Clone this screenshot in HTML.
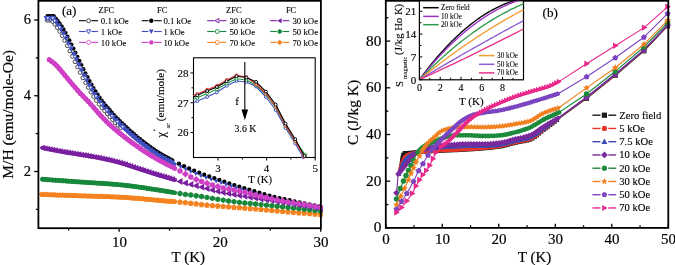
<!DOCTYPE html>
<html><head><meta charset="utf-8"><style>html,body{margin:0;padding:0;background:#fff;}svg{display:block;will-change:transform;}</style></head><body>
<svg width="675" height="265" viewBox="0 0 675 265">
<rect width="675" height="265" fill="#fff"/>
<g font-family='"Liberation Serif", serif' stroke-width="0">
<polyline points="41.8,194.5 42.8,194.5 43.8,194.6 44.8,194.6 45.8,194.6 46.8,194.7 47.8,194.7 48.8,194.7 49.8,194.8 50.8,194.8 51.8,194.8 52.8,194.9 53.8,194.9 54.8,194.9 55.8,195.0 56.8,195.0 57.8,195.0 58.8,195.1 59.8,195.1 60.8,195.1 61.8,195.2 62.8,195.2 63.8,195.2 64.8,195.3 65.8,195.3 66.8,195.3 67.8,195.4 68.8,195.4 69.8,195.5 70.8,195.5 71.8,195.5 72.8,195.6 73.8,195.6 74.8,195.6 75.8,195.7 76.8,195.7 77.8,195.7 78.8,195.8 79.8,195.8 80.8,195.8 81.8,195.9 82.8,195.9 83.8,195.9 84.8,196.0 85.8,196.0 86.8,196.0 87.8,196.1 88.8,196.1 89.8,196.1 90.8,196.1 91.8,196.2 92.8,196.2 93.8,196.2 94.8,196.3 95.8,196.3 96.8,196.3 97.8,196.4 98.8,196.4 99.8,196.4 100.8,196.5 101.8,196.5 102.8,196.5 103.8,196.5 104.8,196.6 105.8,196.6 106.8,196.7 107.8,196.7 108.8,196.7 109.8,196.8 110.8,196.8 111.8,196.8 112.8,196.9 113.8,196.9 114.8,197.0 115.8,197.0 116.8,197.0 117.8,197.1 118.8,197.1 119.8,197.2 120.8,197.2 121.8,197.3 122.8,197.4 123.8,197.4 124.8,197.5 125.8,197.5 126.8,197.6 127.8,197.7 128.8,197.7 129.8,197.8 130.8,197.9 131.8,198.0 132.8,198.1 133.8,198.1 134.8,198.2 135.8,198.3 136.8,198.4 137.8,198.5 138.8,198.6 139.8,198.7 140.8,198.8 141.8,198.8 142.8,198.9 143.8,199.0 144.8,199.1 145.8,199.2 146.8,199.3 147.8,199.4 148.8,199.5 149.8,199.6 150.8,199.7 151.8,199.8 152.8,199.9 153.8,200.0 154.8,200.0 155.8,200.1 156.8,200.2 157.8,200.3 158.8,200.4 159.8,200.5 160.8,200.6 161.8,200.6 162.8,200.7 163.8,200.8 164.8,200.9 165.8,201.0 166.8,201.1 167.8,201.1 168.8,201.2 169.8,201.3 170.8,201.4 171.8,201.5 172.8,201.5 173.8,201.6 174.8,201.7 174.8,201.7" fill="none" stroke="#f5821f" stroke-width="4.2" stroke-linejoin="round" stroke-linecap="round" />
<polygon points="41.8,191.6 44.5,193.6 43.5,196.8 40.1,196.8 39.1,193.6" fill="#f5821f"/>
<polygon points="44.4,191.7 47.1,193.7 46.1,196.9 42.7,196.9 41.7,193.7" fill="#f5821f"/>
<polygon points="47.0,191.8 49.7,193.8 48.7,197.0 45.3,197.0 44.3,193.8" fill="#f5821f"/>
<polygon points="49.6,191.9 52.3,193.9 51.3,197.1 47.9,197.1 46.9,193.9" fill="#f5821f"/>
<polygon points="52.2,192.0 54.9,194.0 53.9,197.2 50.5,197.2 49.5,194.0" fill="#f5821f"/>
<polygon points="54.8,192.1 57.5,194.1 56.5,197.3 53.1,197.3 52.1,194.1" fill="#f5821f"/>
<polygon points="57.4,192.2 60.1,194.1 59.1,197.4 55.7,197.4 54.7,194.1" fill="#f5821f"/>
<polygon points="60.0,192.2 62.7,194.2 61.7,197.4 58.3,197.4 57.3,194.2" fill="#f5821f"/>
<polygon points="62.6,192.3 65.3,194.3 64.3,197.5 60.9,197.5 59.9,194.3" fill="#f5821f"/>
<polygon points="65.2,192.4 67.9,194.4 66.9,197.6 63.5,197.6 62.5,194.4" fill="#f5821f"/>
<polygon points="67.8,192.5 70.5,194.5 69.5,197.7 66.1,197.7 65.1,194.5" fill="#f5821f"/>
<polygon points="70.4,192.6 73.1,194.6 72.1,197.8 68.7,197.8 67.7,194.6" fill="#f5821f"/>
<polygon points="73.0,192.7 75.7,194.7 74.7,197.9 71.3,197.9 70.3,194.7" fill="#f5821f"/>
<polygon points="75.6,192.8 78.3,194.8 77.3,198.0 73.9,198.0 72.9,194.8" fill="#f5821f"/>
<polygon points="78.2,192.9 80.9,194.8 79.9,198.1 76.5,198.1 75.5,194.8" fill="#f5821f"/>
<polygon points="80.8,193.0 83.5,194.9 82.5,198.2 79.1,198.2 78.1,194.9" fill="#f5821f"/>
<polygon points="83.4,193.0 86.1,195.0 85.1,198.2 81.7,198.2 80.7,195.0" fill="#f5821f"/>
<polygon points="86.0,193.1 88.7,195.1 87.7,198.3 84.3,198.3 83.3,195.1" fill="#f5821f"/>
<polygon points="88.6,193.2 91.3,195.2 90.3,198.4 86.9,198.4 85.9,195.2" fill="#f5821f"/>
<polygon points="91.2,193.3 93.9,195.3 92.9,198.5 89.5,198.5 88.5,195.3" fill="#f5821f"/>
<polygon points="93.8,193.4 96.5,195.3 95.5,198.6 92.1,198.6 91.1,195.3" fill="#f5821f"/>
<polygon points="96.4,193.4 99.1,195.4 98.1,198.6 94.7,198.6 93.7,195.4" fill="#f5821f"/>
<polygon points="99.0,193.5 101.7,195.5 100.7,198.7 97.3,198.7 96.3,195.5" fill="#f5821f"/>
<polygon points="101.6,193.6 104.3,195.6 103.3,198.8 99.9,198.8 98.9,195.6" fill="#f5821f"/>
<polygon points="104.2,193.7 106.9,195.7 105.9,198.9 102.5,198.9 101.5,195.7" fill="#f5821f"/>
<polygon points="106.8,193.8 109.5,195.8 108.5,199.0 105.1,199.0 104.1,195.8" fill="#f5821f"/>
<polygon points="109.4,193.9 112.1,195.9 111.1,199.1 107.7,199.1 106.7,195.9" fill="#f5821f"/>
<polygon points="112.0,194.0 114.7,196.0 113.7,199.2 110.3,199.2 109.3,196.0" fill="#f5821f"/>
<polygon points="114.6,194.1 117.3,196.1 116.3,199.3 112.9,199.3 111.9,196.1" fill="#f5821f"/>
<polygon points="117.2,194.2 119.9,196.2 118.9,199.4 115.5,199.4 114.5,196.2" fill="#f5821f"/>
<polygon points="119.8,194.3 122.5,196.3 121.5,199.5 118.1,199.5 117.1,196.3" fill="#f5821f"/>
<polygon points="122.4,194.5 125.1,196.4 124.1,199.7 120.7,199.7 119.7,196.4" fill="#f5821f"/>
<polygon points="125.0,194.6 127.7,196.6 126.7,199.8 123.3,199.8 122.3,196.6" fill="#f5821f"/>
<polygon points="127.6,194.8 130.3,196.8 129.3,200.0 125.9,200.0 124.9,196.8" fill="#f5821f"/>
<polygon points="130.2,195.0 132.9,197.0 131.9,200.2 128.5,200.2 127.5,197.0" fill="#f5821f"/>
<polygon points="132.8,195.2 135.5,197.2 134.5,200.4 131.1,200.4 130.1,197.2" fill="#f5821f"/>
<polygon points="135.4,195.4 138.1,197.4 137.1,200.6 133.7,200.6 132.7,197.4" fill="#f5821f"/>
<polygon points="138.0,195.6 140.7,197.6 139.7,200.8 136.3,200.8 135.3,197.6" fill="#f5821f"/>
<polygon points="140.6,195.9 143.3,197.8 142.3,201.1 138.9,201.1 137.9,197.8" fill="#f5821f"/>
<polygon points="143.2,196.1 145.9,198.1 144.9,201.3 141.5,201.3 140.5,198.1" fill="#f5821f"/>
<polygon points="145.8,196.3 148.5,198.3 147.5,201.5 144.1,201.5 143.1,198.3" fill="#f5821f"/>
<polygon points="148.4,196.6 151.1,198.6 150.1,201.8 146.7,201.8 145.7,198.6" fill="#f5821f"/>
<polygon points="151.0,196.8 153.7,198.8 152.7,202.0 149.3,202.0 148.3,198.8" fill="#f5821f"/>
<polygon points="153.6,197.1 156.3,199.1 155.3,202.3 151.9,202.3 150.9,199.1" fill="#f5821f"/>
<polygon points="156.2,197.3 158.9,199.3 157.9,202.5 154.5,202.5 153.5,199.3" fill="#f5821f"/>
<polygon points="158.8,197.5 161.5,199.5 160.5,202.7 157.1,202.7 156.1,199.5" fill="#f5821f"/>
<polygon points="161.4,197.7 164.1,199.7 163.1,202.9 159.7,202.9 158.7,199.7" fill="#f5821f"/>
<polygon points="164.0,198.0 166.7,199.9 165.7,203.2 162.3,203.2 161.3,199.9" fill="#f5821f"/>
<polygon points="166.6,198.2 169.3,200.1 168.3,203.4 164.9,203.4 163.9,200.1" fill="#f5821f"/>
<polygon points="169.2,198.4 171.9,200.4 170.9,203.6 167.5,203.6 166.5,200.4" fill="#f5821f"/>
<polygon points="171.8,198.6 174.5,200.6 173.5,203.8 170.1,203.8 169.1,200.6" fill="#f5821f"/>
<polygon points="174.4,198.8 177.1,200.8 176.1,204.0 172.7,204.0 171.7,200.8" fill="#f5821f"/>
<polygon points="180.0,199.0 183.0,201.2 181.9,204.7 178.1,204.7 177.0,201.2" fill="#f5821f"/>
<polygon points="185.4,199.5 188.4,201.7 187.3,205.2 183.5,205.2 182.4,201.7" fill="#f5821f"/>
<polygon points="190.8,200.2 193.8,202.3 192.7,205.9 188.9,205.9 187.8,202.3" fill="#f5821f"/>
<polygon points="196.2,200.8 199.2,203.0 198.1,206.5 194.3,206.5 193.2,203.0" fill="#f5821f"/>
<polygon points="201.6,201.5 204.6,203.6 203.5,207.2 199.7,207.2 198.6,203.6" fill="#f5821f"/>
<polygon points="207.0,202.0 210.0,204.2 208.9,207.7 205.1,207.7 204.0,204.2" fill="#f5821f"/>
<polygon points="212.4,202.5 215.4,204.7 214.3,208.2 210.5,208.2 209.4,204.7" fill="#f5821f"/>
<polygon points="217.8,202.9 220.8,205.1 219.7,208.7 215.9,208.7 214.8,205.1" fill="#f5821f"/>
<polygon points="223.2,203.4 226.2,205.5 225.1,209.1 221.3,209.1 220.2,205.5" fill="#f5821f"/>
<polygon points="228.6,203.8 231.6,206.0 230.5,209.5 226.7,209.5 225.6,206.0" fill="#f5821f"/>
<polygon points="234.0,204.2 237.0,206.4 235.9,209.9 232.1,209.9 231.0,206.4" fill="#f5821f"/>
<polygon points="239.4,204.6 242.4,206.8 241.3,210.3 237.5,210.3 236.4,206.8" fill="#f5821f"/>
<polygon points="244.8,205.0 247.8,207.2 246.7,210.7 242.9,210.7 241.8,207.2" fill="#f5821f"/>
<polygon points="250.2,205.5 253.2,207.6 252.1,211.2 248.3,211.2 247.2,207.6" fill="#f5821f"/>
<polygon points="255.6,205.9 258.6,208.1 257.5,211.6 253.7,211.6 252.6,208.1" fill="#f5821f"/>
<polygon points="261.0,206.4 264.0,208.5 262.9,212.1 259.1,212.1 258.0,208.5" fill="#f5821f"/>
<polygon points="266.4,206.8 269.4,209.0 268.3,212.5 264.5,212.5 263.4,209.0" fill="#f5821f"/>
<polygon points="271.8,207.3 274.8,209.4 273.7,213.0 269.9,213.0 268.8,209.4" fill="#f5821f"/>
<polygon points="277.2,207.7 280.2,209.9 279.1,213.4 275.3,213.4 274.2,209.9" fill="#f5821f"/>
<polygon points="282.6,208.2 285.6,210.4 284.5,213.9 280.7,213.9 279.6,210.4" fill="#f5821f"/>
<polygon points="288.0,208.7 291.0,210.9 289.9,214.4 286.1,214.4 285.0,210.9" fill="#f5821f"/>
<polygon points="293.4,209.2 296.4,211.3 295.3,214.9 291.5,214.9 290.4,211.3" fill="#f5821f"/>
<polygon points="298.8,209.6 301.8,211.8 300.7,215.4 296.9,215.4 295.8,211.8" fill="#f5821f"/>
<polygon points="304.2,210.1 307.2,212.3 306.1,215.8 302.3,215.8 301.2,212.3" fill="#f5821f"/>
<polygon points="309.6,210.6 312.6,212.8 311.5,216.3 307.7,216.3 306.6,212.8" fill="#f5821f"/>
<polygon points="315.0,211.1 318.0,213.3 316.9,216.8 313.1,216.8 312.0,213.3" fill="#f5821f"/>
<polygon points="320.4,211.6 323.4,213.8 322.3,217.3 318.5,217.3 317.4,213.8" fill="#f5821f"/>
<polyline points="42.5,179.3 43.5,179.4 44.5,179.4 45.5,179.5 46.5,179.6 47.5,179.7 48.5,179.7 49.5,179.8 50.5,179.9 51.5,179.9 52.5,180.0 53.5,180.1 54.5,180.2 55.5,180.2 56.5,180.3 57.5,180.4 58.5,180.5 59.5,180.5 60.5,180.6 61.5,180.7 62.5,180.7 63.5,180.8 64.5,180.9 65.5,181.0 66.5,181.0 67.5,181.1 68.5,181.2 69.5,181.2 70.5,181.3 71.5,181.4 72.5,181.5 73.5,181.5 74.5,181.6 75.5,181.7 76.5,181.8 77.5,181.8 78.5,181.9 79.5,182.0 80.5,182.0 81.5,182.1 82.5,182.2 83.5,182.2 84.5,182.3 85.5,182.4 86.5,182.4 87.5,182.5 88.5,182.6 89.5,182.6 90.5,182.7 91.5,182.8 92.5,182.8 93.5,182.9 94.5,182.9 95.5,183.0 96.5,183.1 97.5,183.1 98.5,183.2 99.5,183.3 100.5,183.3 101.5,183.4 102.5,183.5 103.5,183.5 104.5,183.6 105.5,183.7 106.5,183.7 107.5,183.8 108.5,183.9 109.5,183.9 110.5,184.0 111.5,184.1 112.5,184.2 113.5,184.2 114.5,184.3 115.5,184.4 116.5,184.5 117.5,184.6 118.5,184.7 119.5,184.8 120.5,184.8 121.5,184.9 122.5,185.0 123.5,185.1 124.5,185.3 125.5,185.4 126.5,185.5 127.5,185.6 128.5,185.7 129.5,185.8 130.5,186.0 131.5,186.1 132.5,186.2 133.5,186.4 134.5,186.5 135.5,186.6 136.5,186.8 137.5,186.9 138.5,187.0 139.5,187.2 140.5,187.3 141.5,187.5 142.5,187.6 143.5,187.8 144.5,187.9 145.5,188.1 146.5,188.2 147.5,188.4 148.5,188.5 149.5,188.7 150.5,188.8 151.5,189.0 152.5,189.2 153.5,189.3 154.5,189.5 155.5,189.6 156.5,189.8 157.5,189.9 158.5,190.1 159.5,190.2 160.5,190.4 161.5,190.5 162.5,190.7 163.5,190.8 164.5,191.0 165.5,191.2 166.5,191.3 167.5,191.5 168.5,191.7 169.5,191.8 170.5,192.0 171.5,192.2 172.5,192.3 173.5,192.5 174.5,192.7 175.0,192.8" fill="none" stroke="#17883b" stroke-width="4.3" stroke-linejoin="round" stroke-linecap="round" />
<polygon points="42.5,182.0 40.2,180.6 40.2,178.0 42.5,176.6 44.8,178.0 44.8,180.6" fill="#17883b"/>
<polygon points="45.1,182.2 42.8,180.8 42.8,178.1 45.1,176.8 47.4,178.1 47.4,180.8" fill="#17883b"/>
<polygon points="47.7,182.4 45.4,181.0 45.4,178.3 47.7,177.0 50.0,178.3 50.0,181.0" fill="#17883b"/>
<polygon points="50.3,182.6 48.0,181.2 48.0,178.5 50.3,177.2 52.6,178.5 52.6,181.2" fill="#17883b"/>
<polygon points="52.9,182.7 50.6,181.4 50.6,178.7 52.9,177.4 55.2,178.7 55.2,181.4" fill="#17883b"/>
<polygon points="55.5,182.9 53.2,181.6 53.2,178.9 55.5,177.5 57.8,178.9 57.8,181.6" fill="#17883b"/>
<polygon points="58.1,183.1 55.8,181.8 55.8,179.1 58.1,177.7 60.4,179.1 60.4,181.8" fill="#17883b"/>
<polygon points="60.7,183.3 58.4,182.0 58.4,179.3 60.7,177.9 63.0,179.3 63.0,182.0" fill="#17883b"/>
<polygon points="63.3,183.5 61.0,182.2 61.0,179.5 63.3,178.1 65.6,179.5 65.6,182.2" fill="#17883b"/>
<polygon points="65.9,183.7 63.6,182.3 63.6,179.6 65.9,178.3 68.2,179.6 68.2,182.3" fill="#17883b"/>
<polygon points="68.5,183.9 66.2,182.5 66.2,179.8 68.5,178.5 70.8,179.8 70.8,182.5" fill="#17883b"/>
<polygon points="71.1,184.1 68.8,182.7 68.8,180.0 71.1,178.7 73.4,180.0 73.4,182.7" fill="#17883b"/>
<polygon points="73.7,184.2 71.4,182.9 71.4,180.2 73.7,178.9 76.0,180.2 76.0,182.9" fill="#17883b"/>
<polygon points="76.3,184.4 74.0,183.1 74.0,180.4 76.3,179.0 78.6,180.4 78.6,183.1" fill="#17883b"/>
<polygon points="78.9,184.6 76.6,183.3 76.6,180.6 78.9,179.2 81.2,180.6 81.2,183.3" fill="#17883b"/>
<polygon points="81.5,184.8 79.2,183.5 79.2,180.8 81.5,179.4 83.8,180.8 83.8,183.5" fill="#17883b"/>
<polygon points="84.1,185.0 81.8,183.6 81.8,180.9 84.1,179.6 86.4,180.9 86.4,183.6" fill="#17883b"/>
<polygon points="86.7,185.1 84.4,183.8 84.4,181.1 86.7,179.8 89.0,181.1 89.0,183.8" fill="#17883b"/>
<polygon points="89.3,185.3 87.0,184.0 87.0,181.3 89.3,179.9 91.6,181.3 91.6,184.0" fill="#17883b"/>
<polygon points="91.9,185.5 89.6,184.1 89.6,181.4 91.9,180.1 94.2,181.4 94.2,184.1" fill="#17883b"/>
<polygon points="94.5,185.6 92.2,184.3 92.2,181.6 94.5,180.2 96.8,181.6 96.8,184.3" fill="#17883b"/>
<polygon points="97.1,185.8 94.8,184.5 94.8,181.8 97.1,180.4 99.4,181.8 99.4,184.5" fill="#17883b"/>
<polygon points="99.7,186.0 97.4,184.6 97.4,181.9 99.7,180.6 102.0,181.9 102.0,184.6" fill="#17883b"/>
<polygon points="102.3,186.1 100.0,184.8 100.0,182.1 102.3,180.7 104.6,182.1 104.6,184.8" fill="#17883b"/>
<polygon points="104.9,186.3 102.6,185.0 102.6,182.3 104.9,180.9 107.2,182.3 107.2,185.0" fill="#17883b"/>
<polygon points="107.5,186.5 105.2,185.1 105.2,182.4 107.5,181.1 109.8,182.4 109.8,185.1" fill="#17883b"/>
<polygon points="110.1,186.7 107.8,185.3 107.8,182.6 110.1,181.3 112.4,182.6 112.4,185.3" fill="#17883b"/>
<polygon points="112.7,186.9 110.4,185.5 110.4,182.8 112.7,181.5 115.0,182.8 115.0,185.5" fill="#17883b"/>
<polygon points="115.3,187.1 113.0,185.7 113.0,183.0 115.3,181.7 117.6,183.0 117.6,185.7" fill="#17883b"/>
<polygon points="117.9,187.3 115.6,186.0 115.6,183.3 117.9,181.9 120.2,183.3 120.2,186.0" fill="#17883b"/>
<polygon points="120.5,187.5 118.2,186.2 118.2,183.5 120.5,182.2 122.8,183.5 122.8,186.2" fill="#17883b"/>
<polygon points="123.1,187.8 120.8,186.5 120.8,183.8 123.1,182.4 125.4,183.8 125.4,186.5" fill="#17883b"/>
<polygon points="125.7,188.1 123.4,186.7 123.4,184.0 125.7,182.7 128.0,184.0 128.0,186.7" fill="#17883b"/>
<polygon points="128.3,188.4 126.0,187.0 126.0,184.3 128.3,183.0 130.6,184.3 130.6,187.0" fill="#17883b"/>
<polygon points="130.9,188.7 128.6,187.4 128.6,184.7 130.9,183.3 133.2,184.7 133.2,187.4" fill="#17883b"/>
<polygon points="133.5,189.0 131.2,187.7 131.2,185.0 133.5,183.7 135.8,185.0 135.8,187.7" fill="#17883b"/>
<polygon points="136.1,189.4 133.8,188.1 133.8,185.4 136.1,184.0 138.4,185.4 138.4,188.1" fill="#17883b"/>
<polygon points="138.7,189.8 136.4,188.4 136.4,185.7 138.7,184.4 141.0,185.7 141.0,188.4" fill="#17883b"/>
<polygon points="141.3,190.1 139.0,188.8 139.0,186.1 141.3,184.8 143.6,186.1 143.6,188.8" fill="#17883b"/>
<polygon points="143.9,190.5 141.6,189.2 141.6,186.5 143.9,185.1 146.2,186.5 146.2,189.2" fill="#17883b"/>
<polygon points="146.5,190.9 144.2,189.6 144.2,186.9 146.5,185.5 148.8,186.9 148.8,189.6" fill="#17883b"/>
<polygon points="149.1,191.3 146.8,190.0 146.8,187.3 149.1,185.9 151.4,187.3 151.4,190.0" fill="#17883b"/>
<polygon points="151.7,191.7 149.4,190.4 149.4,187.7 151.7,186.3 154.0,187.7 154.0,190.4" fill="#17883b"/>
<polygon points="154.3,192.1 152.0,190.8 152.0,188.1 154.3,186.7 156.6,188.1 156.6,190.8" fill="#17883b"/>
<polygon points="156.9,192.5 154.6,191.2 154.6,188.5 156.9,187.1 159.2,188.5 159.2,191.2" fill="#17883b"/>
<polygon points="159.5,192.9 157.2,191.6 157.2,188.9 159.5,187.5 161.8,188.9 161.8,191.6" fill="#17883b"/>
<polygon points="162.1,193.3 159.8,192.0 159.8,189.3 162.1,187.9 164.4,189.3 164.4,192.0" fill="#17883b"/>
<polygon points="164.7,193.7 162.4,192.4 162.4,189.7 164.7,188.3 167.0,189.7 167.0,192.4" fill="#17883b"/>
<polygon points="167.3,194.2 165.0,192.8 165.0,190.1 167.3,188.8 169.6,190.1 169.6,192.8" fill="#17883b"/>
<polygon points="169.9,194.6 167.6,193.3 167.6,190.6 169.9,189.2 172.2,190.6 172.2,193.3" fill="#17883b"/>
<polygon points="172.5,195.0 170.2,193.7 170.2,191.0 172.5,189.7 174.8,191.0 174.8,193.7" fill="#17883b"/>
<polygon points="180.0,196.5 177.4,195.1 177.4,192.1 180.0,190.6 182.6,192.1 182.6,195.1" fill="#17883b"/>
<polygon points="185.4,197.3 182.8,195.9 182.8,192.9 185.4,191.4 188.0,192.9 188.0,195.9" fill="#17883b"/>
<polygon points="190.8,198.1 188.2,196.6 188.2,193.6 190.8,192.1 193.4,193.6 193.4,196.6" fill="#17883b"/>
<polygon points="196.2,198.8 193.6,197.3 193.6,194.3 196.2,192.8 198.8,194.3 198.8,197.3" fill="#17883b"/>
<polygon points="201.6,199.5 199.0,198.0 199.0,195.1 201.6,193.6 204.2,195.1 204.2,198.0" fill="#17883b"/>
<polygon points="207.0,200.3 204.4,198.9 204.4,195.9 207.0,194.4 209.6,195.9 209.6,198.9" fill="#17883b"/>
<polygon points="212.4,201.3 209.8,199.8 209.8,196.9 212.4,195.4 215.0,196.9 215.0,199.8" fill="#17883b"/>
<polygon points="217.8,202.3 215.2,200.8 215.2,197.8 217.8,196.4 220.4,197.8 220.4,200.8" fill="#17883b"/>
<polygon points="223.2,203.1 220.6,201.6 220.6,198.7 223.2,197.2 225.8,198.7 225.8,201.6" fill="#17883b"/>
<polygon points="228.6,203.9 226.0,202.4 226.0,199.4 228.6,198.0 231.2,199.4 231.2,202.4" fill="#17883b"/>
<polygon points="234.0,204.6 231.4,203.1 231.4,200.2 234.0,198.7 236.6,200.2 236.6,203.1" fill="#17883b"/>
<polygon points="239.4,205.3 236.8,203.8 236.8,200.9 239.4,199.4 242.0,200.9 242.0,203.8" fill="#17883b"/>
<polygon points="244.8,205.9 242.2,204.5 242.2,201.5 244.8,200.0 247.4,201.5 247.4,204.5" fill="#17883b"/>
<polygon points="250.2,206.5 247.6,205.1 247.6,202.1 250.2,200.6 252.8,202.1 252.8,205.1" fill="#17883b"/>
<polygon points="255.6,207.1 253.0,205.6 253.0,202.6 255.6,201.1 258.2,202.6 258.2,205.6" fill="#17883b"/>
<polygon points="261.0,207.6 258.4,206.1 258.4,203.2 261.0,201.7 263.6,203.2 263.6,206.1" fill="#17883b"/>
<polygon points="266.4,208.1 263.8,206.6 263.8,203.7 266.4,202.2 269.0,203.7 269.0,206.6" fill="#17883b"/>
<polygon points="271.8,208.6 269.2,207.2 269.2,204.2 271.8,202.7 274.4,204.2 274.4,207.2" fill="#17883b"/>
<polygon points="277.2,209.2 274.6,207.7 274.6,204.7 277.2,203.3 279.8,204.7 279.8,207.7" fill="#17883b"/>
<polygon points="282.6,209.8 280.0,208.3 280.0,205.3 282.6,203.8 285.2,205.3 285.2,208.3" fill="#17883b"/>
<polygon points="288.0,210.4 285.4,208.9 285.4,205.9 288.0,204.4 290.6,205.9 290.6,208.9" fill="#17883b"/>
<polygon points="293.4,211.0 290.8,209.5 290.8,206.5 293.4,205.0 296.0,206.5 296.0,209.5" fill="#17883b"/>
<polygon points="298.8,211.6 296.2,210.1 296.2,207.1 298.8,205.6 301.4,207.1 301.4,210.1" fill="#17883b"/>
<polygon points="304.2,212.2 301.6,210.7 301.6,207.7 304.2,206.3 306.8,207.7 306.8,210.7" fill="#17883b"/>
<polygon points="309.6,212.8 307.0,211.3 307.0,208.4 309.6,206.9 312.2,208.4 312.2,211.3" fill="#17883b"/>
<polygon points="315.0,213.4 312.4,211.9 312.4,209.0 315.0,207.5 317.6,209.0 317.6,211.9" fill="#17883b"/>
<polygon points="320.4,214.0 317.8,212.5 317.8,209.6 320.4,208.1 323.0,209.6 323.0,212.5" fill="#17883b"/>
<polyline points="42.5,147.8 43.5,148.0 44.5,148.2 45.5,148.4 46.5,148.6 47.5,148.8 48.5,149.0 49.5,149.2 50.5,149.4 51.5,149.6 52.5,149.8 53.5,150.0 54.5,150.2 55.5,150.4 56.5,150.6 57.5,150.8 58.5,151.0 59.5,151.1 60.5,151.3 61.5,151.5 62.5,151.7 63.5,151.9 64.5,152.0 65.5,152.2 66.5,152.4 67.5,152.5 68.5,152.7 69.5,152.8 70.5,153.0 71.5,153.2 72.5,153.3 73.5,153.5 74.5,153.6 75.5,153.8 76.5,154.0 77.5,154.1 78.5,154.3 79.5,154.5 80.5,154.6 81.5,154.8 82.5,155.0 83.5,155.1 84.5,155.3 85.5,155.5 86.5,155.6 87.5,155.8 88.5,155.9 89.5,156.1 90.5,156.3 91.5,156.4 92.5,156.6 93.5,156.8 94.5,157.0 95.5,157.1 96.5,157.3 97.5,157.5 98.5,157.7 99.5,157.9 100.5,158.1 101.5,158.3 102.5,158.5 103.5,158.7 104.5,158.9 105.5,159.2 106.5,159.4 107.5,159.6 108.5,159.8 109.5,160.1 110.5,160.3 111.5,160.5 112.5,160.8 113.5,161.0 114.5,161.3 115.5,161.5 116.5,161.8 117.5,162.1 118.5,162.3 119.5,162.6 120.5,162.9 121.5,163.2 122.5,163.5 123.5,163.8 124.5,164.1 125.5,164.4 126.5,164.7 127.5,165.0 128.5,165.4 129.5,165.7 130.5,166.0 131.5,166.4 132.5,166.7 133.5,167.1 134.5,167.4 135.5,167.7 136.5,168.1 137.5,168.4 138.5,168.7 139.5,169.0 140.5,169.3 141.5,169.7 142.5,170.0 143.5,170.3 144.5,170.6 145.5,171.0 146.5,171.3 147.5,171.6 148.5,171.9 149.5,172.3 150.5,172.6 151.5,172.9 152.5,173.2 153.5,173.5 154.5,173.8 155.5,174.1 156.5,174.5 157.5,174.8 158.5,175.1 159.5,175.4 160.5,175.6 161.5,175.9 162.5,176.2 163.5,176.5 164.5,176.8 165.5,177.1 166.5,177.4 167.5,177.7 168.5,178.0 169.5,178.3 170.5,178.6 171.5,178.9 172.5,179.2 173.5,179.5 174.5,179.8 175.0,179.9" fill="none" stroke="#7a1fa0" stroke-width="4.2" stroke-linejoin="round" stroke-linecap="round" />
<polygon points="39.3,147.8 44.8,144.7 44.8,150.9" fill="#7a1fa0"/>
<polygon points="41.9,148.3 47.4,145.2 47.4,151.4" fill="#7a1fa0"/>
<polygon points="44.5,148.8 50.0,145.7 50.0,151.9" fill="#7a1fa0"/>
<polygon points="47.1,149.4 52.6,146.3 52.6,152.5" fill="#7a1fa0"/>
<polygon points="49.7,149.9 55.2,146.8 55.2,153.0" fill="#7a1fa0"/>
<polygon points="52.3,150.4 57.8,147.3 57.8,153.5" fill="#7a1fa0"/>
<polygon points="54.9,150.9 60.4,147.8 60.4,154.0" fill="#7a1fa0"/>
<polygon points="57.5,151.4 63.0,148.3 63.0,154.5" fill="#7a1fa0"/>
<polygon points="60.1,151.8 65.6,148.7 65.6,154.9" fill="#7a1fa0"/>
<polygon points="62.7,152.3 68.2,149.1 68.2,155.4" fill="#7a1fa0"/>
<polygon points="65.3,152.7 70.8,149.6 70.8,155.8" fill="#7a1fa0"/>
<polygon points="67.9,153.1 73.4,150.0 73.4,156.2" fill="#7a1fa0"/>
<polygon points="70.5,153.5 76.0,150.4 76.0,156.6" fill="#7a1fa0"/>
<polygon points="73.1,153.9 78.6,150.8 78.6,157.0" fill="#7a1fa0"/>
<polygon points="75.7,154.4 81.2,151.3 81.2,157.5" fill="#7a1fa0"/>
<polygon points="78.3,154.8 83.8,151.7 83.8,157.9" fill="#7a1fa0"/>
<polygon points="80.9,155.2 86.4,152.1 86.4,158.3" fill="#7a1fa0"/>
<polygon points="83.5,155.6 89.0,152.5 89.0,158.8" fill="#7a1fa0"/>
<polygon points="86.1,156.1 91.6,153.0 91.6,159.2" fill="#7a1fa0"/>
<polygon points="88.7,156.5 94.2,153.4 94.2,159.6" fill="#7a1fa0"/>
<polygon points="91.3,157.0 96.8,153.9 96.8,160.1" fill="#7a1fa0"/>
<polygon points="93.9,157.4 99.4,154.3 99.4,160.5" fill="#7a1fa0"/>
<polygon points="96.5,157.9 102.0,154.8 102.0,161.0" fill="#7a1fa0"/>
<polygon points="99.1,158.5 104.6,155.4 104.6,161.6" fill="#7a1fa0"/>
<polygon points="101.7,159.0 107.2,155.9 107.2,162.1" fill="#7a1fa0"/>
<polygon points="104.3,159.6 109.8,156.5 109.8,162.7" fill="#7a1fa0"/>
<polygon points="106.9,160.2 112.4,157.1 112.4,163.3" fill="#7a1fa0"/>
<polygon points="109.5,160.8 115.0,157.7 115.0,163.9" fill="#7a1fa0"/>
<polygon points="112.1,161.5 117.6,158.4 117.6,164.6" fill="#7a1fa0"/>
<polygon points="114.7,162.2 120.2,159.1 120.2,165.3" fill="#7a1fa0"/>
<polygon points="117.3,162.9 122.8,159.8 122.8,166.0" fill="#7a1fa0"/>
<polygon points="119.9,163.6 125.4,160.5 125.4,166.7" fill="#7a1fa0"/>
<polygon points="122.5,164.4 128.0,161.3 128.0,167.6" fill="#7a1fa0"/>
<polygon points="125.1,165.3 130.6,162.2 130.6,168.4" fill="#7a1fa0"/>
<polygon points="127.7,166.2 133.2,163.1 133.2,169.3" fill="#7a1fa0"/>
<polygon points="130.3,167.1 135.8,163.9 135.8,170.2" fill="#7a1fa0"/>
<polygon points="132.9,167.9 138.4,164.8 138.4,171.0" fill="#7a1fa0"/>
<polygon points="135.5,168.8 141.0,165.7 141.0,171.9" fill="#7a1fa0"/>
<polygon points="138.1,169.6 143.6,166.5 143.6,172.7" fill="#7a1fa0"/>
<polygon points="140.7,170.4 146.2,167.3 146.2,173.6" fill="#7a1fa0"/>
<polygon points="143.3,171.3 148.8,168.2 148.8,174.4" fill="#7a1fa0"/>
<polygon points="145.9,172.1 151.4,169.0 151.4,175.2" fill="#7a1fa0"/>
<polygon points="148.5,173.0 154.0,169.9 154.0,176.1" fill="#7a1fa0"/>
<polygon points="151.1,173.8 156.6,170.7 156.6,176.9" fill="#7a1fa0"/>
<polygon points="153.7,174.6 159.2,171.5 159.2,177.7" fill="#7a1fa0"/>
<polygon points="156.3,175.4 161.8,172.2 161.8,178.5" fill="#7a1fa0"/>
<polygon points="158.9,176.1 164.4,173.0 164.4,179.2" fill="#7a1fa0"/>
<polygon points="161.5,176.9 167.0,173.8 167.0,180.0" fill="#7a1fa0"/>
<polygon points="164.1,177.6 169.6,174.5 169.6,180.7" fill="#7a1fa0"/>
<polygon points="166.7,178.4 172.2,175.3 172.2,181.5" fill="#7a1fa0"/>
<polygon points="169.3,179.2 174.8,176.1 174.8,182.3" fill="#7a1fa0"/>
<polygon points="176.4,181.4 182.5,178.0 182.5,184.9" fill="#7a1fa0"/>
<polygon points="181.8,183.0 187.9,179.6 187.9,186.4" fill="#7a1fa0"/>
<polygon points="187.2,184.4 193.3,181.0 193.3,187.8" fill="#7a1fa0"/>
<polygon points="192.6,185.7 198.7,182.3 198.7,189.2" fill="#7a1fa0"/>
<polygon points="198.0,187.1 204.1,183.7 204.1,190.5" fill="#7a1fa0"/>
<polygon points="203.4,188.5 209.5,185.1 209.5,191.9" fill="#7a1fa0"/>
<polygon points="208.8,190.1 214.9,186.6 214.9,193.5" fill="#7a1fa0"/>
<polygon points="214.2,191.4 220.3,188.0 220.3,194.8" fill="#7a1fa0"/>
<polygon points="219.6,192.5 225.7,189.1 225.7,196.0" fill="#7a1fa0"/>
<polygon points="225.0,193.6 231.1,190.2 231.1,197.0" fill="#7a1fa0"/>
<polygon points="230.4,194.5 236.5,191.1 236.5,197.9" fill="#7a1fa0"/>
<polygon points="235.8,195.4 241.9,192.0 241.9,198.9" fill="#7a1fa0"/>
<polygon points="241.2,196.3 247.3,192.9 247.3,199.8" fill="#7a1fa0"/>
<polygon points="246.6,197.2 252.7,193.8 252.7,200.7" fill="#7a1fa0"/>
<polygon points="252.0,198.1 258.1,194.7 258.1,201.5" fill="#7a1fa0"/>
<polygon points="257.4,198.9 263.5,195.5 263.5,202.4" fill="#7a1fa0"/>
<polygon points="262.8,199.8 268.9,196.4 268.9,203.2" fill="#7a1fa0"/>
<polygon points="268.2,200.6 274.3,197.2 274.3,204.0" fill="#7a1fa0"/>
<polygon points="273.6,201.5 279.7,198.1 279.7,204.9" fill="#7a1fa0"/>
<polygon points="279.0,202.3 285.1,198.9 285.1,205.8" fill="#7a1fa0"/>
<polygon points="284.4,203.2 290.5,199.8 290.5,206.6" fill="#7a1fa0"/>
<polygon points="289.8,204.1 295.9,200.7 295.9,207.5" fill="#7a1fa0"/>
<polygon points="295.2,205.0 301.3,201.6 301.3,208.4" fill="#7a1fa0"/>
<polygon points="300.6,205.9 306.7,202.5 306.7,209.3" fill="#7a1fa0"/>
<polygon points="306.0,206.8 312.1,203.4 312.1,210.2" fill="#7a1fa0"/>
<polygon points="311.4,207.7 317.5,204.3 317.5,211.1" fill="#7a1fa0"/>
<polygon points="316.8,208.6 322.9,205.2 322.9,212.0" fill="#7a1fa0"/>
<circle cx="47.1" cy="20.3" r="1.90" fill="#fff" stroke="#333" stroke-width="0.9"/>
<circle cx="49.7" cy="20.3" r="1.90" fill="#fff" stroke="#333" stroke-width="0.9"/>
<circle cx="52.2" cy="20.4" r="1.90" fill="#fff" stroke="#333" stroke-width="0.9"/>
<circle cx="50.8" cy="19.4" r="1.90" fill="#fff" stroke="#333" stroke-width="0.9"/>
<circle cx="52.7" cy="21.5" r="1.90" fill="#fff" stroke="#333" stroke-width="0.9"/>
<circle cx="54.9" cy="24.2" r="1.90" fill="#fff" stroke="#333" stroke-width="0.9"/>
<circle cx="57.3" cy="27.6" r="1.90" fill="#fff" stroke="#333" stroke-width="0.9"/>
<circle cx="59.7" cy="31.4" r="1.90" fill="#fff" stroke="#333" stroke-width="0.9"/>
<circle cx="62.2" cy="35.7" r="1.90" fill="#fff" stroke="#333" stroke-width="0.9"/>
<circle cx="64.6" cy="40.4" r="1.90" fill="#fff" stroke="#333" stroke-width="0.9"/>
<circle cx="67.2" cy="45.7" r="1.90" fill="#fff" stroke="#333" stroke-width="0.9"/>
<circle cx="69.8" cy="51.0" r="1.90" fill="#fff" stroke="#333" stroke-width="0.9"/>
<circle cx="72.4" cy="56.3" r="1.90" fill="#fff" stroke="#333" stroke-width="0.9"/>
<circle cx="75.0" cy="61.7" r="1.90" fill="#fff" stroke="#333" stroke-width="0.9"/>
<circle cx="77.6" cy="67.0" r="1.90" fill="#fff" stroke="#333" stroke-width="0.9"/>
<circle cx="80.2" cy="72.4" r="1.90" fill="#fff" stroke="#333" stroke-width="0.9"/>
<circle cx="82.9" cy="77.8" r="1.90" fill="#fff" stroke="#333" stroke-width="0.9"/>
<circle cx="85.6" cy="82.7" r="1.90" fill="#fff" stroke="#333" stroke-width="0.9"/>
<circle cx="88.2" cy="87.5" r="1.90" fill="#fff" stroke="#333" stroke-width="0.9"/>
<circle cx="90.9" cy="92.1" r="1.90" fill="#fff" stroke="#333" stroke-width="0.9"/>
<circle cx="93.6" cy="96.4" r="1.90" fill="#fff" stroke="#333" stroke-width="0.9"/>
<circle cx="96.3" cy="100.4" r="1.90" fill="#fff" stroke="#333" stroke-width="0.9"/>
<circle cx="99.1" cy="104.2" r="1.90" fill="#fff" stroke="#333" stroke-width="0.9"/>
<circle cx="101.9" cy="107.7" r="1.90" fill="#fff" stroke="#333" stroke-width="0.9"/>
<circle cx="104.6" cy="110.8" r="1.90" fill="#fff" stroke="#333" stroke-width="0.9"/>
<circle cx="107.2" cy="113.8" r="1.90" fill="#fff" stroke="#333" stroke-width="0.9"/>
<circle cx="109.8" cy="116.8" r="1.90" fill="#fff" stroke="#333" stroke-width="0.9"/>
<circle cx="112.5" cy="119.7" r="1.90" fill="#fff" stroke="#333" stroke-width="0.9"/>
<circle cx="115.2" cy="122.6" r="1.90" fill="#fff" stroke="#333" stroke-width="0.9"/>
<circle cx="118.0" cy="125.3" r="1.90" fill="#fff" stroke="#333" stroke-width="0.9"/>
<circle cx="120.7" cy="127.8" r="1.90" fill="#fff" stroke="#333" stroke-width="0.9"/>
<circle cx="47.5" cy="16.0" r="2.10" fill="#000"/>
<circle cx="49.5" cy="16.0" r="2.10" fill="#000"/>
<circle cx="51.5" cy="16.0" r="2.10" fill="#000"/>
<circle cx="53.4" cy="16.1" r="2.10" fill="#000"/>
<circle cx="53.8" cy="16.3" r="2.10" fill="#000"/>
<circle cx="55.8" cy="18.6" r="2.10" fill="#000"/>
<circle cx="57.7" cy="20.8" r="2.10" fill="#000"/>
<circle cx="59.6" cy="23.4" r="2.10" fill="#000"/>
<circle cx="61.6" cy="26.3" r="2.10" fill="#000"/>
<circle cx="63.5" cy="29.4" r="2.10" fill="#000"/>
<circle cx="65.5" cy="32.8" r="2.10" fill="#000"/>
<circle cx="67.5" cy="36.5" r="2.10" fill="#000"/>
<circle cx="69.4" cy="40.4" r="2.10" fill="#000"/>
<circle cx="71.4" cy="44.5" r="2.10" fill="#000"/>
<circle cx="73.4" cy="48.6" r="2.10" fill="#000"/>
<circle cx="75.4" cy="52.7" r="2.10" fill="#000"/>
<circle cx="77.4" cy="56.8" r="2.10" fill="#000"/>
<circle cx="79.4" cy="60.9" r="2.10" fill="#000"/>
<circle cx="81.4" cy="65.1" r="2.10" fill="#000"/>
<circle cx="83.4" cy="69.2" r="2.10" fill="#000"/>
<circle cx="85.4" cy="73.3" r="2.10" fill="#000"/>
<circle cx="87.5" cy="77.2" r="2.10" fill="#000"/>
<circle cx="89.5" cy="81.0" r="2.10" fill="#000"/>
<circle cx="91.5" cy="84.6" r="2.10" fill="#000"/>
<circle cx="93.5" cy="88.1" r="2.10" fill="#000"/>
<circle cx="95.5" cy="91.4" r="2.10" fill="#000"/>
<circle cx="97.6" cy="94.6" r="2.10" fill="#000"/>
<circle cx="99.6" cy="97.6" r="2.10" fill="#000"/>
<circle cx="101.7" cy="100.5" r="2.10" fill="#000"/>
<circle cx="103.7" cy="103.1" r="2.10" fill="#000"/>
<circle cx="105.7" cy="105.6" r="2.10" fill="#000"/>
<circle cx="107.8" cy="107.9" r="2.10" fill="#000"/>
<circle cx="109.8" cy="110.2" r="2.10" fill="#000"/>
<circle cx="111.8" cy="112.5" r="2.10" fill="#000"/>
<circle cx="113.8" cy="114.8" r="2.10" fill="#000"/>
<circle cx="115.8" cy="117.0" r="2.10" fill="#000"/>
<circle cx="117.9" cy="119.1" r="2.10" fill="#000"/>
<circle cx="119.9" cy="121.1" r="2.10" fill="#000"/>
<circle cx="121.9" cy="123.1" r="2.10" fill="#000"/>
<circle cx="123.9" cy="124.9" r="2.10" fill="#000"/>
<circle cx="125.9" cy="126.8" r="2.10" fill="#000"/>
<circle cx="127.9" cy="128.7" r="2.10" fill="#000"/>
<circle cx="129.9" cy="130.5" r="2.10" fill="#000"/>
<circle cx="132.0" cy="132.3" r="2.10" fill="#000"/>
<circle cx="134.0" cy="134.1" r="2.10" fill="#000"/>
<circle cx="136.0" cy="135.9" r="2.10" fill="#000"/>
<circle cx="138.0" cy="137.6" r="2.10" fill="#000"/>
<circle cx="140.1" cy="139.2" r="2.10" fill="#000"/>
<circle cx="142.1" cy="140.8" r="2.10" fill="#000"/>
<circle cx="144.1" cy="142.4" r="2.10" fill="#000"/>
<circle cx="146.1" cy="143.9" r="2.10" fill="#000"/>
<circle cx="148.1" cy="145.4" r="2.10" fill="#000"/>
<circle cx="150.2" cy="146.9" r="2.10" fill="#000"/>
<circle cx="152.2" cy="148.3" r="2.10" fill="#000"/>
<circle cx="154.2" cy="149.7" r="2.10" fill="#000"/>
<circle cx="156.2" cy="151.1" r="2.10" fill="#000"/>
<circle cx="158.3" cy="152.4" r="2.10" fill="#000"/>
<circle cx="160.3" cy="153.7" r="2.10" fill="#000"/>
<circle cx="162.4" cy="154.9" r="2.10" fill="#000"/>
<circle cx="164.4" cy="156.0" r="2.10" fill="#000"/>
<circle cx="166.4" cy="157.1" r="2.10" fill="#000"/>
<circle cx="168.4" cy="158.2" r="2.10" fill="#000"/>
<circle cx="170.4" cy="159.3" r="2.10" fill="#000"/>
<circle cx="172.4" cy="160.3" r="2.10" fill="#000"/>
<circle cx="179.0" cy="163.7" r="2.20" fill="#000"/>
<circle cx="184.0" cy="166.2" r="2.20" fill="#000"/>
<circle cx="189.1" cy="168.5" r="2.20" fill="#000"/>
<circle cx="194.1" cy="170.7" r="2.20" fill="#000"/>
<circle cx="199.2" cy="172.8" r="2.20" fill="#000"/>
<circle cx="204.2" cy="174.8" r="2.20" fill="#000"/>
<circle cx="209.2" cy="176.5" r="2.20" fill="#000"/>
<circle cx="214.3" cy="178.3" r="2.20" fill="#000"/>
<circle cx="219.3" cy="180.0" r="2.20" fill="#000"/>
<circle cx="224.3" cy="181.7" r="2.20" fill="#000"/>
<circle cx="229.3" cy="183.4" r="2.20" fill="#000"/>
<circle cx="234.3" cy="185.1" r="2.20" fill="#000"/>
<circle cx="239.3" cy="186.7" r="2.20" fill="#000"/>
<circle cx="244.3" cy="188.3" r="2.20" fill="#000"/>
<circle cx="249.3" cy="189.8" r="2.20" fill="#000"/>
<circle cx="254.3" cy="191.3" r="2.20" fill="#000"/>
<circle cx="259.4" cy="192.8" r="2.20" fill="#000"/>
<circle cx="264.4" cy="194.2" r="2.20" fill="#000"/>
<circle cx="269.4" cy="195.6" r="2.20" fill="#000"/>
<circle cx="274.4" cy="196.9" r="2.20" fill="#000"/>
<circle cx="279.5" cy="198.1" r="2.20" fill="#000"/>
<circle cx="284.5" cy="199.2" r="2.20" fill="#000"/>
<circle cx="289.5" cy="200.3" r="2.20" fill="#000"/>
<circle cx="294.5" cy="201.4" r="2.20" fill="#000"/>
<circle cx="299.5" cy="202.4" r="2.20" fill="#000"/>
<circle cx="304.5" cy="203.4" r="2.20" fill="#000"/>
<circle cx="309.5" cy="204.5" r="2.20" fill="#000"/>
<circle cx="314.5" cy="205.5" r="2.20" fill="#000"/>
<circle cx="319.5" cy="206.5" r="2.20" fill="#000"/>
<polygon points="180.6,169.2 182.9,165.1 178.3,165.1" fill="#4050c0"/>
<polygon points="185.7,171.7 188.0,167.6 183.4,167.6" fill="#4050c0"/>
<polygon points="190.7,174.0 193.0,169.9 188.4,169.9" fill="#4050c0"/>
<polygon points="195.8,176.1 198.1,172.0 193.5,172.0" fill="#4050c0"/>
<polygon points="200.9,178.2 203.2,174.1 198.6,174.1" fill="#4050c0"/>
<polygon points="206.0,180.0 208.3,175.9 203.7,175.9" fill="#4050c0"/>
<polygon points="211.1,181.8 213.4,177.7 208.8,177.7" fill="#4050c0"/>
<polygon points="216.1,183.5 218.4,179.4 213.8,179.4" fill="#4050c0"/>
<polygon points="221.1,185.2 223.4,181.1 218.8,181.1" fill="#4050c0"/>
<polygon points="226.1,186.9 228.4,182.8 223.8,182.8" fill="#4050c0"/>
<polygon points="231.1,188.6 233.4,184.5 228.8,184.5" fill="#4050c0"/>
<polygon points="236.1,190.3 238.4,186.2 233.8,186.2" fill="#4050c0"/>
<polygon points="241.2,191.9 243.5,187.8 238.9,187.8" fill="#4050c0"/>
<polygon points="246.2,193.4 248.5,189.3 243.9,189.3" fill="#4050c0"/>
<polygon points="251.2,195.0 253.5,190.9 248.9,190.9" fill="#4050c0"/>
<polygon points="256.3,196.5 258.6,192.4 254.0,192.4" fill="#4050c0"/>
<polygon points="261.3,197.9 263.6,193.8 259.0,193.8" fill="#4050c0"/>
<polygon points="266.3,199.3 268.6,195.2 264.0,195.2" fill="#4050c0"/>
<polygon points="271.4,200.7 273.7,196.6 269.1,196.6" fill="#4050c0"/>
<polygon points="276.5,201.9 278.8,197.8 274.2,197.8" fill="#4050c0"/>
<polygon points="281.5,203.1 283.8,199.0 279.2,199.0" fill="#4050c0"/>
<polygon points="286.6,204.2 288.9,200.1 284.3,200.1" fill="#4050c0"/>
<polygon points="291.6,205.3 293.9,201.2 289.3,201.2" fill="#4050c0"/>
<polygon points="296.6,206.4 298.9,202.3 294.3,202.3" fill="#4050c0"/>
<polygon points="301.6,207.4 303.9,203.3 299.3,203.3" fill="#4050c0"/>
<polygon points="306.6,208.4 308.9,204.3 304.3,204.3" fill="#4050c0"/>
<polygon points="311.6,209.4 313.9,205.3 309.3,205.3" fill="#4050c0"/>
<polygon points="316.6,210.5 318.9,206.4 314.3,206.4" fill="#4050c0"/>
<polyline points="120.1,124.5 121.1,125.5 122.1,126.4 123.1,127.3 124.1,128.3 125.1,129.2 126.1,130.1 127.1,131.0 128.1,132.0 129.2,132.9 130.2,133.8 131.2,134.7 132.2,135.6 133.2,136.5 134.3,137.4 135.3,138.3 136.3,139.1 137.3,140.0 138.4,140.8 139.4,141.6 140.4,142.4 141.4,143.2 142.4,144.0 143.5,144.8 144.5,145.6 145.5,146.3 146.5,147.1 147.5,147.8 148.5,148.6 149.6,149.3 150.6,150.0 151.6,150.8 152.6,151.5 153.7,152.2 154.7,152.9 155.7,153.6 156.8,154.2 157.8,154.9 158.9,155.5 159.9,156.1 161.0,156.7 162.0,157.3 163.0,157.9 164.0,158.5 165.1,159.0 166.1,159.6 167.1,160.1 168.1,160.6 169.1,161.2 170.1,161.7 171.1,162.2 172.1,162.7 173.1,163.3 174.1,163.8 174.9,164.2" fill="none" stroke="#4050c0" stroke-width="3.6" stroke-linejoin="round" stroke-linecap="round" />
<polygon points="46.4,21.2 49.4,15.9 43.5,15.9" fill="#4050c0"/>
<polygon points="49.1,21.2 52.1,15.9 46.1,15.9" fill="#4050c0"/>
<polygon points="51.6,21.3 54.6,15.9 48.6,15.9" fill="#4050c0"/>
<polygon points="53.0,21.2 55.9,15.8 50.0,15.8" fill="#4050c0"/>
<polygon points="53.7,22.5 56.7,17.2 50.7,17.2" fill="#4050c0"/>
<polygon points="56.0,25.2 59.0,19.9 53.0,19.9" fill="#4050c0"/>
<polygon points="58.5,28.6 61.5,23.3 55.5,23.3" fill="#4050c0"/>
<polygon points="61.0,32.4 63.9,27.0 58.0,27.0" fill="#4050c0"/>
<polygon points="63.5,36.6 66.5,31.3 60.5,31.3" fill="#4050c0"/>
<polygon points="66.0,41.3 69.0,36.0 63.0,36.0" fill="#4050c0"/>
<polygon points="68.5,46.5 71.5,41.2 65.6,41.2" fill="#4050c0"/>
<polygon points="71.1,51.8 74.1,46.5 68.2,46.5" fill="#4050c0"/>
<polygon points="73.7,57.1 76.7,51.8 70.7,51.8" fill="#4050c0"/>
<polygon points="76.3,62.5 79.3,57.2 73.4,57.2" fill="#4050c0"/>
<polygon points="78.9,67.8 81.9,62.5 75.9,62.5" fill="#4050c0"/>
<polygon points="81.5,73.3 84.5,67.9 78.6,67.9" fill="#4050c0"/>
<polygon points="84.2,78.6 87.2,73.2 81.2,73.2" fill="#4050c0"/>
<polygon points="86.8,83.6 89.8,78.3 83.8,78.3" fill="#4050c0"/>
<polygon points="89.5,88.4 92.5,83.1 86.5,83.1" fill="#4050c0"/>
<polygon points="92.1,93.0 95.1,87.6 89.1,87.6" fill="#4050c0"/>
<polygon points="94.8,97.2 97.8,91.9 91.8,91.9" fill="#4050c0"/>
<polygon points="97.5,101.3 100.5,96.0 94.5,96.0" fill="#4050c0"/>
<polygon points="100.2,105.1 103.2,99.8 97.2,99.8" fill="#4050c0"/>
<polygon points="102.9,108.6 105.9,103.3 99.9,103.3" fill="#4050c0"/>
<polygon points="105.6,111.7 108.6,106.4 102.6,106.4" fill="#4050c0"/>
<polygon points="108.2,114.7 111.2,109.4 105.2,109.4" fill="#4050c0"/>
<polygon points="110.8,117.7 113.8,112.4 107.8,112.4" fill="#4050c0"/>
<polygon points="113.5,120.6 116.5,115.3 110.5,115.3" fill="#4050c0"/>
<polygon points="116.1,123.5 119.1,118.1 113.2,118.1" fill="#4050c0"/>
<polygon points="118.8,126.2 121.8,120.8 115.9,120.8" fill="#4050c0"/>
<polygon points="121.5,128.7 124.5,123.3 118.5,123.3" fill="#4050c0"/>
<polygon points="124.1,131.1 127.1,125.8 121.1,125.8" fill="#4050c0"/>
<polygon points="126.7,133.5 129.7,128.2 123.7,128.2" fill="#4050c0"/>
<polygon points="129.3,135.9 132.3,130.6 126.4,130.6" fill="#4050c0"/>
<polygon points="132.0,138.3 135.0,133.0 129.0,133.0" fill="#4050c0"/>
<polygon points="134.7,140.6 137.7,135.3 131.7,135.3" fill="#4050c0"/>
<polygon points="137.3,142.8 140.3,137.5 134.3,137.5" fill="#4050c0"/>
<polygon points="140.0,144.9 143.0,139.6 137.0,139.6" fill="#4050c0"/>
<polygon points="142.6,147.0 145.6,141.7 139.6,141.7" fill="#4050c0"/>
<polygon points="145.3,149.0 148.3,143.7 142.3,143.7" fill="#4050c0"/>
<polygon points="147.9,151.0 150.9,145.6 144.9,145.6" fill="#4050c0"/>
<polygon points="150.5,152.9 153.5,147.5 147.6,147.5" fill="#4050c0"/>
<polygon points="153.2,154.7 156.2,149.4 150.2,149.4" fill="#4050c0"/>
<polygon points="155.9,156.5 158.9,151.2 152.9,151.2" fill="#4050c0"/>
<polygon points="158.6,158.2 161.6,152.9 155.6,152.9" fill="#4050c0"/>
<polygon points="161.3,159.8 164.3,154.5 158.3,154.5" fill="#4050c0"/>
<polygon points="164.0,161.3 167.0,156.0 161.0,156.0" fill="#4050c0"/>
<polygon points="166.6,162.8 169.6,157.4 163.6,157.4" fill="#4050c0"/>
<polygon points="169.3,164.1 172.2,158.8 166.3,158.8" fill="#4050c0"/>
<polygon points="171.9,165.5 174.8,160.2 168.9,160.2" fill="#4050c0"/>
<polygon points="47.8,20.2 49.6,17.0 45.9,17.0" fill="#fff" stroke="#4050c0" stroke-width="0.8"/>
<polygon points="52.9,20.3 54.7,17.0 51.1,17.0" fill="#fff" stroke="#4050c0" stroke-width="0.8"/>
<polygon points="54.7,22.7 56.6,19.5 52.9,19.5" fill="#fff" stroke="#4050c0" stroke-width="0.8"/>
<polygon points="59.5,29.3 61.4,26.0 57.7,26.0" fill="#fff" stroke="#4050c0" stroke-width="0.8"/>
<polygon points="64.6,37.8 66.4,34.5 62.7,34.5" fill="#fff" stroke="#4050c0" stroke-width="0.8"/>
<polygon points="69.7,48.1 71.5,44.8 67.8,44.8" fill="#fff" stroke="#4050c0" stroke-width="0.8"/>
<polygon points="74.9,58.7 76.7,55.4 73.0,55.4" fill="#fff" stroke="#4050c0" stroke-width="0.8"/>
<polygon points="80.1,69.4 81.9,66.1 78.2,66.1" fill="#fff" stroke="#4050c0" stroke-width="0.8"/>
<polygon points="85.3,80.0 87.2,76.7 83.5,76.7" fill="#fff" stroke="#4050c0" stroke-width="0.8"/>
<polygon points="90.6,89.6 92.5,86.3 88.8,86.3" fill="#fff" stroke="#4050c0" stroke-width="0.8"/>
<polygon points="96.0,98.2 97.8,94.9 94.1,94.9" fill="#fff" stroke="#4050c0" stroke-width="0.8"/>
<polygon points="101.4,105.8 103.2,102.5 99.5,102.5" fill="#fff" stroke="#4050c0" stroke-width="0.8"/>
<polygon points="106.7,112.2 108.6,108.9 104.9,108.9" fill="#fff" stroke="#4050c0" stroke-width="0.8"/>
<polygon points="112.0,118.1 113.8,114.9 110.2,114.9" fill="#fff" stroke="#4050c0" stroke-width="0.8"/>
<polygon points="117.4,123.8 119.2,120.5 115.5,120.5" fill="#fff" stroke="#4050c0" stroke-width="0.8"/>
<polygon points="122.7,128.8 124.5,125.5 120.8,125.5" fill="#fff" stroke="#4050c0" stroke-width="0.8"/>
<polyline points="49.2,59.7 50.2,60.4 51.2,61.2 52.2,61.9 53.2,62.6 54.2,63.4 55.2,64.3 56.2,65.3 57.2,66.3 58.2,67.4 59.2,68.5 60.2,69.7 61.2,70.9 62.2,72.1 63.2,73.3 64.2,74.4 65.2,75.6 66.2,76.9 67.2,78.1 68.2,79.3 69.2,80.5 70.2,81.7 71.2,82.9 72.2,84.1 73.2,85.3 74.2,86.4 75.2,87.6 76.2,88.7 77.2,89.8 78.2,91.0 79.2,92.1 80.2,93.1 81.2,94.2 82.2,95.2 83.2,96.3 84.2,97.3 85.2,98.3 86.2,99.3 87.2,100.3 88.2,101.4 89.2,102.5 90.2,103.6 91.2,104.7 92.2,105.8 93.2,107.0 94.2,108.1 95.2,109.3 96.2,110.4 97.2,111.6 98.2,112.7 99.2,113.8 100.2,115.0 101.2,116.1 102.2,117.1 103.2,118.2 104.2,119.2 105.2,120.2 106.2,121.2 107.2,122.2 108.2,123.1 109.2,124.1 110.2,125.0 111.2,125.9 112.2,126.8 113.2,127.7 114.2,128.6 115.2,129.5 116.2,130.3 117.2,131.2 118.2,132.0 119.2,132.8 120.2,133.6 121.2,134.4 122.2,135.2 123.2,136.0 124.2,136.8 125.2,137.6 126.2,138.3 127.2,139.1 128.2,139.8 129.2,140.6 130.2,141.3 131.2,142.0 132.2,142.8 133.2,143.5 134.2,144.2 135.2,144.9 136.2,145.6 137.2,146.3 138.2,147.0 139.2,147.7 140.2,148.4 141.2,149.1 142.2,149.8 143.2,150.4 144.2,151.1 145.2,151.8 146.2,152.4 147.2,153.1 148.2,153.7 149.2,154.3 150.2,155.0 151.2,155.6 152.2,156.2 153.2,156.8 154.2,157.4 155.2,158.0 156.2,158.6 157.2,159.1 158.2,159.7 159.2,160.2 160.2,160.8 161.2,161.3 162.2,161.9 163.2,162.4 164.2,162.9 165.2,163.5 166.2,164.0 167.2,164.5 168.2,165.0 169.2,165.5 170.2,166.0 171.2,166.5 172.2,167.0 173.2,167.5 174.2,168.1 174.9,168.5" fill="none" stroke="#cf40c6" stroke-width="4.6" stroke-linejoin="round" stroke-linecap="round" />
<circle cx="49.2" cy="59.7" r="2.50" fill="#cf40c6"/>
<circle cx="51.8" cy="61.6" r="2.50" fill="#cf40c6"/>
<circle cx="54.4" cy="63.6" r="2.50" fill="#cf40c6"/>
<circle cx="57.0" cy="66.1" r="2.50" fill="#cf40c6"/>
<circle cx="59.6" cy="69.0" r="2.50" fill="#cf40c6"/>
<circle cx="62.2" cy="72.1" r="2.50" fill="#cf40c6"/>
<circle cx="64.8" cy="75.2" r="2.50" fill="#cf40c6"/>
<circle cx="67.4" cy="78.3" r="2.50" fill="#cf40c6"/>
<circle cx="70.0" cy="81.5" r="2.50" fill="#cf40c6"/>
<circle cx="72.6" cy="84.6" r="2.50" fill="#cf40c6"/>
<circle cx="75.2" cy="87.6" r="2.50" fill="#cf40c6"/>
<circle cx="77.8" cy="90.5" r="2.50" fill="#cf40c6"/>
<circle cx="80.4" cy="93.4" r="2.50" fill="#cf40c6"/>
<circle cx="83.0" cy="96.0" r="2.50" fill="#cf40c6"/>
<circle cx="85.6" cy="98.7" r="2.50" fill="#cf40c6"/>
<circle cx="88.2" cy="101.4" r="2.50" fill="#cf40c6"/>
<circle cx="90.8" cy="104.3" r="2.50" fill="#cf40c6"/>
<circle cx="93.4" cy="107.2" r="2.50" fill="#cf40c6"/>
<circle cx="96.0" cy="110.2" r="2.50" fill="#cf40c6"/>
<circle cx="98.6" cy="113.2" r="2.50" fill="#cf40c6"/>
<circle cx="101.2" cy="116.1" r="2.50" fill="#cf40c6"/>
<circle cx="103.8" cy="118.8" r="2.50" fill="#cf40c6"/>
<circle cx="106.4" cy="121.4" r="2.50" fill="#cf40c6"/>
<circle cx="109.0" cy="123.9" r="2.50" fill="#cf40c6"/>
<circle cx="111.6" cy="126.3" r="2.50" fill="#cf40c6"/>
<circle cx="114.2" cy="128.6" r="2.50" fill="#cf40c6"/>
<circle cx="116.8" cy="130.8" r="2.50" fill="#cf40c6"/>
<circle cx="119.4" cy="133.0" r="2.50" fill="#cf40c6"/>
<circle cx="122.0" cy="135.1" r="2.50" fill="#cf40c6"/>
<circle cx="124.6" cy="137.1" r="2.50" fill="#cf40c6"/>
<circle cx="127.2" cy="139.1" r="2.50" fill="#cf40c6"/>
<circle cx="129.8" cy="141.0" r="2.50" fill="#cf40c6"/>
<circle cx="132.4" cy="142.9" r="2.50" fill="#cf40c6"/>
<circle cx="135.0" cy="144.8" r="2.50" fill="#cf40c6"/>
<circle cx="137.6" cy="146.6" r="2.50" fill="#cf40c6"/>
<circle cx="140.2" cy="148.4" r="2.50" fill="#cf40c6"/>
<circle cx="142.8" cy="150.2" r="2.50" fill="#cf40c6"/>
<circle cx="145.4" cy="151.9" r="2.50" fill="#cf40c6"/>
<circle cx="148.0" cy="153.6" r="2.50" fill="#cf40c6"/>
<circle cx="150.6" cy="155.2" r="2.50" fill="#cf40c6"/>
<circle cx="153.2" cy="156.8" r="2.50" fill="#cf40c6"/>
<circle cx="155.8" cy="158.3" r="2.50" fill="#cf40c6"/>
<circle cx="158.4" cy="159.8" r="2.50" fill="#cf40c6"/>
<circle cx="161.0" cy="161.2" r="2.50" fill="#cf40c6"/>
<circle cx="163.6" cy="162.6" r="2.50" fill="#cf40c6"/>
<circle cx="166.2" cy="164.0" r="2.50" fill="#cf40c6"/>
<circle cx="168.8" cy="165.3" r="2.50" fill="#cf40c6"/>
<circle cx="171.4" cy="166.6" r="2.50" fill="#cf40c6"/>
<circle cx="174.0" cy="168.0" r="2.50" fill="#cf40c6"/>
<circle cx="180.0" cy="171.1" r="2.75" fill="#cf40c6"/>
<polygon points="185.4,170.4 189.0,174.0 185.4,177.6 181.8,174.0" fill="#cf40c6"/>
<circle cx="190.8" cy="177.0" r="2.75" fill="#cf40c6"/>
<polygon points="196.2,175.9 199.8,179.5 196.2,183.0 192.6,179.5" fill="#cf40c6"/>
<circle cx="201.6" cy="181.4" r="2.75" fill="#cf40c6"/>
<polygon points="207.0,179.7 210.6,183.2 207.0,186.8 203.4,183.2" fill="#cf40c6"/>
<circle cx="212.4" cy="185.1" r="2.75" fill="#cf40c6"/>
<polygon points="217.8,183.1 221.4,186.6 217.8,190.2 214.2,186.6" fill="#cf40c6"/>
<circle cx="223.2" cy="187.9" r="2.75" fill="#cf40c6"/>
<polygon points="228.6,185.5 232.2,189.1 228.6,192.6 225.0,189.1" fill="#cf40c6"/>
<circle cx="234.0" cy="190.1" r="2.75" fill="#cf40c6"/>
<polygon points="239.4,187.6 243.0,191.2 239.4,194.8 235.8,191.2" fill="#cf40c6"/>
<circle cx="244.8" cy="192.3" r="2.75" fill="#cf40c6"/>
<polygon points="250.2,190.0 253.8,193.6 250.2,197.2 246.6,193.6" fill="#cf40c6"/>
<circle cx="255.6" cy="194.9" r="2.75" fill="#cf40c6"/>
<polygon points="261.0,192.7 264.6,196.2 261.0,199.8 257.4,196.2" fill="#cf40c6"/>
<circle cx="266.4" cy="197.5" r="2.75" fill="#cf40c6"/>
<polygon points="271.8,195.2 275.4,198.7 271.8,202.3 268.2,198.7" fill="#cf40c6"/>
<circle cx="277.2" cy="199.9" r="2.75" fill="#cf40c6"/>
<polygon points="282.6,197.3 286.2,200.9 282.6,204.5 279.0,200.9" fill="#cf40c6"/>
<circle cx="288.0" cy="201.9" r="2.75" fill="#cf40c6"/>
<polygon points="293.4,199.2 297.0,202.8 293.4,206.4 289.8,202.8" fill="#cf40c6"/>
<circle cx="298.8" cy="203.7" r="2.75" fill="#cf40c6"/>
<polygon points="304.2,201.1 307.8,204.6 304.2,208.2 300.6,204.6" fill="#cf40c6"/>
<circle cx="309.6" cy="205.5" r="2.75" fill="#cf40c6"/>
<polygon points="315.0,202.9 318.6,206.4 315.0,210.0 311.4,206.4" fill="#cf40c6"/>
<circle cx="320.4" cy="207.4" r="2.75" fill="#cf40c6"/>
<rect x="38.4" y="0.8" width="282.5" height="227.39999999999998" fill="none" stroke="#000" stroke-width="1.8"/>
<line x1="34.20" y1="171.50" x2="38.40" y2="171.50" stroke="#000" stroke-width="1.3" />
<text x="31.00" y="175.90" font-size="14.5" text-anchor="end" fill="#000"  stroke="#000" stroke-width="0.174">2</text>
<line x1="34.20" y1="95.75" x2="38.40" y2="95.75" stroke="#000" stroke-width="1.3" />
<text x="31.00" y="100.15" font-size="14.5" text-anchor="end" fill="#000"  stroke="#000" stroke-width="0.174">4</text>
<line x1="34.20" y1="20.00" x2="38.40" y2="20.00" stroke="#000" stroke-width="1.3" />
<text x="31.00" y="24.40" font-size="14.5" text-anchor="end" fill="#000"  stroke="#000" stroke-width="0.174">6</text>
<line x1="35.80" y1="209.38" x2="38.40" y2="209.38" stroke="#000" stroke-width="1.3" />
<line x1="35.80" y1="133.62" x2="38.40" y2="133.62" stroke="#000" stroke-width="1.3" />
<line x1="35.80" y1="57.88" x2="38.40" y2="57.88" stroke="#000" stroke-width="1.3" />
<line x1="119.10" y1="228.20" x2="119.10" y2="231.80" stroke="#000" stroke-width="1.3" />
<text x="119.50" y="247.00" font-size="15" text-anchor="middle" fill="#000"  stroke="#000" stroke-width="0.180">10</text>
<line x1="219.90" y1="228.20" x2="219.90" y2="231.80" stroke="#000" stroke-width="1.3" />
<text x="220.30" y="247.00" font-size="15" text-anchor="middle" fill="#000"  stroke="#000" stroke-width="0.180">20</text>
<line x1="320.70" y1="228.20" x2="320.70" y2="231.80" stroke="#000" stroke-width="1.3" />
<text x="321.10" y="247.00" font-size="15" text-anchor="middle" fill="#000"  stroke="#000" stroke-width="0.180">30</text>
<line x1="68.70" y1="228.20" x2="68.70" y2="230.60" stroke="#000" stroke-width="1.3" />
<line x1="169.50" y1="228.20" x2="169.50" y2="230.60" stroke="#000" stroke-width="1.3" />
<line x1="270.30" y1="228.20" x2="270.30" y2="230.60" stroke="#000" stroke-width="1.3" />
<text x="171.50" y="261.60" font-size="15" text-anchor="start" fill="#000"  stroke="#000" stroke-width="0.180">T (K)</text>
<text x="0" y="0" font-size="15.5" text-anchor="start" fill="#000" transform="translate(13.30 178.70) rotate(-90)"  stroke="#000" stroke-width="0.186">M/H (emu/mole-Oe)</text>
<text x="62.00" y="15.00" font-size="13" text-anchor="start" fill="#000"  stroke="#000" stroke-width="0.156">(a)</text>
<text x="98.60" y="12.80" font-size="8.5" text-anchor="start" fill="#000"  stroke="#000" stroke-width="0.102">ZFC</text>
<text x="157.10" y="12.80" font-size="8.5" text-anchor="start" fill="#000"  stroke="#000" stroke-width="0.102">FC</text>
<text x="226.10" y="12.80" font-size="8.5" text-anchor="start" fill="#000"  stroke="#000" stroke-width="0.102">ZFC</text>
<text x="285.90" y="12.80" font-size="8.5" text-anchor="start" fill="#000"  stroke="#000" stroke-width="0.102">FC</text>
<line x1="79.00" y1="20.70" x2="85.80" y2="20.70" stroke="#000" stroke-width="1.1" />
<line x1="91.40" y1="20.70" x2="98.00" y2="20.70" stroke="#000" stroke-width="1.1" />
<circle cx="88.6" cy="20.7" r="1.95" fill="#fff" stroke="#444" stroke-width="1.0"/>
<text x="100.80" y="23.80" font-size="8.8" text-anchor="start" fill="#000"  stroke="#000" stroke-width="0.106">0.1 kOe</text>
<line x1="79.00" y1="31.50" x2="85.80" y2="31.50" stroke="#4050c0" stroke-width="1.1" />
<line x1="91.40" y1="31.50" x2="98.00" y2="31.50" stroke="#4050c0" stroke-width="1.1" />
<polygon points="88.6,33.8 90.8,29.8 86.4,29.8" fill="#fff" stroke="#4050c0" stroke-width="1.0"/>
<text x="100.80" y="34.70" font-size="8.8" text-anchor="start" fill="#000"  stroke="#000" stroke-width="0.106">1 kOe</text>
<line x1="79.00" y1="42.40" x2="85.80" y2="42.40" stroke="#cf40c6" stroke-width="1.1" />
<line x1="91.40" y1="42.40" x2="98.00" y2="42.40" stroke="#cf40c6" stroke-width="1.1" />
<polygon points="88.6,39.9 91.1,42.4 88.6,44.9 86.1,42.4" fill="#fff" stroke="#cf40c6" stroke-width="1.0"/>
<text x="100.80" y="45.50" font-size="8.8" text-anchor="start" fill="#000"  stroke="#000" stroke-width="0.106">10 kOe</text>
<line x1="141.70" y1="20.70" x2="148.50" y2="20.70" stroke="#000" stroke-width="1.1" />
<line x1="154.10" y1="20.70" x2="161.70" y2="20.70" stroke="#000" stroke-width="1.1" />
<circle cx="151.3" cy="20.7" r="2.20" fill="#000"/>
<text x="163.40" y="23.80" font-size="8.8" text-anchor="start" fill="#000"  stroke="#000" stroke-width="0.106">0.1 kOe</text>
<line x1="141.70" y1="31.50" x2="148.50" y2="31.50" stroke="#4050c0" stroke-width="1.1" />
<line x1="154.10" y1="31.50" x2="161.70" y2="31.50" stroke="#4050c0" stroke-width="1.1" />
<polygon points="151.3,34.1 153.8,29.6 148.8,29.6" fill="#4050c0"/>
<text x="163.40" y="34.70" font-size="8.8" text-anchor="start" fill="#000"  stroke="#000" stroke-width="0.106">1 kOe</text>
<line x1="141.70" y1="42.40" x2="148.50" y2="42.40" stroke="#cf40c6" stroke-width="1.1" />
<line x1="154.10" y1="42.40" x2="161.70" y2="42.40" stroke="#cf40c6" stroke-width="1.1" />
<circle cx="151.3" cy="42.4" r="2.20" fill="#cf40c6"/>
<text x="163.40" y="45.50" font-size="8.8" text-anchor="start" fill="#000"  stroke="#000" stroke-width="0.106">10 kOe</text>
<line x1="207.20" y1="20.70" x2="214.50" y2="20.70" stroke="#7a1fa0" stroke-width="1.1" />
<line x1="220.10" y1="20.70" x2="226.30" y2="20.70" stroke="#7a1fa0" stroke-width="1.1" />
<polygon points="215.0,20.7 219.0,18.5 219.0,22.9" fill="#fff" stroke="#7a1fa0" stroke-width="1.0"/>
<text x="229.40" y="23.80" font-size="8.8" text-anchor="start" fill="#000"  stroke="#000" stroke-width="0.106">30 kOe</text>
<line x1="207.20" y1="31.50" x2="214.50" y2="31.50" stroke="#17883b" stroke-width="1.1" />
<line x1="220.10" y1="31.50" x2="226.30" y2="31.50" stroke="#17883b" stroke-width="1.1" />
<polygon points="217.3,33.6 215.4,32.6 215.4,30.4 217.3,29.4 219.2,30.4 219.2,32.6" fill="#fff" stroke="#17883b" stroke-width="1.0"/>
<text x="229.40" y="34.70" font-size="8.8" text-anchor="start" fill="#000"  stroke="#000" stroke-width="0.106">50 kOe</text>
<line x1="207.20" y1="42.40" x2="214.50" y2="42.40" stroke="#f5821f" stroke-width="1.1" />
<line x1="220.10" y1="42.40" x2="226.30" y2="42.40" stroke="#f5821f" stroke-width="1.1" />
<polygon points="217.3,40.2 219.4,41.7 218.6,44.2 216.0,44.2 215.2,41.7" fill="#fff" stroke="#f5821f" stroke-width="1.0"/>
<text x="229.40" y="45.50" font-size="8.8" text-anchor="start" fill="#000"  stroke="#000" stroke-width="0.106">70 kOe</text>
<line x1="270.20" y1="20.70" x2="276.90" y2="20.70" stroke="#7a1fa0" stroke-width="1.1" />
<line x1="282.50" y1="20.70" x2="289.30" y2="20.70" stroke="#7a1fa0" stroke-width="1.1" />
<polygon points="277.1,20.7 281.6,18.2 281.6,23.2" fill="#7a1fa0"/>
<text x="292.40" y="23.80" font-size="8.8" text-anchor="start" fill="#000"  stroke="#000" stroke-width="0.106">30 kOe</text>
<line x1="270.20" y1="31.50" x2="276.90" y2="31.50" stroke="#17883b" stroke-width="1.1" />
<line x1="282.50" y1="31.50" x2="289.30" y2="31.50" stroke="#17883b" stroke-width="1.1" />
<polygon points="279.7,33.9 277.6,32.7 277.6,30.3 279.7,29.1 281.8,30.3 281.8,32.7" fill="#17883b"/>
<text x="292.40" y="34.70" font-size="8.8" text-anchor="start" fill="#000"  stroke="#000" stroke-width="0.106">50 kOe</text>
<line x1="270.20" y1="42.40" x2="276.90" y2="42.40" stroke="#f5821f" stroke-width="1.1" />
<line x1="282.50" y1="42.40" x2="289.30" y2="42.40" stroke="#f5821f" stroke-width="1.1" />
<polygon points="279.7,39.9 282.1,41.6 281.2,44.4 278.2,44.4 277.3,41.6" fill="#f5821f"/>
<text x="292.40" y="45.50" font-size="8.8" text-anchor="start" fill="#000"  stroke="#000" stroke-width="0.106">70 kOe</text>
<rect x="193.5" y="57.8" width="121.69999999999999" height="99.7" fill="#fff" stroke="#000" stroke-width="1.1"/>
<polyline points="193.5,102.7 197.3,101.1 207.1,96.9 216.9,92.3 226.7,85.8 236.5,81.0 246.3,82.0 256.1,86.5 265.9,97.0 275.7,110.0 285.5,128.0 295.3,143.5 303.0,157.0" fill="none" stroke="#4050c0" stroke-width="1.1" stroke-linejoin="round" stroke-linecap="round" />
<circle cx="197.3" cy="101.1" r="1.45" fill="#fff" stroke="#4050c0" stroke-width="1.0"/>
<circle cx="207.1" cy="96.9" r="1.45" fill="#fff" stroke="#4050c0" stroke-width="1.0"/>
<circle cx="216.9" cy="92.3" r="1.45" fill="#fff" stroke="#4050c0" stroke-width="1.0"/>
<circle cx="226.7" cy="85.8" r="1.45" fill="#fff" stroke="#4050c0" stroke-width="1.0"/>
<circle cx="236.5" cy="81.0" r="1.45" fill="#fff" stroke="#4050c0" stroke-width="1.0"/>
<circle cx="246.3" cy="82.0" r="1.45" fill="#fff" stroke="#4050c0" stroke-width="1.0"/>
<circle cx="256.1" cy="86.5" r="1.45" fill="#fff" stroke="#4050c0" stroke-width="1.0"/>
<circle cx="265.9" cy="97.0" r="1.45" fill="#fff" stroke="#4050c0" stroke-width="1.0"/>
<circle cx="275.7" cy="110.0" r="1.45" fill="#fff" stroke="#4050c0" stroke-width="1.0"/>
<circle cx="285.5" cy="128.0" r="1.45" fill="#fff" stroke="#4050c0" stroke-width="1.0"/>
<circle cx="295.3" cy="143.5" r="1.45" fill="#fff" stroke="#4050c0" stroke-width="1.0"/>
<circle cx="303.0" cy="157.0" r="1.45" fill="#fff" stroke="#4050c0" stroke-width="1.0"/>
<polyline points="193.5,99.5 197.3,97.8 207.1,93.5 216.9,89.3 226.7,83.5 236.5,78.8 246.3,80.0 256.1,85.0 265.9,94.5 275.7,107.5 285.5,126.0 295.3,141.5 305.3,154.8" fill="none" stroke="#1f9a3c" stroke-width="1.1" stroke-linejoin="round" stroke-linecap="round" />
<circle cx="197.3" cy="97.8" r="1.45" fill="#fff" stroke="#1f9a3c" stroke-width="1.0"/>
<circle cx="207.1" cy="93.5" r="1.45" fill="#fff" stroke="#1f9a3c" stroke-width="1.0"/>
<circle cx="216.9" cy="89.3" r="1.45" fill="#fff" stroke="#1f9a3c" stroke-width="1.0"/>
<circle cx="226.7" cy="83.5" r="1.45" fill="#fff" stroke="#1f9a3c" stroke-width="1.0"/>
<circle cx="236.5" cy="78.8" r="1.45" fill="#fff" stroke="#1f9a3c" stroke-width="1.0"/>
<circle cx="246.3" cy="80.0" r="1.45" fill="#fff" stroke="#1f9a3c" stroke-width="1.0"/>
<circle cx="256.1" cy="85.0" r="1.45" fill="#fff" stroke="#1f9a3c" stroke-width="1.0"/>
<circle cx="265.9" cy="94.5" r="1.45" fill="#fff" stroke="#1f9a3c" stroke-width="1.0"/>
<circle cx="275.7" cy="107.5" r="1.45" fill="#fff" stroke="#1f9a3c" stroke-width="1.0"/>
<circle cx="285.5" cy="126.0" r="1.45" fill="#fff" stroke="#1f9a3c" stroke-width="1.0"/>
<circle cx="295.3" cy="141.5" r="1.45" fill="#fff" stroke="#1f9a3c" stroke-width="1.0"/>
<circle cx="305.3" cy="154.8" r="1.45" fill="#fff" stroke="#1f9a3c" stroke-width="1.0"/>
<polyline points="193.5,95.7 197.3,94.0 207.1,89.7 216.9,85.8 226.7,79.9 236.5,75.3 246.3,77.0 256.1,84.0 265.9,93.5 275.7,106.5 285.5,125.5 295.3,141.0 304.0,156.5" fill="none" stroke="#e8352a" stroke-width="1.1" stroke-linejoin="round" stroke-linecap="round" />
<circle cx="197.3" cy="94.0" r="1.45" fill="#fff" stroke="#e8352a" stroke-width="1.0"/>
<circle cx="207.1" cy="89.7" r="1.45" fill="#fff" stroke="#e8352a" stroke-width="1.0"/>
<circle cx="216.9" cy="85.8" r="1.45" fill="#fff" stroke="#e8352a" stroke-width="1.0"/>
<circle cx="226.7" cy="79.9" r="1.45" fill="#fff" stroke="#e8352a" stroke-width="1.0"/>
<circle cx="236.5" cy="75.3" r="1.45" fill="#fff" stroke="#e8352a" stroke-width="1.0"/>
<circle cx="246.3" cy="77.0" r="1.45" fill="#fff" stroke="#e8352a" stroke-width="1.0"/>
<circle cx="256.1" cy="84.0" r="1.45" fill="#fff" stroke="#e8352a" stroke-width="1.0"/>
<circle cx="265.9" cy="93.5" r="1.45" fill="#fff" stroke="#e8352a" stroke-width="1.0"/>
<circle cx="275.7" cy="106.5" r="1.45" fill="#fff" stroke="#e8352a" stroke-width="1.0"/>
<circle cx="285.5" cy="125.5" r="1.45" fill="#fff" stroke="#e8352a" stroke-width="1.0"/>
<circle cx="295.3" cy="141.0" r="1.45" fill="#fff" stroke="#e8352a" stroke-width="1.0"/>
<circle cx="304.0" cy="156.5" r="1.45" fill="#fff" stroke="#e8352a" stroke-width="1.0"/>
<polyline points="193.5,97.0 197.3,95.3 207.1,91.0 216.9,87.0 226.7,81.2 236.5,76.3 246.3,77.5 256.1,81.9 265.9,91.6 275.7,104.5 285.5,123.6 295.3,139.2 304.5,156.0" fill="none" stroke="#000" stroke-width="1.1" stroke-linejoin="round" stroke-linecap="round" />
<circle cx="197.3" cy="95.3" r="1.45" fill="#fff" stroke="#000" stroke-width="1.0"/>
<circle cx="207.1" cy="91.0" r="1.45" fill="#fff" stroke="#000" stroke-width="1.0"/>
<circle cx="216.9" cy="87.0" r="1.45" fill="#fff" stroke="#000" stroke-width="1.0"/>
<circle cx="226.7" cy="81.2" r="1.45" fill="#fff" stroke="#000" stroke-width="1.0"/>
<circle cx="236.5" cy="76.3" r="1.45" fill="#fff" stroke="#000" stroke-width="1.0"/>
<circle cx="246.3" cy="77.5" r="1.45" fill="#fff" stroke="#000" stroke-width="1.0"/>
<circle cx="256.1" cy="81.9" r="1.45" fill="#fff" stroke="#000" stroke-width="1.0"/>
<circle cx="265.9" cy="91.6" r="1.45" fill="#fff" stroke="#000" stroke-width="1.0"/>
<circle cx="275.7" cy="104.5" r="1.45" fill="#fff" stroke="#000" stroke-width="1.0"/>
<circle cx="285.5" cy="123.6" r="1.45" fill="#fff" stroke="#000" stroke-width="1.0"/>
<circle cx="295.3" cy="139.2" r="1.45" fill="#fff" stroke="#000" stroke-width="1.0"/>
<circle cx="304.5" cy="156.0" r="1.45" fill="#fff" stroke="#000" stroke-width="1.0"/>
<line x1="190.50" y1="132.60" x2="193.50" y2="132.60" stroke="#000" stroke-width="1" />
<text x="188.40" y="136.40" font-size="11" text-anchor="end" fill="#000"  stroke="#000" stroke-width="0.132">26</text>
<line x1="190.50" y1="102.75" x2="193.50" y2="102.75" stroke="#000" stroke-width="1" />
<text x="188.40" y="106.55" font-size="11" text-anchor="end" fill="#000"  stroke="#000" stroke-width="0.132">27</text>
<line x1="190.50" y1="72.90" x2="193.50" y2="72.90" stroke="#000" stroke-width="1" />
<text x="188.40" y="76.70" font-size="11" text-anchor="end" fill="#000"  stroke="#000" stroke-width="0.132">28</text>
<line x1="191.50" y1="117.68" x2="193.50" y2="117.68" stroke="#000" stroke-width="1" />
<line x1="191.50" y1="87.83" x2="193.50" y2="87.83" stroke="#000" stroke-width="1" />
<line x1="218.00" y1="157.50" x2="218.00" y2="160.50" stroke="#000" stroke-width="1" />
<text x="218.00" y="171.60" font-size="11" text-anchor="middle" fill="#000"  stroke="#000" stroke-width="0.132">3</text>
<line x1="266.60" y1="157.50" x2="266.60" y2="160.50" stroke="#000" stroke-width="1" />
<text x="266.60" y="171.60" font-size="11" text-anchor="middle" fill="#000"  stroke="#000" stroke-width="0.132">4</text>
<line x1="315.20" y1="157.50" x2="315.20" y2="160.50" stroke="#000" stroke-width="1" />
<text x="315.20" y="171.60" font-size="11" text-anchor="middle" fill="#000"  stroke="#000" stroke-width="0.132">5</text>
<line x1="242.30" y1="157.50" x2="242.30" y2="159.50" stroke="#000" stroke-width="1" />
<line x1="290.90" y1="157.50" x2="290.90" y2="159.50" stroke="#000" stroke-width="1" />
<text x="248.30" y="183.20" font-size="10.7" text-anchor="start" fill="#000"  stroke="#000" stroke-width="0.128">T (K)</text>
<text x="0" y="0" font-size="12.5" text-anchor="start" fill="#000" transform="translate(164.50 137.50) rotate(-90)"  stroke="#000" stroke-width="0.150">χ</text>
<text x="0" y="0" font-size="6" text-anchor="start" fill="#000" transform="translate(169.50 128.60) rotate(-90)"  stroke="#000" stroke-width="0.072">ac</text>
<text x="0" y="0" font-size="11.2" text-anchor="start" fill="#000" transform="translate(164.00 121.20) rotate(-90)"  stroke="#000" stroke-width="0.134">(emu/mole)</text>
<ellipse cx="154.4" cy="130.2" rx="0.9" ry="0.6" fill="#000"/>
<line x1="244.80" y1="62.00" x2="244.80" y2="111.00" stroke="#000" stroke-width="1.1" />
<polygon points="241.5,109.5 248.1,109.5 244.8,120.3" fill="#000"/>
<text x="235.30" y="104.70" font-size="11" text-anchor="start" fill="#000"  stroke="#000" stroke-width="0.132">f</text>
<text x="234.60" y="131.90" font-size="9.8" text-anchor="start" fill="#000"  stroke="#000" stroke-width="0.118">3.6 K</text>
<polyline points="401.5,166.0 402.5,158.0 403.5,153.9 404.5,153.1 405.5,153.1 406.5,153.0 407.5,153.0 408.5,153.0 409.5,152.9 410.5,152.9 411.5,152.8 412.5,152.6 413.5,152.5 414.5,152.4 415.5,152.2 416.5,152.1 417.5,152.0 418.5,151.9 419.5,151.9 420.5,151.8 421.5,151.7 422.5,151.7 423.5,151.6 424.5,151.5 425.5,151.5 426.5,151.4 427.5,151.3 428.5,151.3 429.5,151.2 430.5,151.2 431.5,151.1 432.5,151.1 433.5,151.0 434.5,151.0 435.5,150.9 436.5,150.9 437.5,150.8 438.5,150.8 439.5,150.7 440.5,150.7 441.5,150.7 442.5,150.6 443.5,150.6 444.5,150.5 445.5,150.5 446.5,150.5 447.5,150.4 448.5,150.4 449.5,150.3 450.5,150.3 451.5,150.3 452.5,150.2 453.5,150.2 454.5,150.1 455.5,150.1 456.5,150.0 457.5,150.0 458.5,149.9 459.5,149.9 460.5,149.9 461.5,149.8 462.5,149.7 463.5,149.7 464.5,149.6 465.5,149.6 466.5,149.5 467.5,149.4 468.5,149.4 469.5,149.3 470.5,149.3 471.5,149.2 472.5,149.1 473.5,149.1 474.5,149.0 475.5,148.9 476.5,148.9 477.5,148.8 478.5,148.7 479.5,148.6 480.5,148.6 481.5,148.5 482.5,148.4 483.5,148.3 484.5,148.2 485.5,148.1 486.5,148.0 487.5,147.9 488.5,147.9 489.5,147.8 490.5,147.6 491.5,147.5 492.5,147.4 493.5,147.3 494.5,147.2 495.5,147.1 496.5,147.0 497.5,146.8 498.5,146.7 499.5,146.6 500.5,146.4 501.5,146.3 502.5,146.1 503.5,145.8 504.5,145.6 505.5,145.4 506.5,145.1 507.5,144.8 508.5,144.5 509.5,144.3 510.5,144.0 511.5,143.7 512.5,143.4 513.5,143.2 514.5,142.9 515.5,142.7 516.5,142.5 517.5,142.3 518.5,142.1 519.5,141.9 520.5,141.7 521.5,141.5 522.5,141.4 523.5,141.2 524.5,141.0 525.5,140.7 526.5,140.5 527.5,140.3 528.5,140.0 529.5,139.7 530.5,139.3 531.5,138.9 532.5,138.3 533.5,137.7 534.5,137.0 535.5,136.3 536.5,135.5 537.5,134.7 538.5,133.9 539.5,133.0 540.5,132.2 541.5,131.4 542.5,130.6 543.5,129.9 544.5,129.1 545.5,128.4 546.5,127.7 547.5,126.9 548.5,126.2 549.5,125.4 550.5,124.7 551.5,124.0 552.5,123.2 553.5,122.5 554.5,121.7 555.5,121.0 556.5,120.2 557.5,119.5 557.5,119.5 586.6,98.5 615.3,75.5 643.9,51.0 667.6,26.0" fill="none" stroke="#1a1a1a" stroke-width="1.1" stroke-linejoin="round" stroke-linecap="round" />
<polyline points="401.5,166.0 402.5,158.0 403.5,153.9 404.5,153.1 405.5,153.1 406.5,153.0 407.5,153.0 408.5,153.0 409.5,152.9 410.5,152.9 411.5,152.8 412.5,152.6 413.5,152.5 414.5,152.4 415.5,152.2 416.5,152.1 417.5,152.0 418.5,151.9 419.5,151.9 420.5,151.8 421.5,151.7 422.5,151.7 423.5,151.6 424.5,151.5 425.5,151.5 426.5,151.4 427.5,151.3 428.5,151.3 429.5,151.2 430.5,151.2 431.5,151.1 432.5,151.1 433.5,151.0 434.5,151.0 435.5,150.9 436.5,150.9 437.5,150.8 438.5,150.8 439.5,150.7 440.5,150.7 441.5,150.7 442.5,150.6 443.5,150.6 444.5,150.5 445.5,150.5 446.5,150.5 447.5,150.4 448.5,150.4 449.5,150.3 450.5,150.3 451.5,150.3 452.5,150.2 453.5,150.2 454.5,150.1 455.5,150.1 456.5,150.0 457.5,150.0 458.5,149.9 459.5,149.9 460.5,149.9 461.5,149.8 462.5,149.7 463.5,149.7 464.5,149.6 465.5,149.6 466.5,149.5 467.5,149.4 468.5,149.4 469.5,149.3 470.5,149.3 471.5,149.2 472.5,149.1 473.5,149.1 474.5,149.0 475.5,148.9 476.5,148.9 477.5,148.8 478.5,148.7 479.5,148.6 480.5,148.6 481.5,148.5 482.5,148.4 483.5,148.3 484.5,148.2 485.5,148.1 486.5,148.0 487.5,147.9 488.5,147.9 489.5,147.8 490.5,147.6 491.5,147.5 492.5,147.4 493.5,147.3 494.5,147.2 495.5,147.1 496.5,147.0 497.5,146.8 498.5,146.7 499.5,146.6 500.5,146.4 501.5,146.3 502.5,146.1 503.5,145.8 504.5,145.6 505.5,145.4 506.5,145.1 507.5,144.8 508.5,144.5 509.5,144.3 510.5,144.0 511.5,143.7 512.5,143.4 513.5,143.2 514.5,142.9 515.5,142.7 516.5,142.5 517.5,142.3 518.5,142.1 519.5,141.9 520.5,141.7 521.5,141.5 522.5,141.4 523.5,141.2 524.5,141.0 525.5,140.7 526.5,140.5 527.5,140.3 528.5,140.0 529.5,139.7 530.5,139.3 531.5,138.9 532.5,138.3 533.5,137.7 534.5,137.0 535.5,136.3 536.5,135.5 537.5,134.7 538.5,133.9 539.5,133.0 540.5,132.2 541.5,131.4 542.5,130.6 543.5,129.9 544.5,129.1 545.5,128.4 546.5,127.7 547.5,126.9 548.5,126.2 549.5,125.4 550.5,124.7 551.5,124.0 552.5,123.2 553.5,122.5 554.5,121.7 555.5,121.0 556.5,120.2 557.5,119.5 557.5,119.5" fill="none" stroke="#1a1a1a" stroke-width="3.0" stroke-linejoin="round" stroke-linecap="round" />
<polygon points="399.4,163.9 403.6,163.9 403.6,168.1 399.4,168.1" fill="#1a1a1a"/>
<polygon points="399.7,161.1 403.9,161.1 403.9,165.3 399.7,165.3" fill="#1a1a1a"/>
<polygon points="400.0,158.3 404.2,158.3 404.2,162.5 400.0,162.5" fill="#1a1a1a"/>
<polygon points="400.5,155.6 404.7,155.6 404.7,159.8 400.5,159.8" fill="#1a1a1a"/>
<polygon points="401.1,152.8 405.3,152.8 405.3,157.0 401.1,157.0" fill="#1a1a1a"/>
<polygon points="402.7,151.0 406.9,151.0 406.9,155.2 402.7,155.2" fill="#1a1a1a"/>
<polygon points="405.5,150.9 409.7,150.9 409.7,155.1 405.5,155.1" fill="#1a1a1a"/>
<polygon points="408.3,150.8 412.5,150.8 412.5,155.0 408.3,155.0" fill="#1a1a1a"/>
<polygon points="411.1,150.4 415.3,150.4 415.3,154.6 411.1,154.6" fill="#1a1a1a"/>
<polygon points="413.9,150.1 418.1,150.1 418.1,154.3 413.9,154.3" fill="#1a1a1a"/>
<polygon points="416.7,149.8 420.9,149.8 420.9,154.0 416.7,154.0" fill="#1a1a1a"/>
<polygon points="419.5,149.6 423.7,149.6 423.7,153.8 419.5,153.8" fill="#1a1a1a"/>
<polygon points="422.3,149.4 426.5,149.4 426.5,153.6 422.3,153.6" fill="#1a1a1a"/>
<polygon points="425.1,149.3 429.3,149.3 429.3,153.5 425.1,153.5" fill="#1a1a1a"/>
<polygon points="427.9,149.1 432.1,149.1 432.1,153.3 427.9,153.3" fill="#1a1a1a"/>
<polygon points="430.6,149.0 434.8,149.0 434.8,153.2 430.6,153.2" fill="#1a1a1a"/>
<polygon points="433.4,148.8 437.6,148.8 437.6,153.0 433.4,153.0" fill="#1a1a1a"/>
<polygon points="436.2,148.7 440.4,148.7 440.4,152.9 436.2,152.9" fill="#1a1a1a"/>
<polygon points="439.0,148.6 443.2,148.6 443.2,152.8 439.0,152.8" fill="#1a1a1a"/>
<polygon points="441.8,148.5 446.0,148.5 446.0,152.7 441.8,152.7" fill="#1a1a1a"/>
<polygon points="444.6,148.3 448.8,148.3 448.8,152.5 444.6,152.5" fill="#1a1a1a"/>
<polygon points="447.4,148.2 451.6,148.2 451.6,152.4 447.4,152.4" fill="#1a1a1a"/>
<polygon points="450.2,148.1 454.4,148.1 454.4,152.3 450.2,152.3" fill="#1a1a1a"/>
<polygon points="453.0,148.0 457.2,148.0 457.2,152.2 453.0,152.2" fill="#1a1a1a"/>
<polygon points="455.8,147.9 460.0,147.9 460.0,152.1 455.8,152.1" fill="#1a1a1a"/>
<polygon points="458.6,147.7 462.8,147.7 462.8,151.9 458.6,151.9" fill="#1a1a1a"/>
<polygon points="461.4,147.6 465.6,147.6 465.6,151.8 461.4,151.8" fill="#1a1a1a"/>
<polygon points="464.2,147.4 468.4,147.4 468.4,151.6 464.2,151.6" fill="#1a1a1a"/>
<polygon points="467.0,147.2 471.2,147.2 471.2,151.4 467.0,151.4" fill="#1a1a1a"/>
<polygon points="469.8,147.1 474.0,147.1 474.0,151.3 469.8,151.3" fill="#1a1a1a"/>
<polygon points="472.6,146.9 476.8,146.9 476.8,151.1 472.6,151.1" fill="#1a1a1a"/>
<polygon points="475.4,146.7 479.6,146.7 479.6,150.9 475.4,150.9" fill="#1a1a1a"/>
<polygon points="478.2,146.5 482.4,146.5 482.4,150.7 478.2,150.7" fill="#1a1a1a"/>
<polygon points="481.0,146.2 485.2,146.2 485.2,150.4 481.0,150.4" fill="#1a1a1a"/>
<polygon points="483.8,146.0 488.0,146.0 488.0,150.2 483.8,150.2" fill="#1a1a1a"/>
<polygon points="486.5,145.7 490.7,145.7 490.7,149.9 486.5,149.9" fill="#1a1a1a"/>
<polygon points="489.3,145.5 493.5,145.5 493.5,149.7 489.3,149.7" fill="#1a1a1a"/>
<polygon points="492.1,145.1 496.3,145.1 496.3,149.3 492.1,149.3" fill="#1a1a1a"/>
<polygon points="494.9,144.8 499.1,144.8 499.1,149.0 494.9,149.0" fill="#1a1a1a"/>
<polygon points="497.7,144.4 501.9,144.4 501.9,148.6 497.7,148.6" fill="#1a1a1a"/>
<polygon points="500.4,144.0 504.6,144.0 504.6,148.2 500.4,148.2" fill="#1a1a1a"/>
<polygon points="503.2,143.3 507.4,143.3 507.4,147.5 503.2,147.5" fill="#1a1a1a"/>
<polygon points="505.9,142.6 510.1,142.6 510.1,146.8 505.9,146.8" fill="#1a1a1a"/>
<polygon points="508.6,141.8 512.8,141.8 512.8,146.0 508.6,146.0" fill="#1a1a1a"/>
<polygon points="511.3,141.1 515.5,141.1 515.5,145.3 511.3,145.3" fill="#1a1a1a"/>
<polygon points="514.0,140.5 518.2,140.5 518.2,144.7 514.0,144.7" fill="#1a1a1a"/>
<polygon points="516.7,139.9 520.9,139.9 520.9,144.1 516.7,144.1" fill="#1a1a1a"/>
<polygon points="519.5,139.4 523.7,139.4 523.7,143.6 519.5,143.6" fill="#1a1a1a"/>
<polygon points="522.2,138.9 526.4,138.9 526.4,143.1 522.2,143.1" fill="#1a1a1a"/>
<polygon points="525.0,138.3 529.2,138.3 529.2,142.5 525.0,142.5" fill="#1a1a1a"/>
<polygon points="527.7,137.5 531.9,137.5 531.9,141.7 527.7,141.7" fill="#1a1a1a"/>
<polygon points="530.2,136.3 534.4,136.3 534.4,140.5 530.2,140.5" fill="#1a1a1a"/>
<polygon points="532.6,134.8 536.8,134.8 536.8,139.0 532.6,139.0" fill="#1a1a1a"/>
<polygon points="534.8,133.1 539.0,133.1 539.0,137.3 534.8,137.3" fill="#1a1a1a"/>
<polygon points="536.9,131.3 541.1,131.3 541.1,135.5 536.9,135.5" fill="#1a1a1a"/>
<polygon points="539.1,129.5 543.3,129.5 543.3,133.7 539.1,133.7" fill="#1a1a1a"/>
<polygon points="541.3,127.8 545.5,127.8 545.5,132.0 541.3,132.0" fill="#1a1a1a"/>
<polygon points="543.6,126.2 547.8,126.2 547.8,130.4 543.6,130.4" fill="#1a1a1a"/>
<polygon points="545.8,124.5 550.0,124.5 550.0,128.7 545.8,128.7" fill="#1a1a1a"/>
<polygon points="548.1,122.9 552.3,122.9 552.3,127.1 548.1,127.1" fill="#1a1a1a"/>
<polygon points="550.3,121.2 554.5,121.2 554.5,125.4 550.3,125.4" fill="#1a1a1a"/>
<polygon points="552.6,119.5 556.8,119.5 556.8,123.7 552.6,123.7" fill="#1a1a1a"/>
<polygon points="554.8,117.8 559.0,117.8 559.0,122.0 554.8,122.0" fill="#1a1a1a"/>
<polygon points="584.2,96.1 589.0,96.1 589.0,100.9 584.2,100.9" fill="#1a1a1a"/>
<polygon points="612.9,73.1 617.7,73.1 617.7,77.9 612.9,77.9" fill="#1a1a1a"/>
<polygon points="641.5,48.6 646.3,48.6 646.3,53.4 641.5,53.4" fill="#1a1a1a"/>
<polygon points="665.2,23.6 670.0,23.6 670.0,28.4 665.2,28.4" fill="#1a1a1a"/>
<polyline points="400.0,170.0 401.0,166.6 402.0,163.4 403.0,160.8 404.0,158.5 405.0,157.0 406.0,156.1 407.0,155.4 408.0,154.9 409.0,154.5 410.0,154.1 411.0,153.8 412.0,153.5 413.0,153.2 414.0,153.0 415.0,152.8 416.0,152.6 417.0,152.5 418.0,152.3 419.0,152.1 420.0,152.0 421.0,151.9 422.0,151.8 423.0,151.6 424.0,151.5 425.0,151.4 426.0,151.3 427.0,151.2 428.0,151.2 429.0,151.1 430.0,151.0 431.0,150.9 432.0,150.9 433.0,150.8 434.0,150.7 435.0,150.7 436.0,150.6 437.0,150.6 438.0,150.5 439.0,150.5 440.0,150.4 441.0,150.4 442.0,150.3 443.0,150.3 444.0,150.3 445.0,150.2 446.0,150.2 447.0,150.1 448.0,150.1 449.0,150.1 450.0,150.0 451.0,150.0 452.0,149.9 453.0,149.9 454.0,149.9 455.0,149.8 456.0,149.8 457.0,149.7 458.0,149.7 459.0,149.6 460.0,149.6 461.0,149.5 462.0,149.5 463.0,149.4 464.0,149.4 465.0,149.3 466.0,149.2 467.0,149.2 468.0,149.1 469.0,149.0 470.0,149.0 471.0,148.9 472.0,148.8 473.0,148.8 474.0,148.7 475.0,148.6 476.0,148.5 477.0,148.5 478.0,148.4 479.0,148.3 480.0,148.2 481.0,148.1 482.0,148.0 483.0,148.0 484.0,147.9 485.0,147.8 486.0,147.7 487.0,147.6 488.0,147.5 489.0,147.4 490.0,147.3 491.0,147.2 492.0,147.0 493.0,146.9 494.0,146.8 495.0,146.7 496.0,146.5 497.0,146.4 498.0,146.3 499.0,146.1 500.0,146.0 501.0,145.8 502.0,145.7 503.0,145.4 504.0,145.2 505.0,145.0 506.0,144.7 507.0,144.5 508.0,144.2 509.0,143.9 510.0,143.6 511.0,143.3 512.0,143.1 513.0,142.8 514.0,142.5 515.0,142.3 516.0,142.1 517.0,141.9 518.0,141.7 519.0,141.5 520.0,141.3 521.0,141.1 522.0,140.9 523.0,140.8 524.0,140.6 525.0,140.4 526.0,140.1 527.0,139.9 528.0,139.6 529.0,139.3 530.0,139.0 531.0,138.6 532.0,138.1 533.0,137.5 534.0,136.9 535.0,136.2 536.0,135.4 537.0,134.6 538.0,133.8 539.0,132.9 540.0,132.1 541.0,131.3 542.0,130.5 543.0,129.7 544.0,129.0 545.0,128.3 546.0,127.5 547.0,126.8 548.0,126.1 549.0,125.3 550.0,124.6 551.0,123.8 552.0,123.1 553.0,122.3 554.0,121.6 555.0,120.9 556.0,120.1 557.0,119.4 557.5,119.0 586.6,98.0 615.3,75.0 643.9,50.5 667.6,25.5" fill="none" stroke="#e8352a" stroke-width="1.1" stroke-linejoin="round" stroke-linecap="round" />
<polyline points="400.0,170.0 401.0,166.6 402.0,163.4 403.0,160.8 404.0,158.5 405.0,157.0 406.0,156.1 407.0,155.4 408.0,154.9 409.0,154.5 410.0,154.1 411.0,153.8 412.0,153.5 413.0,153.2 414.0,153.0 415.0,152.8 416.0,152.6 417.0,152.5 418.0,152.3 419.0,152.1 420.0,152.0 421.0,151.9 422.0,151.8 423.0,151.6 424.0,151.5 425.0,151.4 426.0,151.3 427.0,151.2 428.0,151.2 429.0,151.1 430.0,151.0 431.0,150.9 432.0,150.9 433.0,150.8 434.0,150.7 435.0,150.7 436.0,150.6 437.0,150.6 438.0,150.5 439.0,150.5 440.0,150.4 441.0,150.4 442.0,150.3 443.0,150.3 444.0,150.3 445.0,150.2 446.0,150.2 447.0,150.1 448.0,150.1 449.0,150.1 450.0,150.0 451.0,150.0 452.0,149.9 453.0,149.9 454.0,149.9 455.0,149.8 456.0,149.8 457.0,149.7 458.0,149.7 459.0,149.6 460.0,149.6 461.0,149.5 462.0,149.5 463.0,149.4 464.0,149.4 465.0,149.3 466.0,149.2 467.0,149.2 468.0,149.1 469.0,149.0 470.0,149.0 471.0,148.9 472.0,148.8 473.0,148.8 474.0,148.7 475.0,148.6 476.0,148.5 477.0,148.5 478.0,148.4 479.0,148.3 480.0,148.2 481.0,148.1 482.0,148.0 483.0,148.0 484.0,147.9 485.0,147.8 486.0,147.7 487.0,147.6 488.0,147.5 489.0,147.4 490.0,147.3 491.0,147.2 492.0,147.0 493.0,146.9 494.0,146.8 495.0,146.7 496.0,146.5 497.0,146.4 498.0,146.3 499.0,146.1 500.0,146.0 501.0,145.8 502.0,145.7 503.0,145.4 504.0,145.2 505.0,145.0 506.0,144.7 507.0,144.5 508.0,144.2 509.0,143.9 510.0,143.6 511.0,143.3 512.0,143.1 513.0,142.8 514.0,142.5 515.0,142.3 516.0,142.1 517.0,141.9 518.0,141.7 519.0,141.5 520.0,141.3 521.0,141.1 522.0,140.9 523.0,140.8 524.0,140.6 525.0,140.4 526.0,140.1 527.0,139.9 528.0,139.6 529.0,139.3 530.0,139.0 531.0,138.6 532.0,138.1 533.0,137.5 534.0,136.9 535.0,136.2 536.0,135.4 537.0,134.6 538.0,133.8 539.0,132.9 540.0,132.1 541.0,131.3 542.0,130.5 543.0,129.7 544.0,129.0 545.0,128.3 546.0,127.5 547.0,126.8 548.0,126.1 549.0,125.3 550.0,124.6 551.0,123.8 552.0,123.1 553.0,122.3 554.0,121.6 555.0,120.9 556.0,120.1 557.0,119.4 557.5,119.0" fill="none" stroke="#e8352a" stroke-width="3.0" stroke-linejoin="round" stroke-linecap="round" />
<circle cx="400.0" cy="170.0" r="2.20" fill="#e8352a"/>
<circle cx="400.8" cy="167.3" r="2.20" fill="#e8352a"/>
<circle cx="401.6" cy="164.6" r="2.20" fill="#e8352a"/>
<circle cx="402.5" cy="162.0" r="2.20" fill="#e8352a"/>
<circle cx="403.6" cy="159.4" r="2.20" fill="#e8352a"/>
<circle cx="405.0" cy="157.0" r="2.20" fill="#e8352a"/>
<circle cx="407.2" cy="155.3" r="2.20" fill="#e8352a"/>
<circle cx="409.8" cy="154.2" r="2.20" fill="#e8352a"/>
<circle cx="412.5" cy="153.4" r="2.20" fill="#e8352a"/>
<circle cx="415.2" cy="152.8" r="2.20" fill="#e8352a"/>
<circle cx="418.0" cy="152.3" r="2.20" fill="#e8352a"/>
<circle cx="420.7" cy="151.9" r="2.20" fill="#e8352a"/>
<circle cx="423.5" cy="151.6" r="2.20" fill="#e8352a"/>
<circle cx="426.3" cy="151.3" r="2.20" fill="#e8352a"/>
<circle cx="429.1" cy="151.1" r="2.20" fill="#e8352a"/>
<circle cx="431.9" cy="150.9" r="2.20" fill="#e8352a"/>
<circle cx="434.7" cy="150.7" r="2.20" fill="#e8352a"/>
<circle cx="437.5" cy="150.5" r="2.20" fill="#e8352a"/>
<circle cx="440.3" cy="150.4" r="2.20" fill="#e8352a"/>
<circle cx="443.1" cy="150.3" r="2.20" fill="#e8352a"/>
<circle cx="445.9" cy="150.2" r="2.20" fill="#e8352a"/>
<circle cx="448.7" cy="150.1" r="2.20" fill="#e8352a"/>
<circle cx="451.5" cy="150.0" r="2.20" fill="#e8352a"/>
<circle cx="454.3" cy="149.8" r="2.20" fill="#e8352a"/>
<circle cx="457.1" cy="149.7" r="2.20" fill="#e8352a"/>
<circle cx="459.9" cy="149.6" r="2.20" fill="#e8352a"/>
<circle cx="462.6" cy="149.4" r="2.20" fill="#e8352a"/>
<circle cx="465.4" cy="149.3" r="2.20" fill="#e8352a"/>
<circle cx="468.2" cy="149.1" r="2.20" fill="#e8352a"/>
<circle cx="471.0" cy="148.9" r="2.20" fill="#e8352a"/>
<circle cx="473.8" cy="148.7" r="2.20" fill="#e8352a"/>
<circle cx="476.6" cy="148.5" r="2.20" fill="#e8352a"/>
<circle cx="479.4" cy="148.3" r="2.20" fill="#e8352a"/>
<circle cx="482.2" cy="148.0" r="2.20" fill="#e8352a"/>
<circle cx="485.0" cy="147.8" r="2.20" fill="#e8352a"/>
<circle cx="487.8" cy="147.5" r="2.20" fill="#e8352a"/>
<circle cx="490.6" cy="147.2" r="2.20" fill="#e8352a"/>
<circle cx="493.3" cy="146.9" r="2.20" fill="#e8352a"/>
<circle cx="496.1" cy="146.5" r="2.20" fill="#e8352a"/>
<circle cx="498.9" cy="146.2" r="2.20" fill="#e8352a"/>
<circle cx="501.7" cy="145.7" r="2.20" fill="#e8352a"/>
<circle cx="504.4" cy="145.1" r="2.20" fill="#e8352a"/>
<circle cx="507.1" cy="144.4" r="2.20" fill="#e8352a"/>
<circle cx="509.8" cy="143.7" r="2.20" fill="#e8352a"/>
<circle cx="512.5" cy="142.9" r="2.20" fill="#e8352a"/>
<circle cx="515.2" cy="142.3" r="2.20" fill="#e8352a"/>
<circle cx="518.0" cy="141.7" r="2.20" fill="#e8352a"/>
<circle cx="520.7" cy="141.2" r="2.20" fill="#e8352a"/>
<circle cx="523.5" cy="140.7" r="2.20" fill="#e8352a"/>
<circle cx="526.2" cy="140.1" r="2.20" fill="#e8352a"/>
<circle cx="528.9" cy="139.4" r="2.20" fill="#e8352a"/>
<circle cx="531.5" cy="138.4" r="2.20" fill="#e8352a"/>
<circle cx="533.9" cy="136.9" r="2.20" fill="#e8352a"/>
<circle cx="536.2" cy="135.3" r="2.20" fill="#e8352a"/>
<circle cx="538.3" cy="133.5" r="2.20" fill="#e8352a"/>
<circle cx="540.5" cy="131.7" r="2.20" fill="#e8352a"/>
<circle cx="542.7" cy="130.0" r="2.20" fill="#e8352a"/>
<circle cx="544.9" cy="128.3" r="2.20" fill="#e8352a"/>
<circle cx="547.2" cy="126.6" r="2.20" fill="#e8352a"/>
<circle cx="549.4" cy="125.0" r="2.20" fill="#e8352a"/>
<circle cx="551.7" cy="123.3" r="2.20" fill="#e8352a"/>
<circle cx="553.9" cy="121.6" r="2.20" fill="#e8352a"/>
<circle cx="556.2" cy="120.0" r="2.20" fill="#e8352a"/>
<circle cx="586.6" cy="98.0" r="2.53" fill="#e8352a"/>
<circle cx="615.3" cy="75.0" r="2.53" fill="#e8352a"/>
<circle cx="643.9" cy="50.5" r="2.53" fill="#e8352a"/>
<circle cx="667.6" cy="25.5" r="2.53" fill="#e8352a"/>
<polyline points="399.0,174.0 400.0,170.9 401.0,167.8 402.0,165.3 403.0,163.1 404.0,161.3 405.0,159.8 406.0,158.6 407.0,157.6 408.0,156.7 409.0,156.0 410.0,155.4 411.0,154.8 412.0,154.4 413.0,153.9 414.0,153.5 415.0,153.1 416.0,152.8 417.0,152.4 418.0,152.0 419.0,151.7 420.0,151.3 421.0,150.9 422.0,150.6 423.0,150.3 424.0,150.0 425.0,149.7 426.0,149.4 427.0,149.2 428.0,148.9 429.0,148.7 430.0,148.6 431.0,148.5 432.0,148.4 433.0,148.2 434.0,148.1 435.0,148.0 436.0,147.9 437.0,147.9 438.0,147.8 439.0,147.7 440.0,147.6 441.0,147.6 442.0,147.5 443.0,147.4 444.0,147.4 445.0,147.3 446.0,147.2 447.0,147.2 448.0,147.1 449.0,147.1 450.0,147.0 451.0,146.9 452.0,146.9 453.0,146.8 454.0,146.8 455.0,146.7 456.0,146.6 457.0,146.6 458.0,146.5 459.0,146.5 460.0,146.4 461.0,146.4 462.0,146.3 463.0,146.3 464.0,146.3 465.0,146.2 466.0,146.2 467.0,146.2 468.0,146.2 469.0,146.2 470.0,146.2 471.0,146.1 472.0,146.1 473.0,146.1 474.0,146.1 475.0,146.1 476.0,146.1 477.0,146.1 478.0,146.1 479.0,146.1 480.0,146.1 481.0,146.1 482.0,146.0 483.0,146.0 484.0,146.0 485.0,146.0 486.0,146.0 487.0,145.9 488.0,145.9 489.0,145.8 490.0,145.8 491.0,145.7 492.0,145.6 493.0,145.5 494.0,145.5 495.0,145.4 496.0,145.3 497.0,145.1 498.0,145.0 499.0,144.9 500.0,144.8 501.0,144.7 502.0,144.5 503.0,144.3 504.0,144.1 505.0,143.9 506.0,143.6 507.0,143.4 508.0,143.1 509.0,142.8 510.0,142.5 511.0,142.3 512.0,142.0 513.0,141.7 514.0,141.5 515.0,141.2 516.0,141.0 517.0,140.7 518.0,140.5 519.0,140.3 520.0,140.1 521.0,139.9 522.0,139.7 523.0,139.5 524.0,139.2 525.0,139.0 526.0,138.7 527.0,138.5 528.0,138.2 529.0,137.8 530.0,137.5 531.0,137.1 532.0,136.6 533.0,136.1 534.0,135.5 535.0,134.8 536.0,134.2 537.0,133.4 538.0,132.7 539.0,132.0 540.0,131.2 541.0,130.5 542.0,129.7 543.0,129.0 544.0,128.3 545.0,127.6 546.0,126.9 547.0,126.2 548.0,125.5 549.0,124.7 550.0,124.0 551.0,123.3 552.0,122.5 553.0,121.8 554.0,121.1 555.0,120.3 556.0,119.6 557.0,118.9 557.5,118.5 586.6,97.5 615.3,74.5 643.9,50.0 667.6,25.0" fill="none" stroke="#3d48b0" stroke-width="1.1" stroke-linejoin="round" stroke-linecap="round" />
<polyline points="399.0,174.0 400.0,170.9 401.0,167.8 402.0,165.3 403.0,163.1 404.0,161.3 405.0,159.8 406.0,158.6 407.0,157.6 408.0,156.7 409.0,156.0 410.0,155.4 411.0,154.8 412.0,154.4 413.0,153.9 414.0,153.5 415.0,153.1 416.0,152.8 417.0,152.4 418.0,152.0 419.0,151.7 420.0,151.3 421.0,150.9 422.0,150.6 423.0,150.3 424.0,150.0 425.0,149.7 426.0,149.4 427.0,149.2 428.0,148.9 429.0,148.7 430.0,148.6 431.0,148.5 432.0,148.4 433.0,148.2 434.0,148.1 435.0,148.0 436.0,147.9 437.0,147.9 438.0,147.8 439.0,147.7 440.0,147.6 441.0,147.6 442.0,147.5 443.0,147.4 444.0,147.4 445.0,147.3 446.0,147.2 447.0,147.2 448.0,147.1 449.0,147.1 450.0,147.0 451.0,146.9 452.0,146.9 453.0,146.8 454.0,146.8 455.0,146.7 456.0,146.6 457.0,146.6 458.0,146.5 459.0,146.5 460.0,146.4 461.0,146.4 462.0,146.3 463.0,146.3 464.0,146.3 465.0,146.2 466.0,146.2 467.0,146.2 468.0,146.2 469.0,146.2 470.0,146.2 471.0,146.1 472.0,146.1 473.0,146.1 474.0,146.1 475.0,146.1 476.0,146.1 477.0,146.1 478.0,146.1 479.0,146.1 480.0,146.1 481.0,146.1 482.0,146.0 483.0,146.0 484.0,146.0 485.0,146.0 486.0,146.0 487.0,145.9 488.0,145.9 489.0,145.8 490.0,145.8 491.0,145.7 492.0,145.6 493.0,145.5 494.0,145.5 495.0,145.4 496.0,145.3 497.0,145.1 498.0,145.0 499.0,144.9 500.0,144.8 501.0,144.7 502.0,144.5 503.0,144.3 504.0,144.1 505.0,143.9 506.0,143.6 507.0,143.4 508.0,143.1 509.0,142.8 510.0,142.5 511.0,142.3 512.0,142.0 513.0,141.7 514.0,141.5 515.0,141.2 516.0,141.0 517.0,140.7 518.0,140.5 519.0,140.3 520.0,140.1 521.0,139.9 522.0,139.7 523.0,139.5 524.0,139.2 525.0,139.0 526.0,138.7 527.0,138.5 528.0,138.2 529.0,137.8 530.0,137.5 531.0,137.1 532.0,136.6 533.0,136.1 534.0,135.5 535.0,134.8 536.0,134.2 537.0,133.4 538.0,132.7 539.0,132.0 540.0,131.2 541.0,130.5 542.0,129.7 543.0,129.0 544.0,128.3 545.0,127.6 546.0,126.9 547.0,126.2 548.0,125.5 549.0,124.7 550.0,124.0 551.0,123.3 552.0,122.5 553.0,121.8 554.0,121.1 555.0,120.3 556.0,119.6 557.0,118.9 557.5,118.5" fill="none" stroke="#3d48b0" stroke-width="3.0" stroke-linejoin="round" stroke-linecap="round" />
<polygon points="399.0,171.4 401.5,175.9 396.5,175.9" fill="#3d48b0"/>
<polygon points="399.9,168.7 402.4,173.2 397.3,173.2" fill="#3d48b0"/>
<polygon points="400.7,166.0 403.2,170.5 398.2,170.5" fill="#3d48b0"/>
<polygon points="401.7,163.4 404.2,167.9 399.2,167.9" fill="#3d48b0"/>
<polygon points="402.8,160.8 405.3,165.4 400.3,165.4" fill="#3d48b0"/>
<polygon points="404.1,158.4 406.7,162.9 401.6,162.9" fill="#3d48b0"/>
<polygon points="405.9,156.2 408.4,160.7 403.3,160.7" fill="#3d48b0"/>
<polygon points="407.9,154.2 410.4,158.7 405.3,158.7" fill="#3d48b0"/>
<polygon points="410.2,152.7 412.7,157.2 407.6,157.2" fill="#3d48b0"/>
<polygon points="412.7,151.4 415.2,155.9 410.2,155.9" fill="#3d48b0"/>
<polygon points="415.3,150.4 417.8,154.9 412.8,154.9" fill="#3d48b0"/>
<polygon points="417.9,149.4 420.4,153.9 415.4,153.9" fill="#3d48b0"/>
<polygon points="420.5,148.5 423.1,153.0 418.0,153.0" fill="#3d48b0"/>
<polygon points="423.2,147.6 425.7,152.1 420.7,152.1" fill="#3d48b0"/>
<polygon points="425.9,146.8 428.4,151.3 423.4,151.3" fill="#3d48b0"/>
<polygon points="428.6,146.2 431.2,150.7 426.1,150.7" fill="#3d48b0"/>
<polygon points="431.4,145.8 433.9,150.3 428.9,150.3" fill="#3d48b0"/>
<polygon points="434.2,145.5 436.7,150.0 431.6,150.0" fill="#3d48b0"/>
<polygon points="437.0,145.2 439.5,149.7 434.4,149.7" fill="#3d48b0"/>
<polygon points="439.8,145.0 442.3,149.5 437.2,149.5" fill="#3d48b0"/>
<polygon points="442.5,144.8 445.1,149.3 440.0,149.3" fill="#3d48b0"/>
<polygon points="445.3,144.6 447.9,149.1 442.8,149.1" fill="#3d48b0"/>
<polygon points="448.1,144.5 450.7,149.0 445.6,149.0" fill="#3d48b0"/>
<polygon points="450.9,144.3 453.5,148.8 448.4,148.8" fill="#3d48b0"/>
<polygon points="453.7,144.1 456.3,148.6 451.2,148.6" fill="#3d48b0"/>
<polygon points="456.5,144.0 459.1,148.5 454.0,148.5" fill="#3d48b0"/>
<polygon points="459.3,143.8 461.9,148.3 456.8,148.3" fill="#3d48b0"/>
<polygon points="462.1,143.7 464.6,148.2 459.6,148.2" fill="#3d48b0"/>
<polygon points="464.9,143.6 467.4,148.1 462.4,148.1" fill="#3d48b0"/>
<polygon points="467.7,143.5 470.2,148.1 465.2,148.1" fill="#3d48b0"/>
<polygon points="470.5,143.5 473.0,148.0 468.0,148.0" fill="#3d48b0"/>
<polygon points="473.3,143.5 475.8,148.0 470.8,148.0" fill="#3d48b0"/>
<polygon points="476.1,143.5 478.6,148.0 473.6,148.0" fill="#3d48b0"/>
<polygon points="478.9,143.4 481.4,148.0 476.4,148.0" fill="#3d48b0"/>
<polygon points="481.7,143.4 484.2,147.9 479.2,147.9" fill="#3d48b0"/>
<polygon points="484.5,143.4 487.0,147.9 482.0,147.9" fill="#3d48b0"/>
<polygon points="487.3,143.3 489.8,147.8 484.8,147.8" fill="#3d48b0"/>
<polygon points="490.1,143.1 492.6,147.6 487.6,147.6" fill="#3d48b0"/>
<polygon points="492.9,142.9 495.4,147.4 490.4,147.4" fill="#3d48b0"/>
<polygon points="495.7,142.6 498.2,147.2 493.2,147.2" fill="#3d48b0"/>
<polygon points="498.5,142.3 501.0,146.9 495.9,146.9" fill="#3d48b0"/>
<polygon points="501.2,142.0 503.8,146.5 498.7,146.5" fill="#3d48b0"/>
<polygon points="504.0,141.5 506.5,146.0 501.5,146.0" fill="#3d48b0"/>
<polygon points="506.7,140.8 509.2,145.3 504.2,145.3" fill="#3d48b0"/>
<polygon points="509.4,140.1 511.9,144.6 506.9,144.6" fill="#3d48b0"/>
<polygon points="512.1,139.3 514.6,143.8 509.6,143.8" fill="#3d48b0"/>
<polygon points="514.8,138.6 517.4,143.1 512.3,143.1" fill="#3d48b0"/>
<polygon points="517.6,138.0 520.1,142.5 515.0,142.5" fill="#3d48b0"/>
<polygon points="520.3,137.4 522.8,141.9 517.8,141.9" fill="#3d48b0"/>
<polygon points="523.0,136.8 525.6,141.3 520.5,141.3" fill="#3d48b0"/>
<polygon points="525.8,136.2 528.3,140.7 523.2,140.7" fill="#3d48b0"/>
<polygon points="528.4,135.4 531.0,139.9 525.9,139.9" fill="#3d48b0"/>
<polygon points="531.1,134.4 533.6,138.9 528.5,138.9" fill="#3d48b0"/>
<polygon points="533.5,133.1 536.1,137.6 531.0,137.6" fill="#3d48b0"/>
<polygon points="535.9,131.6 538.4,136.1 533.4,136.1" fill="#3d48b0"/>
<polygon points="538.2,129.9 540.7,134.5 535.6,134.5" fill="#3d48b0"/>
<polygon points="540.4,128.3 542.9,132.8 537.9,132.8" fill="#3d48b0"/>
<polygon points="542.7,126.6 545.2,131.1 540.1,131.1" fill="#3d48b0"/>
<polygon points="545.0,125.0 547.5,129.5 542.4,129.5" fill="#3d48b0"/>
<polygon points="547.2,123.4 549.8,127.9 544.7,127.9" fill="#3d48b0"/>
<polygon points="549.5,121.7 552.0,126.2 547.0,126.2" fill="#3d48b0"/>
<polygon points="551.8,120.1 554.3,124.6 549.2,124.6" fill="#3d48b0"/>
<polygon points="554.0,118.4 556.5,122.9 551.5,122.9" fill="#3d48b0"/>
<polygon points="556.3,116.8 558.8,121.3 553.7,121.3" fill="#3d48b0"/>
<polygon points="586.6,94.5 589.5,99.7 583.7,99.7" fill="#3d48b0"/>
<polygon points="615.3,71.5 618.2,76.7 612.4,76.7" fill="#3d48b0"/>
<polygon points="643.9,47.0 646.8,52.2 641.0,52.2" fill="#3d48b0"/>
<polygon points="667.6,22.0 670.5,27.2 664.7,27.2" fill="#3d48b0"/>
<polyline points="396.5,192.9 398.2,174.0 399.2,172.8 400.2,171.6 401.2,170.5 402.2,169.3 403.2,168.0 404.2,166.8 405.2,165.5 406.2,164.2 407.2,163.0 408.2,161.7 409.2,160.5 410.2,159.3 411.2,158.0 412.2,156.7 413.2,155.5 414.2,154.5 415.2,153.6 416.2,152.9 417.2,152.3 418.2,151.8 419.2,151.3 420.2,150.9 421.2,150.5 422.2,150.1 423.2,149.7 424.2,149.4 425.2,149.0 426.2,148.6 427.2,148.3 428.2,148.0 429.2,147.7 430.2,147.4 431.2,147.2 432.2,146.9 433.2,146.7 434.2,146.5 435.2,146.4 436.2,146.2 437.2,146.1 438.2,146.0 439.2,145.8 440.2,145.7 441.2,145.6 442.2,145.5 443.2,145.4 444.2,145.3 445.2,145.3 446.2,145.2 447.2,145.1 448.2,145.0 449.2,145.0 450.2,144.9 451.2,144.8 452.2,144.7 453.2,144.7 454.2,144.6 455.2,144.5 456.2,144.4 457.2,144.4 458.2,144.3 459.2,144.3 460.2,144.2 461.2,144.1 462.2,144.1 463.2,144.1 464.2,144.0 465.2,144.0 466.2,144.0 467.2,144.0 468.2,144.0 469.2,144.0 470.2,144.0 471.2,144.0 472.2,144.0 473.2,144.0 474.2,144.0 475.2,144.0 476.2,144.0 477.2,144.0 478.2,144.0 479.2,144.0 480.2,144.0 481.2,144.0 482.2,144.0 483.2,144.0 484.2,144.0 485.2,144.0 486.2,144.0 487.2,144.0 488.2,143.9 489.2,143.9 490.2,143.8 491.2,143.8 492.2,143.7 493.2,143.6 494.2,143.5 495.2,143.4 496.2,143.3 497.2,143.2 498.2,143.1 499.2,143.0 500.2,142.9 501.2,142.7 502.2,142.6 503.2,142.4 504.2,142.2 505.2,141.9 506.2,141.7 507.2,141.4 508.2,141.1 509.2,140.8 510.2,140.5 511.2,140.2 512.2,140.0 513.2,139.7 514.2,139.4 515.2,139.2 516.2,138.9 517.2,138.7 518.2,138.5 519.2,138.2 520.2,138.0 521.2,137.8 522.2,137.6 523.2,137.4 524.2,137.1 525.2,136.9 526.2,136.6 527.2,136.3 528.2,136.0 529.2,135.7 530.2,135.3 531.2,134.9 532.2,134.4 533.2,133.9 534.2,133.3 535.2,132.6 536.2,131.9 537.2,131.2 538.2,130.5 539.2,129.8 540.2,129.1 541.2,128.4 542.2,127.7 543.2,127.1 544.2,126.4 545.2,125.8 546.2,125.2 547.2,124.6 548.2,124.0 549.2,123.4 550.2,122.8 551.2,122.2 552.2,121.6 553.2,121.0 554.2,120.4 555.2,119.8 556.2,119.3 557.2,118.7 558.2,118.1 559.2,117.5 559.2,117.5 586.6,97.0 615.3,73.8 643.9,49.6 667.6,24.9" fill="none" stroke="#7a2a9c" stroke-width="1.1" stroke-linejoin="round" stroke-linecap="round" />
<polyline points="398.2,174.0 399.2,172.8 400.2,171.6 401.2,170.5 402.2,169.3 403.2,168.0 404.2,166.8 405.2,165.5 406.2,164.2 407.2,163.0 408.2,161.7 409.2,160.5 410.2,159.3 411.2,158.0 412.2,156.7 413.2,155.5 414.2,154.5 415.2,153.6 416.2,152.9 417.2,152.3 418.2,151.8 419.2,151.3 420.2,150.9 421.2,150.5 422.2,150.1 423.2,149.7 424.2,149.4 425.2,149.0 426.2,148.6 427.2,148.3 428.2,148.0 429.2,147.7 430.2,147.4 431.2,147.2 432.2,146.9 433.2,146.7 434.2,146.5 435.2,146.4 436.2,146.2 437.2,146.1 438.2,146.0 439.2,145.8 440.2,145.7 441.2,145.6 442.2,145.5 443.2,145.4 444.2,145.3 445.2,145.3 446.2,145.2 447.2,145.1 448.2,145.0 449.2,145.0 450.2,144.9 451.2,144.8 452.2,144.7 453.2,144.7 454.2,144.6 455.2,144.5 456.2,144.4 457.2,144.4 458.2,144.3 459.2,144.3 460.2,144.2 461.2,144.1 462.2,144.1 463.2,144.1 464.2,144.0 465.2,144.0 466.2,144.0 467.2,144.0 468.2,144.0 469.2,144.0 470.2,144.0 471.2,144.0 472.2,144.0 473.2,144.0 474.2,144.0 475.2,144.0 476.2,144.0 477.2,144.0 478.2,144.0 479.2,144.0 480.2,144.0 481.2,144.0 482.2,144.0 483.2,144.0 484.2,144.0 485.2,144.0 486.2,144.0 487.2,144.0 488.2,143.9 489.2,143.9 490.2,143.8 491.2,143.8 492.2,143.7 493.2,143.6 494.2,143.5 495.2,143.4 496.2,143.3 497.2,143.2 498.2,143.1 499.2,143.0 500.2,142.9 501.2,142.7 502.2,142.6 503.2,142.4 504.2,142.2 505.2,141.9 506.2,141.7 507.2,141.4 508.2,141.1 509.2,140.8 510.2,140.5 511.2,140.2 512.2,140.0 513.2,139.7 514.2,139.4 515.2,139.2 516.2,138.9 517.2,138.7 518.2,138.5 519.2,138.2 520.2,138.0 521.2,137.8 522.2,137.6 523.2,137.4 524.2,137.1 525.2,136.9 526.2,136.6 527.2,136.3 528.2,136.0 529.2,135.7 530.2,135.3 531.2,134.9 532.2,134.4 533.2,133.9 534.2,133.3 535.2,132.6 536.2,131.9 537.2,131.2 538.2,130.5 539.2,129.8 540.2,129.1 541.2,128.4 542.2,127.7 543.2,127.1 544.2,126.4 545.2,125.8 546.2,125.2 547.2,124.6 548.2,124.0 549.2,123.4 550.2,122.8 551.2,122.2 552.2,121.6 553.2,121.0 554.2,120.4 555.2,119.8 556.2,119.3 557.2,118.7 558.2,118.1 559.2,117.5 559.2,117.5" fill="none" stroke="#7a2a9c" stroke-width="3.0" stroke-linejoin="round" stroke-linecap="round" />
<polygon points="396.5,189.5 399.9,192.9 396.5,196.3 393.1,192.9" fill="#7a2a9c"/>
<polygon points="398.2,171.0 401.2,174.0 398.2,177.0 395.2,174.0" fill="#7a2a9c"/>
<polygon points="400.0,168.9 403.0,171.9 400.0,174.9 397.0,171.9" fill="#7a2a9c"/>
<polygon points="401.8,166.7 404.8,169.7 401.8,172.7 398.8,169.7" fill="#7a2a9c"/>
<polygon points="403.6,164.6 406.6,167.5 403.6,170.5 400.6,167.5" fill="#7a2a9c"/>
<polygon points="405.3,162.4 408.3,165.4 405.3,168.3 402.3,165.4" fill="#7a2a9c"/>
<polygon points="407.1,160.2 410.1,163.2 407.1,166.2 404.1,163.2" fill="#7a2a9c"/>
<polygon points="408.8,158.0 411.8,161.0 408.8,164.0 405.8,161.0" fill="#7a2a9c"/>
<polygon points="410.6,155.8 413.6,158.8 410.6,161.8 407.6,158.8" fill="#7a2a9c"/>
<polygon points="412.3,153.6 415.3,156.6 412.3,159.6 409.3,156.6" fill="#7a2a9c"/>
<polygon points="414.2,151.5 417.1,154.5 414.2,157.5 411.2,154.5" fill="#7a2a9c"/>
<polygon points="416.4,149.8 419.4,152.8 416.4,155.8 413.4,152.8" fill="#7a2a9c"/>
<polygon points="418.8,148.5 421.8,151.5 418.8,154.5 415.9,151.5" fill="#7a2a9c"/>
<polygon points="421.4,147.4 424.4,150.4 421.4,153.4 418.4,150.4" fill="#7a2a9c"/>
<polygon points="424.0,146.4 427.0,149.4 424.0,152.4 421.1,149.4" fill="#7a2a9c"/>
<polygon points="426.7,145.5 429.7,148.5 426.7,151.5 423.7,148.5" fill="#7a2a9c"/>
<polygon points="429.4,144.7 432.3,147.6 429.4,150.6 426.4,147.6" fill="#7a2a9c"/>
<polygon points="432.1,144.0 435.1,147.0 432.1,149.9 429.1,147.0" fill="#7a2a9c"/>
<polygon points="434.8,143.4 437.8,146.4 434.8,149.4 431.8,146.4" fill="#7a2a9c"/>
<polygon points="437.6,143.0 440.6,146.0 437.6,149.0 434.6,146.0" fill="#7a2a9c"/>
<polygon points="440.4,142.7 443.4,145.7 440.4,148.7 437.4,145.7" fill="#7a2a9c"/>
<polygon points="443.2,142.4 446.2,145.4 443.2,148.4 440.2,145.4" fill="#7a2a9c"/>
<polygon points="446.0,142.2 448.9,145.2 446.0,148.2 443.0,145.2" fill="#7a2a9c"/>
<polygon points="448.7,142.0 451.7,145.0 448.7,148.0 445.8,145.0" fill="#7a2a9c"/>
<polygon points="451.5,141.8 454.5,144.8 451.5,147.8 448.5,144.8" fill="#7a2a9c"/>
<polygon points="454.3,141.6 457.3,144.6 454.3,147.6 451.3,144.6" fill="#7a2a9c"/>
<polygon points="457.1,141.4 460.1,144.4 457.1,147.4 454.1,144.4" fill="#7a2a9c"/>
<polygon points="459.9,141.2 462.9,144.2 459.9,147.2 456.9,144.2" fill="#7a2a9c"/>
<polygon points="462.7,141.1 465.7,144.1 462.7,147.1 459.7,144.1" fill="#7a2a9c"/>
<polygon points="465.5,141.0 468.5,144.0 465.5,147.0 462.5,144.0" fill="#7a2a9c"/>
<polygon points="468.3,141.0 471.3,144.0 468.3,147.0 465.3,144.0" fill="#7a2a9c"/>
<polygon points="471.1,141.0 474.1,144.0 471.1,147.0 468.1,144.0" fill="#7a2a9c"/>
<polygon points="473.9,141.0 476.9,144.0 473.9,147.0 470.9,144.0" fill="#7a2a9c"/>
<polygon points="476.7,141.0 479.7,144.0 476.7,147.0 473.7,144.0" fill="#7a2a9c"/>
<polygon points="479.5,141.0 482.5,144.0 479.5,147.0 476.5,144.0" fill="#7a2a9c"/>
<polygon points="482.3,141.0 485.3,144.0 482.3,147.0 479.3,144.0" fill="#7a2a9c"/>
<polygon points="485.1,141.0 488.1,144.0 485.1,147.0 482.1,144.0" fill="#7a2a9c"/>
<polygon points="487.9,141.0 490.9,143.9 487.9,146.9 484.9,143.9" fill="#7a2a9c"/>
<polygon points="490.7,140.8 493.7,143.8 490.7,146.8 487.7,143.8" fill="#7a2a9c"/>
<polygon points="493.5,140.6 496.5,143.6 493.5,146.6 490.5,143.6" fill="#7a2a9c"/>
<polygon points="496.3,140.3 499.3,143.3 496.3,146.3 493.3,143.3" fill="#7a2a9c"/>
<polygon points="499.1,140.0 502.1,143.0 499.1,146.0 496.1,143.0" fill="#7a2a9c"/>
<polygon points="501.8,139.6 504.8,142.6 501.8,145.6 498.9,142.6" fill="#7a2a9c"/>
<polygon points="504.6,139.1 507.6,142.1 504.6,145.1 501.6,142.1" fill="#7a2a9c"/>
<polygon points="507.3,138.4 510.3,141.4 507.3,144.4 504.3,141.4" fill="#7a2a9c"/>
<polygon points="510.0,137.6 513.0,140.6 510.0,143.6 507.0,140.6" fill="#7a2a9c"/>
<polygon points="512.7,136.8 515.7,139.8 512.7,142.8 509.7,139.8" fill="#7a2a9c"/>
<polygon points="515.4,136.1 518.4,139.1 515.4,142.1 512.4,139.1" fill="#7a2a9c"/>
<polygon points="518.1,135.5 521.1,138.5 518.1,141.5 515.1,138.5" fill="#7a2a9c"/>
<polygon points="520.8,134.9 523.8,137.9 520.8,140.9 517.9,137.9" fill="#7a2a9c"/>
<polygon points="523.6,134.3 526.6,137.3 523.6,140.3 520.6,137.3" fill="#7a2a9c"/>
<polygon points="526.3,133.6 529.3,136.6 526.3,139.6 523.3,136.6" fill="#7a2a9c"/>
<polygon points="529.0,132.8 532.0,135.8 529.0,138.7 526.0,135.8" fill="#7a2a9c"/>
<polygon points="531.6,131.7 534.6,134.7 531.6,137.7 528.6,134.7" fill="#7a2a9c"/>
<polygon points="534.0,130.4 537.0,133.4 534.0,136.4 531.0,133.4" fill="#7a2a9c"/>
<polygon points="536.4,128.8 539.3,131.8 536.4,134.8 533.4,131.8" fill="#7a2a9c"/>
<polygon points="538.6,127.2 541.6,130.2 538.6,133.2 535.6,130.2" fill="#7a2a9c"/>
<polygon points="540.9,125.6 543.9,128.6 540.9,131.6 537.9,128.6" fill="#7a2a9c"/>
<polygon points="543.3,124.0 546.2,127.0 543.3,130.0 540.3,127.0" fill="#7a2a9c"/>
<polygon points="545.6,122.6 548.6,125.6 545.6,128.6 542.6,125.6" fill="#7a2a9c"/>
<polygon points="548.0,121.1 551.0,124.1 548.0,127.1 545.0,124.1" fill="#7a2a9c"/>
<polygon points="550.4,119.7 553.4,122.7 550.4,125.7 547.4,122.7" fill="#7a2a9c"/>
<polygon points="552.8,118.3 555.8,121.2 552.8,124.2 549.9,121.2" fill="#7a2a9c"/>
<polygon points="555.2,116.8 558.2,119.8 555.2,122.8 552.3,119.8" fill="#7a2a9c"/>
<polygon points="557.7,115.4 560.6,118.4 557.7,121.4 554.7,118.4" fill="#7a2a9c"/>
<polygon points="586.6,93.6 590.0,97.0 586.6,100.4 583.2,97.0" fill="#7a2a9c"/>
<polygon points="615.3,70.4 618.7,73.8 615.3,77.2 611.9,73.8" fill="#7a2a9c"/>
<polygon points="643.9,46.2 647.3,49.6 643.9,53.0 640.5,49.6" fill="#7a2a9c"/>
<polygon points="667.6,21.5 671.0,24.9 667.6,28.3 664.2,24.9" fill="#7a2a9c"/>
<polyline points="396.5,198.9 400.3,188.5 403.5,181.0 406.0,175.5 408.5,170.5 411.0,165.5 413.5,160.5 417.5,152.5 418.5,151.4 419.5,150.2 420.5,149.2 421.5,148.2 422.5,147.4 423.5,146.5 424.5,145.8 425.5,145.2 426.5,144.7 427.5,144.3 428.5,143.9 429.5,143.6 430.5,143.2 431.5,142.8 432.5,142.4 433.5,141.9 434.5,141.5 435.5,141.1 436.5,140.6 437.5,140.2 438.5,139.7 439.5,139.3 440.5,138.9 441.5,138.5 442.5,138.2 443.5,137.8 444.5,137.5 445.5,137.3 446.5,137.0 447.5,136.7 448.5,136.4 449.5,136.1 450.5,135.9 451.5,135.7 452.5,135.5 453.5,135.4 454.5,135.3 455.5,135.3 456.5,135.3 457.5,135.3 458.5,135.3 459.5,135.3 460.5,135.3 461.5,135.3 462.5,135.3 463.5,135.3 464.5,135.3 465.5,135.3 466.5,135.3 467.5,135.3 468.5,135.3 469.5,135.3 470.5,135.4 471.5,135.4 472.5,135.5 473.5,135.5 474.5,135.6 475.5,135.6 476.5,135.7 477.5,135.7 478.5,135.8 479.5,135.8 480.5,135.9 481.5,135.9 482.5,136.0 483.5,136.0 484.5,136.0 485.5,136.0 486.5,136.0 487.5,136.0 488.5,136.0 489.5,135.9 490.5,135.9 491.5,135.9 492.5,135.8 493.5,135.8 494.5,135.7 495.5,135.7 496.5,135.6 497.5,135.6 498.5,135.5 499.5,135.4 500.5,135.4 501.5,135.3 502.5,135.1 503.5,135.0 504.5,134.8 505.5,134.7 506.5,134.5 507.5,134.2 508.5,134.0 509.5,133.8 510.5,133.5 511.5,133.3 512.5,133.0 513.5,132.8 514.5,132.5 515.5,132.3 516.5,132.0 517.5,131.8 518.5,131.5 519.5,131.2 520.5,130.9 521.5,130.6 522.5,130.3 523.5,129.9 524.5,129.6 525.5,129.3 526.5,128.9 527.5,128.5 528.5,128.1 529.5,127.7 530.5,127.3 531.5,126.8 532.5,126.3 533.5,125.7 534.5,125.1 535.5,124.5 536.5,123.9 537.5,123.3 538.5,122.6 539.5,122.0 540.5,121.4 541.5,120.8 542.5,120.2 543.5,119.7 544.5,119.2 545.5,118.7 546.5,118.2 547.5,117.7 548.5,117.2 549.5,116.8 550.5,116.3 551.5,115.9 552.5,115.4 553.5,115.0 554.5,114.5 555.5,114.0 556.5,113.6 557.5,113.1 558.5,112.7 559.2,112.3 586.6,94.0 615.3,71.3 643.9,47.0 667.6,22.6" fill="none" stroke="#1b8a3c" stroke-width="1.1" stroke-linejoin="round" stroke-linecap="round" />
<polyline points="417.5,152.5 418.5,151.4 419.5,150.2 420.5,149.2 421.5,148.2 422.5,147.4 423.5,146.5 424.5,145.8 425.5,145.2 426.5,144.7 427.5,144.3 428.5,143.9 429.5,143.6 430.5,143.2 431.5,142.8 432.5,142.4 433.5,141.9 434.5,141.5 435.5,141.1 436.5,140.6 437.5,140.2 438.5,139.7 439.5,139.3 440.5,138.9 441.5,138.5 442.5,138.2 443.5,137.8 444.5,137.5 445.5,137.3 446.5,137.0 447.5,136.7 448.5,136.4 449.5,136.1 450.5,135.9 451.5,135.7 452.5,135.5 453.5,135.4 454.5,135.3 455.5,135.3 456.5,135.3 457.5,135.3 458.5,135.3 459.5,135.3 460.5,135.3 461.5,135.3 462.5,135.3 463.5,135.3 464.5,135.3 465.5,135.3 466.5,135.3 467.5,135.3 468.5,135.3 469.5,135.3 470.5,135.4 471.5,135.4 472.5,135.5 473.5,135.5 474.5,135.6 475.5,135.6 476.5,135.7 477.5,135.7 478.5,135.8 479.5,135.8 480.5,135.9 481.5,135.9 482.5,136.0 483.5,136.0 484.5,136.0 485.5,136.0 486.5,136.0 487.5,136.0 488.5,136.0 489.5,135.9 490.5,135.9 491.5,135.9 492.5,135.8 493.5,135.8 494.5,135.7 495.5,135.7 496.5,135.6 497.5,135.6 498.5,135.5 499.5,135.4 500.5,135.4 501.5,135.3 502.5,135.1 503.5,135.0 504.5,134.8 505.5,134.7 506.5,134.5 507.5,134.2 508.5,134.0 509.5,133.8 510.5,133.5 511.5,133.3 512.5,133.0 513.5,132.8 514.5,132.5 515.5,132.3 516.5,132.0 517.5,131.8 518.5,131.5 519.5,131.2 520.5,130.9 521.5,130.6 522.5,130.3 523.5,129.9 524.5,129.6 525.5,129.3 526.5,128.9 527.5,128.5 528.5,128.1 529.5,127.7 530.5,127.3 531.5,126.8 532.5,126.3 533.5,125.7 534.5,125.1 535.5,124.5 536.5,123.9 537.5,123.3 538.5,122.6 539.5,122.0 540.5,121.4 541.5,120.8 542.5,120.2 543.5,119.7 544.5,119.2 545.5,118.7 546.5,118.2 547.5,117.7 548.5,117.2 549.5,116.8 550.5,116.3 551.5,115.9 552.5,115.4 553.5,115.0 554.5,114.5 555.5,114.0 556.5,113.6 557.5,113.1 558.5,112.7 559.2,112.3" fill="none" stroke="#1b8a3c" stroke-width="3.0" stroke-linejoin="round" stroke-linecap="round" />
<circle cx="396.5" cy="198.9" r="2.76" fill="#1b8a3c"/>
<circle cx="400.3" cy="188.5" r="2.76" fill="#1b8a3c"/>
<circle cx="403.5" cy="181.0" r="2.76" fill="#1b8a3c"/>
<circle cx="406.0" cy="175.5" r="2.76" fill="#1b8a3c"/>
<circle cx="408.5" cy="170.5" r="2.76" fill="#1b8a3c"/>
<circle cx="411.0" cy="165.5" r="2.76" fill="#1b8a3c"/>
<circle cx="413.5" cy="160.5" r="2.76" fill="#1b8a3c"/>
<circle cx="417.5" cy="152.5" r="2.40" fill="#1b8a3c"/>
<circle cx="419.4" cy="150.4" r="2.40" fill="#1b8a3c"/>
<circle cx="421.3" cy="148.4" r="2.40" fill="#1b8a3c"/>
<circle cx="423.4" cy="146.6" r="2.40" fill="#1b8a3c"/>
<circle cx="425.8" cy="145.0" r="2.40" fill="#1b8a3c"/>
<circle cx="428.4" cy="144.0" r="2.40" fill="#1b8a3c"/>
<circle cx="431.0" cy="143.0" r="2.40" fill="#1b8a3c"/>
<circle cx="433.6" cy="141.9" r="2.40" fill="#1b8a3c"/>
<circle cx="436.1" cy="140.8" r="2.40" fill="#1b8a3c"/>
<circle cx="438.7" cy="139.7" r="2.40" fill="#1b8a3c"/>
<circle cx="441.3" cy="138.6" r="2.40" fill="#1b8a3c"/>
<circle cx="443.9" cy="137.7" r="2.40" fill="#1b8a3c"/>
<circle cx="446.6" cy="136.9" r="2.40" fill="#1b8a3c"/>
<circle cx="449.3" cy="136.2" r="2.40" fill="#1b8a3c"/>
<circle cx="452.0" cy="135.6" r="2.40" fill="#1b8a3c"/>
<circle cx="454.8" cy="135.3" r="2.40" fill="#1b8a3c"/>
<circle cx="457.6" cy="135.3" r="2.40" fill="#1b8a3c"/>
<circle cx="460.4" cy="135.3" r="2.40" fill="#1b8a3c"/>
<circle cx="463.2" cy="135.3" r="2.40" fill="#1b8a3c"/>
<circle cx="466.0" cy="135.3" r="2.40" fill="#1b8a3c"/>
<circle cx="468.8" cy="135.3" r="2.40" fill="#1b8a3c"/>
<circle cx="471.6" cy="135.4" r="2.40" fill="#1b8a3c"/>
<circle cx="474.4" cy="135.6" r="2.40" fill="#1b8a3c"/>
<circle cx="477.2" cy="135.7" r="2.40" fill="#1b8a3c"/>
<circle cx="480.0" cy="135.9" r="2.40" fill="#1b8a3c"/>
<circle cx="482.8" cy="136.0" r="2.40" fill="#1b8a3c"/>
<circle cx="485.6" cy="136.0" r="2.40" fill="#1b8a3c"/>
<circle cx="488.4" cy="136.0" r="2.40" fill="#1b8a3c"/>
<circle cx="491.2" cy="135.9" r="2.40" fill="#1b8a3c"/>
<circle cx="494.0" cy="135.8" r="2.40" fill="#1b8a3c"/>
<circle cx="496.8" cy="135.6" r="2.40" fill="#1b8a3c"/>
<circle cx="499.6" cy="135.4" r="2.40" fill="#1b8a3c"/>
<circle cx="502.4" cy="135.2" r="2.40" fill="#1b8a3c"/>
<circle cx="505.2" cy="134.7" r="2.40" fill="#1b8a3c"/>
<circle cx="507.9" cy="134.2" r="2.40" fill="#1b8a3c"/>
<circle cx="510.6" cy="133.5" r="2.40" fill="#1b8a3c"/>
<circle cx="513.3" cy="132.8" r="2.40" fill="#1b8a3c"/>
<circle cx="516.1" cy="132.1" r="2.40" fill="#1b8a3c"/>
<circle cx="518.8" cy="131.4" r="2.40" fill="#1b8a3c"/>
<circle cx="521.4" cy="130.6" r="2.40" fill="#1b8a3c"/>
<circle cx="524.1" cy="129.7" r="2.40" fill="#1b8a3c"/>
<circle cx="526.7" cy="128.8" r="2.40" fill="#1b8a3c"/>
<circle cx="529.3" cy="127.8" r="2.40" fill="#1b8a3c"/>
<circle cx="531.9" cy="126.6" r="2.40" fill="#1b8a3c"/>
<circle cx="534.3" cy="125.2" r="2.40" fill="#1b8a3c"/>
<circle cx="536.7" cy="123.8" r="2.40" fill="#1b8a3c"/>
<circle cx="539.1" cy="122.3" r="2.40" fill="#1b8a3c"/>
<circle cx="541.5" cy="120.8" r="2.40" fill="#1b8a3c"/>
<circle cx="543.9" cy="119.5" r="2.40" fill="#1b8a3c"/>
<circle cx="546.4" cy="118.2" r="2.40" fill="#1b8a3c"/>
<circle cx="549.0" cy="117.0" r="2.40" fill="#1b8a3c"/>
<circle cx="551.5" cy="115.9" r="2.40" fill="#1b8a3c"/>
<circle cx="554.1" cy="114.7" r="2.40" fill="#1b8a3c"/>
<circle cx="556.6" cy="113.5" r="2.40" fill="#1b8a3c"/>
<circle cx="559.1" cy="112.4" r="2.40" fill="#1b8a3c"/>
<circle cx="586.6" cy="94.0" r="2.76" fill="#1b8a3c"/>
<circle cx="615.3" cy="71.3" r="2.76" fill="#1b8a3c"/>
<circle cx="643.9" cy="47.0" r="2.76" fill="#1b8a3c"/>
<circle cx="667.6" cy="22.6" r="2.76" fill="#1b8a3c"/>
<polyline points="396.5,204.9 400.7,196.5 404.5,188.5 408.4,180.0 411.0,173.2 413.5,168.0 416.0,162.0 419.5,156.1 422.0,151.0 423.0,149.5 424.0,147.9 425.0,146.5 426.0,145.2 427.0,144.0 428.0,142.8 429.0,141.8 430.0,140.9 431.0,140.0 432.0,139.2 433.0,138.3 434.0,137.5 435.0,136.6 436.0,135.6 437.0,134.6 438.0,133.6 439.0,132.7 440.0,131.9 441.0,131.3 442.0,130.8 443.0,130.4 444.0,130.0 445.0,129.7 446.0,129.4 447.0,129.0 448.0,128.7 449.0,128.5 450.0,128.2 451.0,128.0 452.0,127.9 453.0,127.7 454.0,127.6 455.0,127.5 456.0,127.4 457.0,127.4 458.0,127.3 459.0,127.2 460.0,127.2 461.0,127.1 462.0,127.1 463.0,127.1 464.0,127.0 465.0,127.0 466.0,127.0 467.0,127.0 468.0,127.0 469.0,127.0 470.0,127.0 471.0,127.0 472.0,127.0 473.0,127.0 474.0,127.0 475.0,127.0 476.0,127.1 477.0,127.1 478.0,127.1 479.0,127.1 480.0,127.1 481.0,127.1 482.0,127.1 483.0,127.1 484.0,127.1 485.0,127.1 486.0,127.1 487.0,127.1 488.0,127.1 489.0,127.0 490.0,127.0 491.0,126.9 492.0,126.9 493.0,126.8 494.0,126.8 495.0,126.7 496.0,126.6 497.0,126.5 498.0,126.5 499.0,126.4 500.0,126.3 501.0,126.2 502.0,126.1 503.0,126.0 504.0,125.9 505.0,125.7 506.0,125.6 507.0,125.4 508.0,125.2 509.0,125.1 510.0,124.9 511.0,124.7 512.0,124.5 513.0,124.4 514.0,124.2 515.0,124.0 516.0,123.8 517.0,123.7 518.0,123.5 519.0,123.3 520.0,123.2 521.0,123.0 522.0,122.8 523.0,122.6 524.0,122.5 525.0,122.3 526.0,122.0 527.0,121.8 528.0,121.6 529.0,121.3 530.0,121.0 531.0,120.6 532.0,120.2 533.0,119.7 534.0,119.1 535.0,118.5 536.0,117.8 537.0,117.1 538.0,116.4 539.0,115.7 540.0,115.0 541.0,114.4 542.0,113.8 543.0,113.3 544.0,112.9 545.0,112.5 546.0,112.1 547.0,111.7 548.0,111.3 549.0,111.0 550.0,110.6 551.0,110.3 552.0,109.9 553.0,109.6 554.0,109.3 555.0,109.0 556.0,108.6 557.0,108.3 558.0,108.0 559.0,107.6 559.2,107.5 586.6,87.9 615.3,67.7 643.9,44.3 667.6,20.4" fill="none" stroke="#f08020" stroke-width="1.1" stroke-linejoin="round" stroke-linecap="round" />
<polyline points="422.0,151.0 423.0,149.5 424.0,147.9 425.0,146.5 426.0,145.2 427.0,144.0 428.0,142.8 429.0,141.8 430.0,140.9 431.0,140.0 432.0,139.2 433.0,138.3 434.0,137.5 435.0,136.6 436.0,135.6 437.0,134.6 438.0,133.6 439.0,132.7 440.0,131.9 441.0,131.3 442.0,130.8 443.0,130.4 444.0,130.0 445.0,129.7 446.0,129.4 447.0,129.0 448.0,128.7 449.0,128.5 450.0,128.2 451.0,128.0 452.0,127.9 453.0,127.7 454.0,127.6 455.0,127.5 456.0,127.4 457.0,127.4 458.0,127.3 459.0,127.2 460.0,127.2 461.0,127.1 462.0,127.1 463.0,127.1 464.0,127.0 465.0,127.0 466.0,127.0 467.0,127.0 468.0,127.0 469.0,127.0 470.0,127.0 471.0,127.0 472.0,127.0 473.0,127.0 474.0,127.0 475.0,127.0 476.0,127.1 477.0,127.1 478.0,127.1 479.0,127.1 480.0,127.1 481.0,127.1 482.0,127.1 483.0,127.1 484.0,127.1 485.0,127.1 486.0,127.1 487.0,127.1 488.0,127.1 489.0,127.0 490.0,127.0 491.0,126.9 492.0,126.9 493.0,126.8 494.0,126.8 495.0,126.7 496.0,126.6 497.0,126.5 498.0,126.5 499.0,126.4 500.0,126.3 501.0,126.2 502.0,126.1 503.0,126.0 504.0,125.9 505.0,125.7 506.0,125.6 507.0,125.4 508.0,125.2 509.0,125.1 510.0,124.9 511.0,124.7 512.0,124.5 513.0,124.4 514.0,124.2 515.0,124.0 516.0,123.8 517.0,123.7 518.0,123.5 519.0,123.3 520.0,123.2 521.0,123.0 522.0,122.8 523.0,122.6 524.0,122.5 525.0,122.3 526.0,122.0 527.0,121.8 528.0,121.6 529.0,121.3 530.0,121.0 531.0,120.6 532.0,120.2 533.0,119.7 534.0,119.1 535.0,118.5 536.0,117.8 537.0,117.1 538.0,116.4 539.0,115.7 540.0,115.0 541.0,114.4 542.0,113.8 543.0,113.3 544.0,112.9 545.0,112.5 546.0,112.1 547.0,111.7 548.0,111.3 549.0,111.0 550.0,110.6 551.0,110.3 552.0,109.9 553.0,109.6 554.0,109.3 555.0,109.0 556.0,108.6 557.0,108.3 558.0,108.0 559.0,107.6 559.2,107.5" fill="none" stroke="#f08020" stroke-width="3.0" stroke-linejoin="round" stroke-linecap="round" />
<polygon points="396.5,201.2 397.5,203.5 400.0,203.8 398.1,205.4 398.7,207.9 396.5,206.6 394.3,207.9 394.9,205.4 393.0,203.8 395.5,203.5" fill="#f08020"/>
<polygon points="400.7,192.8 401.7,195.1 404.2,195.4 402.3,197.0 402.9,199.5 400.7,198.2 398.5,199.5 399.1,197.0 397.2,195.4 399.7,195.1" fill="#f08020"/>
<polygon points="404.5,184.8 405.5,187.1 408.0,187.4 406.1,189.0 406.7,191.5 404.5,190.2 402.3,191.5 402.9,189.0 401.0,187.4 403.5,187.1" fill="#f08020"/>
<polygon points="408.4,176.3 409.4,178.6 411.9,178.9 410.0,180.5 410.6,183.0 408.4,181.7 406.2,183.0 406.8,180.5 404.9,178.9 407.4,178.6" fill="#f08020"/>
<polygon points="411.0,169.5 412.0,171.8 414.5,172.1 412.6,173.7 413.2,176.2 411.0,174.9 408.8,176.2 409.4,173.7 407.5,172.1 410.0,171.8" fill="#f08020"/>
<polygon points="413.5,164.3 414.5,166.6 417.0,166.9 415.1,168.5 415.7,171.0 413.5,169.7 411.3,171.0 411.9,168.5 410.0,166.9 412.5,166.6" fill="#f08020"/>
<polygon points="416.0,158.3 417.0,160.6 419.5,160.9 417.6,162.5 418.2,165.0 416.0,163.7 413.8,165.0 414.4,162.5 412.5,160.9 415.0,160.6" fill="#f08020"/>
<polygon points="419.5,152.4 420.5,154.7 423.0,155.0 421.1,156.6 421.7,159.1 419.5,157.8 417.3,159.1 417.9,156.6 416.0,155.0 418.5,154.7" fill="#f08020"/>
<polygon points="422.0,147.8 422.9,149.8 425.1,150.0 423.4,151.5 423.9,153.6 422.0,152.5 420.1,153.6 420.6,151.5 418.9,150.0 421.1,149.8" fill="#f08020"/>
<polygon points="423.5,145.4 424.4,147.4 426.6,147.7 424.9,149.1 425.4,151.3 423.5,150.1 421.6,151.3 422.1,149.1 420.5,147.7 422.6,147.4" fill="#f08020"/>
<polygon points="425.1,143.1 426.0,145.1 428.2,145.4 426.5,146.8 427.0,149.0 425.1,147.8 423.2,149.0 423.7,146.8 422.1,145.4 424.2,145.1" fill="#f08020"/>
<polygon points="426.9,140.9 427.7,142.9 429.9,143.2 428.3,144.6 428.7,146.8 426.9,145.6 425.0,146.8 425.4,144.6 423.8,143.2 426.0,142.9" fill="#f08020"/>
<polygon points="428.7,138.9 429.6,140.9 431.8,141.1 430.1,142.5 430.6,144.7 428.7,143.6 426.8,144.7 427.3,142.5 425.7,141.1 427.8,140.9" fill="#f08020"/>
<polygon points="430.8,137.0 431.7,139.0 433.8,139.2 432.2,140.6 432.7,142.8 430.8,141.7 428.9,142.8 429.4,140.6 427.7,139.2 429.9,139.0" fill="#f08020"/>
<polygon points="432.9,135.2 433.8,137.2 436.0,137.4 434.4,138.9 434.8,141.0 432.9,139.9 431.0,141.0 431.5,138.9 429.9,137.4 432.1,137.2" fill="#f08020"/>
<polygon points="435.0,133.3 435.9,135.3 438.1,135.6 436.5,137.0 436.9,139.2 435.0,138.0 433.2,139.2 433.6,137.0 432.0,135.6 434.2,135.3" fill="#f08020"/>
<polygon points="437.0,131.4 437.9,133.4 440.1,133.6 438.5,135.0 438.9,137.2 437.0,136.1 435.1,137.2 435.6,135.0 434.0,133.6 436.2,133.4" fill="#f08020"/>
<polygon points="439.1,129.4 440.0,131.5 442.1,131.7 440.5,133.1 441.0,135.3 439.1,134.2 437.2,135.3 437.7,133.1 436.0,131.7 438.2,131.5" fill="#f08020"/>
<polygon points="441.4,127.9 442.3,129.9 444.5,130.1 442.8,131.6 443.3,133.7 441.4,132.6 439.5,133.7 440.0,131.6 438.3,130.1 440.5,129.9" fill="#f08020"/>
<polygon points="444.0,126.8 444.9,128.8 447.1,129.1 445.4,130.5 445.9,132.7 444.0,131.5 442.1,132.7 442.6,130.5 440.9,129.1 443.1,128.8" fill="#f08020"/>
<polygon points="446.6,125.9 447.5,127.9 449.7,128.2 448.1,129.6 448.5,131.8 446.6,130.6 444.7,131.8 445.2,129.6 443.6,128.2 445.8,127.9" fill="#f08020"/>
<polygon points="449.3,125.2 450.2,127.2 452.4,127.4 450.8,128.9 451.2,131.0 449.3,129.9 447.4,131.0 447.9,128.9 446.3,127.4 448.5,127.2" fill="#f08020"/>
<polygon points="452.1,124.6 453.0,126.6 455.1,126.9 453.5,128.3 454.0,130.5 452.1,129.3 450.2,130.5 450.7,128.3 449.0,126.9 451.2,126.6" fill="#f08020"/>
<polygon points="454.9,124.3 455.7,126.3 457.9,126.5 456.3,128.0 456.8,130.1 454.9,129.0 453.0,130.1 453.4,128.0 451.8,126.5 454.0,126.3" fill="#f08020"/>
<polygon points="457.7,124.1 458.5,126.1 460.7,126.3 459.1,127.8 459.5,129.9 457.7,128.8 455.8,129.9 456.2,127.8 454.6,126.3 456.8,126.1" fill="#f08020"/>
<polygon points="460.4,123.9 461.3,126.0 463.5,126.2 461.9,127.6 462.3,129.8 460.4,128.7 458.6,129.8 459.0,127.6 457.4,126.2 459.6,126.0" fill="#f08020"/>
<polygon points="463.2,123.8 464.1,125.8 466.3,126.1 464.7,127.5 465.1,129.7 463.2,128.5 461.4,129.7 461.8,127.5 460.2,126.1 462.4,125.8" fill="#f08020"/>
<polygon points="466.0,123.8 466.9,125.8 469.1,126.0 467.5,127.5 467.9,129.6 466.0,128.5 464.2,129.6 464.6,127.5 463.0,126.0 465.2,125.8" fill="#f08020"/>
<polygon points="468.8,123.8 469.7,125.8 471.9,126.0 470.3,127.5 470.7,129.6 468.8,128.5 467.0,129.6 467.4,127.5 465.8,126.0 468.0,125.8" fill="#f08020"/>
<polygon points="471.6,123.8 472.5,125.8 474.7,126.0 473.1,127.5 473.5,129.6 471.6,128.5 469.8,129.6 470.2,127.5 468.6,126.0 470.8,125.8" fill="#f08020"/>
<polygon points="474.4,123.8 475.3,125.8 477.5,126.0 475.9,127.5 476.3,129.6 474.4,128.5 472.6,129.6 473.0,127.5 471.4,126.0 473.6,125.8" fill="#f08020"/>
<polygon points="477.2,123.8 478.1,125.9 480.3,126.1 478.7,127.5 479.1,129.7 477.2,128.6 475.4,129.7 475.8,127.5 474.2,126.1 476.4,125.9" fill="#f08020"/>
<polygon points="480.0,123.9 480.9,125.9 483.1,126.1 481.5,127.5 481.9,129.7 480.0,128.6 478.2,129.7 478.6,127.5 477.0,126.1 479.2,125.9" fill="#f08020"/>
<polygon points="482.8,123.9 483.7,125.9 485.9,126.1 484.3,127.6 484.7,129.7 482.8,128.6 481.0,129.7 481.4,127.6 479.8,126.1 482.0,125.9" fill="#f08020"/>
<polygon points="485.6,123.9 486.5,125.9 488.7,126.1 487.1,127.6 487.5,129.7 485.6,128.6 483.8,129.7 484.2,127.6 482.6,126.1 484.8,125.9" fill="#f08020"/>
<polygon points="488.4,123.8 489.3,125.8 491.5,126.0 489.9,127.5 490.3,129.6 488.4,128.5 486.6,129.6 487.0,127.5 485.4,126.0 487.6,125.8" fill="#f08020"/>
<polygon points="491.2,123.7 492.1,125.7 494.3,125.9 492.7,127.4 493.1,129.5 491.2,128.4 489.3,129.5 489.8,127.4 488.2,125.9 490.4,125.7" fill="#f08020"/>
<polygon points="494.0,123.5 494.9,125.5 497.1,125.8 495.5,127.2 495.9,129.4 494.0,128.2 492.1,129.4 492.6,127.2 491.0,125.8 493.2,125.5" fill="#f08020"/>
<polygon points="496.8,123.3 497.7,125.3 499.9,125.6 498.3,127.0 498.7,129.2 496.8,128.0 494.9,129.2 495.4,127.0 493.8,125.6 496.0,125.3" fill="#f08020"/>
<polygon points="499.6,123.1 500.5,125.1 502.7,125.3 501.0,126.8 501.5,128.9 499.6,127.8 497.7,128.9 498.2,126.8 496.6,125.3 498.7,125.1" fill="#f08020"/>
<polygon points="502.4,122.8 503.3,124.9 505.5,125.1 503.8,126.5 504.3,128.7 502.4,127.6 500.5,128.7 501.0,126.5 499.3,125.1 501.5,124.9" fill="#f08020"/>
<polygon points="505.2,122.5 506.1,124.5 508.2,124.7 506.6,126.2 507.1,128.3 505.2,127.2 503.3,128.3 503.8,126.2 502.1,124.7 504.3,124.5" fill="#f08020"/>
<polygon points="507.9,122.0 508.8,124.0 511.0,124.3 509.4,125.7 509.8,127.9 507.9,126.7 506.1,127.9 506.5,125.7 504.9,124.3 507.1,124.0" fill="#f08020"/>
<polygon points="510.7,121.5 511.6,123.6 513.8,123.8 512.1,125.2 512.6,127.4 510.7,126.3 508.8,127.4 509.3,125.2 507.6,123.8 509.8,123.6" fill="#f08020"/>
<polygon points="513.5,121.1 514.3,123.1 516.5,123.3 514.9,124.7 515.4,126.9 513.5,125.8 511.6,126.9 512.0,124.7 510.4,123.3 512.6,123.1" fill="#f08020"/>
<polygon points="516.2,120.6 517.1,122.6 519.3,122.8 517.6,124.3 518.1,126.4 516.2,125.3 514.3,126.4 514.8,124.3 513.2,122.8 515.3,122.6" fill="#f08020"/>
<polygon points="519.0,120.1 519.9,122.1 522.0,122.3 520.4,123.8 520.9,125.9 519.0,124.8 517.1,125.9 517.6,123.8 515.9,122.3 518.1,122.1" fill="#f08020"/>
<polygon points="521.7,119.7 522.6,121.7 524.8,121.9 523.2,123.3 523.6,125.5 521.7,124.4 519.9,125.5 520.3,123.3 518.7,121.9 520.9,121.7" fill="#f08020"/>
<polygon points="524.5,119.1 525.4,121.1 527.6,121.4 525.9,122.8 526.4,125.0 524.5,123.9 522.6,125.0 523.1,122.8 521.4,121.4 523.6,121.1" fill="#f08020"/>
<polygon points="527.2,118.5 528.1,120.5 530.3,120.8 528.7,122.2 529.1,124.4 527.2,123.2 525.3,124.4 525.8,122.2 524.2,120.8 526.4,120.5" fill="#f08020"/>
<polygon points="529.9,117.8 530.8,119.8 533.0,120.0 531.4,121.5 531.8,123.6 529.9,122.5 528.0,123.6 528.5,121.5 526.9,120.0 529.1,119.8" fill="#f08020"/>
<polygon points="532.5,116.7 533.4,118.7 535.6,118.9 533.9,120.4 534.4,122.5 532.5,121.4 530.6,122.5 531.1,120.4 529.4,118.9 531.6,118.7" fill="#f08020"/>
<polygon points="534.9,115.3 535.8,117.3 538.0,117.5 536.3,119.0 536.8,121.1 534.9,120.0 533.0,121.1 533.5,119.0 531.9,117.5 534.0,117.3" fill="#f08020"/>
<polygon points="537.2,113.7 538.1,115.7 540.3,115.9 538.7,117.4 539.1,119.5 537.2,118.4 535.3,119.5 535.8,117.4 534.2,115.9 536.4,115.7" fill="#f08020"/>
<polygon points="539.5,112.1 540.4,114.1 542.6,114.4 541.0,115.8 541.4,118.0 539.5,116.8 537.6,118.0 538.1,115.8 536.5,114.4 538.7,114.1" fill="#f08020"/>
<polygon points="541.9,110.7 542.8,112.7 545.0,112.9 543.3,114.4 543.8,116.5 541.9,115.4 540.0,116.5 540.5,114.4 538.9,112.9 541.0,112.7" fill="#f08020"/>
<polygon points="544.5,109.5 545.3,111.5 547.5,111.7 545.9,113.2 546.4,115.3 544.5,114.2 542.6,115.3 543.0,113.2 541.4,111.7 543.6,111.5" fill="#f08020"/>
<polygon points="547.1,108.4 547.9,110.5 550.1,110.7 548.5,112.1 549.0,114.3 547.1,113.2 545.2,114.3 545.6,112.1 544.0,110.7 546.2,110.5" fill="#f08020"/>
<polygon points="549.7,107.5 550.6,109.5 552.8,109.7 551.1,111.2 551.6,113.3 549.7,112.2 547.8,113.3 548.3,111.2 546.6,109.7 548.8,109.5" fill="#f08020"/>
<polygon points="552.3,106.6 553.2,108.6 555.4,108.8 553.8,110.3 554.2,112.4 552.3,111.3 550.5,112.4 550.9,110.3 549.3,108.8 551.5,108.6" fill="#f08020"/>
<polygon points="555.0,105.7 555.9,107.7 558.1,108.0 556.4,109.4 556.9,111.6 555.0,110.4 553.1,111.6 553.6,109.4 551.9,108.0 554.1,107.7" fill="#f08020"/>
<polygon points="557.7,104.8 558.5,106.9 560.7,107.1 559.1,108.5 559.6,110.7 557.7,109.6 555.8,110.7 556.2,108.5 554.6,107.1 556.8,106.9" fill="#f08020"/>
<polygon points="586.6,84.2 587.6,86.5 590.1,86.8 588.2,88.4 588.8,90.9 586.6,89.6 584.4,90.9 585.0,88.4 583.1,86.8 585.6,86.5" fill="#f08020"/>
<polygon points="615.3,64.0 616.3,66.3 618.8,66.6 616.9,68.2 617.5,70.7 615.3,69.4 613.1,70.7 613.7,68.2 611.8,66.6 614.3,66.3" fill="#f08020"/>
<polygon points="643.9,40.6 644.9,42.9 647.4,43.2 645.5,44.8 646.1,47.3 643.9,46.0 641.7,47.3 642.3,44.8 640.4,43.2 642.9,42.9" fill="#f08020"/>
<polygon points="667.6,16.7 668.6,19.0 671.1,19.3 669.2,20.9 669.8,23.4 667.6,22.1 665.4,23.4 666.0,20.9 664.1,19.3 666.6,19.0" fill="#f08020"/>
<polyline points="396.5,209.5 401.6,201.5 406.8,193.5 413.5,181.6 418.6,170.8 422.9,163.8 428.0,155.3 431.0,150.5 432.0,149.4 433.0,148.4 434.0,147.3 435.0,146.2 436.0,145.2 437.0,144.1 438.0,143.1 439.0,142.0 440.0,141.0 441.0,140.0 442.0,139.0 443.0,138.0 444.0,137.0 445.0,136.0 446.0,135.0 447.0,134.0 448.0,133.1 449.0,132.1 450.0,131.2 451.0,130.2 452.0,129.3 453.0,128.4 454.0,127.5 455.0,126.5 456.0,125.6 457.0,124.7 458.0,123.8 459.0,122.9 460.0,122.1 461.0,121.3 462.0,120.6 463.0,120.0 464.0,119.3 465.0,118.7 466.0,118.1 467.0,117.6 468.0,117.0 469.0,116.5 470.0,116.1 471.0,115.6 472.0,115.2 473.0,114.9 474.0,114.6 475.0,114.4 476.0,114.1 477.0,113.9 478.0,113.7 479.0,113.5 480.0,113.3 481.0,113.2 482.0,113.0 483.0,112.8 484.0,112.7 485.0,112.5 486.0,112.3 487.0,112.2 488.0,112.0 489.0,111.9 490.0,111.8 491.0,111.6 492.0,111.5 493.0,111.4 494.0,111.2 495.0,111.1 496.0,110.9 497.0,110.8 498.0,110.6 499.0,110.5 500.0,110.3 501.0,110.1 502.0,109.9 503.0,109.7 504.0,109.5 505.0,109.3 506.0,109.0 507.0,108.8 508.0,108.6 509.0,108.3 510.0,108.1 511.0,107.8 512.0,107.6 513.0,107.3 514.0,107.1 515.0,106.8 516.0,106.5 517.0,106.3 518.0,106.0 519.0,105.7 520.0,105.5 521.0,105.2 522.0,104.9 523.0,104.6 524.0,104.3 525.0,104.0 526.0,103.7 527.0,103.4 528.0,103.1 529.0,102.8 530.0,102.5 531.0,102.2 532.0,101.9 533.0,101.6 534.0,101.3 535.0,101.0 536.0,100.7 537.0,100.4 538.0,100.1 539.0,99.8 540.0,99.5 541.0,99.2 542.0,98.8 543.0,98.5 544.0,98.2 545.0,97.9 546.0,97.6 547.0,97.3 548.0,96.9 549.0,96.6 550.0,96.3 551.0,96.0 552.0,95.6 553.0,95.3 554.0,95.0 555.0,94.7 556.0,94.3 557.0,94.0 558.0,93.7 558.5,93.5 586.6,76.8 615.3,57.8 643.9,37.2 667.6,13.6" fill="none" stroke="#7b45c0" stroke-width="1.1" stroke-linejoin="round" stroke-linecap="round" />
<polyline points="431.0,150.5 432.0,149.4 433.0,148.4 434.0,147.3 435.0,146.2 436.0,145.2 437.0,144.1 438.0,143.1 439.0,142.0 440.0,141.0 441.0,140.0 442.0,139.0 443.0,138.0 444.0,137.0 445.0,136.0 446.0,135.0 447.0,134.0 448.0,133.1 449.0,132.1 450.0,131.2 451.0,130.2 452.0,129.3 453.0,128.4 454.0,127.5 455.0,126.5 456.0,125.6 457.0,124.7 458.0,123.8 459.0,122.9 460.0,122.1 461.0,121.3 462.0,120.6 463.0,120.0 464.0,119.3 465.0,118.7 466.0,118.1 467.0,117.6 468.0,117.0 469.0,116.5 470.0,116.1 471.0,115.6 472.0,115.2 473.0,114.9 474.0,114.6 475.0,114.4 476.0,114.1 477.0,113.9 478.0,113.7 479.0,113.5 480.0,113.3 481.0,113.2 482.0,113.0 483.0,112.8 484.0,112.7 485.0,112.5 486.0,112.3 487.0,112.2 488.0,112.0 489.0,111.9 490.0,111.8 491.0,111.6 492.0,111.5 493.0,111.4 494.0,111.2 495.0,111.1 496.0,110.9 497.0,110.8 498.0,110.6 499.0,110.5 500.0,110.3 501.0,110.1 502.0,109.9 503.0,109.7 504.0,109.5 505.0,109.3 506.0,109.0 507.0,108.8 508.0,108.6 509.0,108.3 510.0,108.1 511.0,107.8 512.0,107.6 513.0,107.3 514.0,107.1 515.0,106.8 516.0,106.5 517.0,106.3 518.0,106.0 519.0,105.7 520.0,105.5 521.0,105.2 522.0,104.9 523.0,104.6 524.0,104.3 525.0,104.0 526.0,103.7 527.0,103.4 528.0,103.1 529.0,102.8 530.0,102.5 531.0,102.2 532.0,101.9 533.0,101.6 534.0,101.3 535.0,101.0 536.0,100.7 537.0,100.4 538.0,100.1 539.0,99.8 540.0,99.5 541.0,99.2 542.0,98.8 543.0,98.5 544.0,98.2 545.0,97.9 546.0,97.6 547.0,97.3 548.0,96.9 549.0,96.6 550.0,96.3 551.0,96.0 552.0,95.6 553.0,95.3 554.0,95.0 555.0,94.7 556.0,94.3 557.0,94.0 558.0,93.7 558.5,93.5" fill="none" stroke="#7b45c0" stroke-width="3.0" stroke-linejoin="round" stroke-linecap="round" />
<polygon points="396.5,206.5 399.4,208.6 398.3,212.0 394.7,212.0 393.6,208.6" fill="#7b45c0"/>
<polygon points="401.6,198.5 404.5,200.6 403.4,204.0 399.8,204.0 398.7,200.6" fill="#7b45c0"/>
<polygon points="406.8,190.5 409.7,192.6 408.6,196.0 405.0,196.0 403.9,192.6" fill="#7b45c0"/>
<polygon points="413.5,178.6 416.4,180.7 415.3,184.1 411.7,184.1 410.6,180.7" fill="#7b45c0"/>
<polygon points="418.6,167.8 421.5,169.9 420.4,173.3 416.8,173.3 415.7,169.9" fill="#7b45c0"/>
<polygon points="422.9,160.8 425.8,162.9 424.7,166.3 421.1,166.3 420.0,162.9" fill="#7b45c0"/>
<polygon points="428.0,152.3 430.9,154.4 429.8,157.8 426.2,157.8 425.1,154.4" fill="#7b45c0"/>
<polygon points="431.0,147.9 433.5,149.7 432.6,152.6 429.4,152.6 428.5,149.7" fill="#7b45c0"/>
<polygon points="432.9,145.8 435.4,147.6 434.5,150.6 431.4,150.6 430.4,147.6" fill="#7b45c0"/>
<polygon points="434.8,143.8 437.3,145.6 436.4,148.6 433.3,148.6 432.3,145.6" fill="#7b45c0"/>
<polygon points="436.7,141.7 439.3,143.6 438.3,146.5 435.2,146.5 434.2,143.6" fill="#7b45c0"/>
<polygon points="438.7,139.7 441.2,141.5 440.2,144.5 437.1,144.5 436.2,141.5" fill="#7b45c0"/>
<polygon points="440.6,137.7 443.2,139.5 442.2,142.5 439.1,142.5 438.1,139.5" fill="#7b45c0"/>
<polygon points="442.6,135.7 445.1,137.5 444.2,140.5 441.1,140.5 440.1,137.5" fill="#7b45c0"/>
<polygon points="444.6,133.7 447.1,135.6 446.2,138.5 443.0,138.5 442.1,135.6" fill="#7b45c0"/>
<polygon points="446.6,131.8 449.1,133.6 448.2,136.6 445.0,136.6 444.1,133.6" fill="#7b45c0"/>
<polygon points="448.6,129.8 451.1,131.7 450.2,134.6 447.1,134.6 446.1,131.7" fill="#7b45c0"/>
<polygon points="450.7,127.9 453.2,129.8 452.2,132.7 449.1,132.7 448.1,129.8" fill="#7b45c0"/>
<polygon points="452.7,126.0 455.2,127.9 454.3,130.8 451.2,130.8 450.2,127.9" fill="#7b45c0"/>
<polygon points="454.8,124.1 457.3,125.9 456.3,128.9 453.2,128.9 452.3,125.9" fill="#7b45c0"/>
<polygon points="456.8,122.2 459.3,124.0 458.4,127.0 455.3,127.0 454.3,124.0" fill="#7b45c0"/>
<polygon points="458.9,120.3 461.4,122.2 460.5,125.1 457.3,125.1 456.4,122.2" fill="#7b45c0"/>
<polygon points="461.1,118.6 463.6,120.4 462.6,123.4 459.5,123.4 458.6,120.4" fill="#7b45c0"/>
<polygon points="463.4,117.0 465.9,118.9 465.0,121.8 461.9,121.8 460.9,118.9" fill="#7b45c0"/>
<polygon points="465.8,115.6 468.3,117.4 467.4,120.4 464.3,120.4 463.3,117.4" fill="#7b45c0"/>
<polygon points="468.3,114.3 470.8,116.1 469.8,119.0 466.7,119.0 465.8,116.1" fill="#7b45c0"/>
<polygon points="470.8,113.1 473.3,114.9 472.4,117.9 469.3,117.9 468.3,114.9" fill="#7b45c0"/>
<polygon points="473.4,112.1 476.0,114.0 475.0,116.9 471.9,116.9 470.9,114.0" fill="#7b45c0"/>
<polygon points="476.2,111.4 478.7,113.3 477.7,116.2 474.6,116.2 473.6,113.3" fill="#7b45c0"/>
<polygon points="478.9,110.9 481.4,112.7 480.5,115.7 477.3,115.7 476.4,112.7" fill="#7b45c0"/>
<polygon points="481.7,110.4 484.2,112.2 483.2,115.2 480.1,115.2 479.1,112.2" fill="#7b45c0"/>
<polygon points="484.4,110.0 486.9,111.8 486.0,114.7 482.9,114.7 481.9,111.8" fill="#7b45c0"/>
<polygon points="487.2,109.5 489.7,111.3 488.7,114.3 485.6,114.3 484.7,111.3" fill="#7b45c0"/>
<polygon points="490.0,109.1 492.5,110.9 491.5,113.9 488.4,113.9 487.4,110.9" fill="#7b45c0"/>
<polygon points="492.7,108.7 495.2,110.6 494.3,113.5 491.2,113.5 490.2,110.6" fill="#7b45c0"/>
<polygon points="495.5,108.4 498.0,110.2 497.1,113.2 494.0,113.2 493.0,110.2" fill="#7b45c0"/>
<polygon points="498.3,107.9 500.8,109.8 499.8,112.7 496.7,112.7 495.8,109.8" fill="#7b45c0"/>
<polygon points="501.0,107.5 503.5,109.3 502.6,112.2 499.5,112.2 498.5,109.3" fill="#7b45c0"/>
<polygon points="503.8,106.9 506.3,108.7 505.3,111.7 502.2,111.7 501.3,108.7" fill="#7b45c0"/>
<polygon points="506.5,106.3 509.0,108.1 508.1,111.1 505.0,111.1 504.0,108.1" fill="#7b45c0"/>
<polygon points="509.2,105.6 511.7,107.5 510.8,110.4 507.7,110.4 506.7,107.5" fill="#7b45c0"/>
<polygon points="511.9,104.9 514.5,106.8 513.5,109.7 510.4,109.7 509.4,106.8" fill="#7b45c0"/>
<polygon points="514.7,104.2 517.2,106.1 516.2,109.0 513.1,109.0 512.1,106.1" fill="#7b45c0"/>
<polygon points="517.4,103.5 519.9,105.4 518.9,108.3 515.8,108.3 514.8,105.4" fill="#7b45c0"/>
<polygon points="520.1,102.8 522.6,104.6 521.6,107.6 518.5,107.6 517.5,104.6" fill="#7b45c0"/>
<polygon points="522.8,102.0 525.3,103.8 524.3,106.8 521.2,106.8 520.2,103.8" fill="#7b45c0"/>
<polygon points="525.4,101.2 528.0,103.1 527.0,106.0 523.9,106.0 522.9,103.1" fill="#7b45c0"/>
<polygon points="528.1,100.4 530.6,102.3 529.7,105.2 526.6,105.2 525.6,102.3" fill="#7b45c0"/>
<polygon points="530.8,99.6 533.3,101.5 532.4,104.4 529.3,104.4 528.3,101.5" fill="#7b45c0"/>
<polygon points="533.5,98.8 536.0,100.6 535.0,103.6 531.9,103.6 531.0,100.6" fill="#7b45c0"/>
<polygon points="536.2,98.0 538.7,99.8 537.7,102.8 534.6,102.8 533.7,99.8" fill="#7b45c0"/>
<polygon points="538.8,97.2 541.4,99.0 540.4,102.0 537.3,102.0 536.3,99.0" fill="#7b45c0"/>
<polygon points="541.5,96.4 544.0,98.2 543.1,101.1 540.0,101.1 539.0,98.2" fill="#7b45c0"/>
<polygon points="544.2,95.5 546.7,97.3 545.7,100.3 542.6,100.3 541.7,97.3" fill="#7b45c0"/>
<polygon points="546.9,94.7 549.4,96.5 548.4,99.4 545.3,99.4 544.3,96.5" fill="#7b45c0"/>
<polygon points="549.5,93.8 552.0,95.6 551.1,98.6 548.0,98.6 547.0,95.6" fill="#7b45c0"/>
<polygon points="552.2,92.9 554.7,94.8 553.7,97.7 550.6,97.7 549.7,94.8" fill="#7b45c0"/>
<polygon points="554.8,92.1 557.4,93.9 556.4,96.9 553.3,96.9 552.3,93.9" fill="#7b45c0"/>
<polygon points="557.5,91.2 560.0,93.0 559.1,96.0 555.9,96.0 555.0,93.0" fill="#7b45c0"/>
<polygon points="586.6,73.8 589.5,75.9 588.4,79.3 584.8,79.3 583.7,75.9" fill="#7b45c0"/>
<polygon points="615.3,54.8 618.2,56.9 617.1,60.3 613.5,60.3 612.4,56.9" fill="#7b45c0"/>
<polygon points="643.9,34.2 646.8,36.3 645.7,39.7 642.1,39.7 641.0,36.3" fill="#7b45c0"/>
<polygon points="667.6,10.6 670.5,12.7 669.4,16.1 665.8,16.1 664.7,12.7" fill="#7b45c0"/>
<polyline points="396.5,212.5 401.6,207.5 406.8,201.0 412.2,193.5 416.0,186.0 419.5,180.0 422.9,174.8 426.3,170.6 429.7,165.5 433.0,158.7 436.0,152.5 440.9,147.0 441.9,146.3 442.9,145.6 443.9,144.9 444.9,144.2 445.9,143.4 446.9,142.7 447.9,141.8 448.9,141.0 449.9,140.0 450.9,139.1 451.9,138.1 452.9,137.1 453.9,136.0 454.9,135.0 455.9,133.9 456.9,132.9 457.9,131.9 458.9,130.9 459.9,129.9 460.9,128.8 461.9,127.7 462.9,126.7 463.9,125.6 464.9,124.6 465.9,123.5 466.9,122.5 467.9,121.6 468.9,120.7 469.9,119.8 470.9,119.0 471.9,118.3 472.9,117.5 473.9,116.8 474.9,116.1 475.9,115.4 476.9,114.8 477.9,114.1 478.9,113.5 479.9,112.9 480.9,112.3 481.9,111.7 482.9,111.2 483.9,110.6 484.9,110.1 485.9,109.5 486.9,109.0 487.9,108.5 488.9,108.0 489.9,107.5 490.9,107.0 491.9,106.6 492.9,106.1 493.9,105.7 494.9,105.2 495.9,104.8 496.9,104.3 497.9,103.9 498.9,103.5 499.9,103.0 500.9,102.6 501.9,102.2 502.9,101.7 503.9,101.3 504.9,100.9 505.9,100.5 506.9,100.1 507.9,99.7 508.9,99.2 509.9,98.8 510.9,98.5 511.9,98.1 512.9,97.7 513.9,97.3 514.9,96.9 515.9,96.6 516.9,96.2 517.9,95.9 518.9,95.5 519.9,95.2 520.9,94.9 521.9,94.6 522.9,94.2 523.9,93.9 524.9,93.6 525.9,93.3 526.9,93.0 527.9,92.7 528.9,92.4 529.9,92.1 530.9,91.8 531.9,91.5 532.9,91.1 533.9,90.8 534.9,90.5 535.9,90.2 536.9,89.9 537.9,89.7 538.9,89.4 539.9,89.1 540.9,88.8 541.9,88.6 542.9,88.3 543.9,88.0 544.9,87.7 545.9,87.4 546.9,87.1 547.9,86.8 548.9,86.4 549.9,86.0 550.9,85.6 551.9,85.2 552.9,84.7 553.9,84.2 554.9,83.7 555.9,83.1 556.9,82.6 557.9,82.1 558.9,81.6 558.9,81.6 586.6,63.8 615.3,45.7 644.2,27.6 667.6,6.8" fill="none" stroke="#e8288a" stroke-width="1.1" stroke-linejoin="round" stroke-linecap="round" />
<polyline points="440.9,147.0 441.9,146.3 442.9,145.6 443.9,144.9 444.9,144.2 445.9,143.4 446.9,142.7 447.9,141.8 448.9,141.0 449.9,140.0 450.9,139.1 451.9,138.1 452.9,137.1 453.9,136.0 454.9,135.0 455.9,133.9 456.9,132.9 457.9,131.9 458.9,130.9 459.9,129.9 460.9,128.8 461.9,127.7 462.9,126.7 463.9,125.6 464.9,124.6 465.9,123.5 466.9,122.5 467.9,121.6 468.9,120.7 469.9,119.8 470.9,119.0 471.9,118.3 472.9,117.5 473.9,116.8 474.9,116.1 475.9,115.4 476.9,114.8 477.9,114.1 478.9,113.5 479.9,112.9 480.9,112.3 481.9,111.7 482.9,111.2 483.9,110.6 484.9,110.1 485.9,109.5 486.9,109.0 487.9,108.5 488.9,108.0 489.9,107.5 490.9,107.0 491.9,106.6 492.9,106.1 493.9,105.7 494.9,105.2 495.9,104.8 496.9,104.3 497.9,103.9 498.9,103.5 499.9,103.0 500.9,102.6 501.9,102.2 502.9,101.7 503.9,101.3 504.9,100.9 505.9,100.5 506.9,100.1 507.9,99.7 508.9,99.2 509.9,98.8 510.9,98.5 511.9,98.1 512.9,97.7 513.9,97.3 514.9,96.9 515.9,96.6 516.9,96.2 517.9,95.9 518.9,95.5 519.9,95.2 520.9,94.9 521.9,94.6 522.9,94.2 523.9,93.9 524.9,93.6 525.9,93.3 526.9,93.0 527.9,92.7 528.9,92.4 529.9,92.1 530.9,91.8 531.9,91.5 532.9,91.1 533.9,90.8 534.9,90.5 535.9,90.2 536.9,89.9 537.9,89.7 538.9,89.4 539.9,89.1 540.9,88.8 541.9,88.6 542.9,88.3 543.9,88.0 544.9,87.7 545.9,87.4 546.9,87.1 547.9,86.8 548.9,86.4 549.9,86.0 550.9,85.6 551.9,85.2 552.9,84.7 553.9,84.2 554.9,83.7 555.9,83.1 556.9,82.6 557.9,82.1 558.9,81.6 558.9,81.6" fill="none" stroke="#e8288a" stroke-width="3.0" stroke-linejoin="round" stroke-linecap="round" />
<polygon points="399.8,212.5 394.2,209.3 394.2,215.7" fill="#e8288a"/>
<polygon points="404.9,207.5 399.3,204.3 399.3,210.7" fill="#e8288a"/>
<polygon points="410.1,201.0 404.5,197.8 404.5,204.2" fill="#e8288a"/>
<polygon points="415.5,193.5 409.9,190.3 409.9,196.7" fill="#e8288a"/>
<polygon points="419.3,186.0 413.7,182.8 413.7,189.2" fill="#e8288a"/>
<polygon points="422.8,180.0 417.2,176.8 417.2,183.2" fill="#e8288a"/>
<polygon points="426.2,174.8 420.6,171.6 420.6,178.0" fill="#e8288a"/>
<polygon points="429.6,170.6 424.0,167.4 424.0,173.8" fill="#e8288a"/>
<polygon points="433.0,165.5 427.4,162.3 427.4,168.7" fill="#e8288a"/>
<polygon points="436.3,158.7 430.7,155.5 430.7,161.9" fill="#e8288a"/>
<polygon points="439.3,152.5 433.7,149.3 433.7,155.7" fill="#e8288a"/>
<polygon points="443.8,147.0 438.9,144.2 438.9,149.8" fill="#e8288a"/>
<polygon points="446.1,145.4 441.1,142.6 441.1,148.1" fill="#e8288a"/>
<polygon points="448.3,143.7 443.4,141.0 443.4,146.5" fill="#e8288a"/>
<polygon points="450.5,142.0 445.6,139.3 445.6,144.8" fill="#e8288a"/>
<polygon points="452.6,140.2 447.7,137.4 447.7,142.9" fill="#e8288a"/>
<polygon points="454.6,138.2 449.7,135.5 449.7,141.0" fill="#e8288a"/>
<polygon points="456.6,136.2 451.7,133.4 451.7,139.0" fill="#e8288a"/>
<polygon points="458.5,134.2 453.6,131.4 453.6,136.9" fill="#e8288a"/>
<polygon points="460.5,132.2 455.6,129.4 455.6,134.9" fill="#e8288a"/>
<polygon points="462.5,130.2 457.5,127.4 457.5,132.9" fill="#e8288a"/>
<polygon points="464.4,128.2 459.5,125.4 459.5,130.9" fill="#e8288a"/>
<polygon points="466.3,126.1 461.4,123.4 461.4,128.9" fill="#e8288a"/>
<polygon points="468.2,124.1 463.3,121.3 463.3,126.8" fill="#e8288a"/>
<polygon points="470.2,122.1 465.3,119.4 465.3,124.9" fill="#e8288a"/>
<polygon points="472.3,120.2 467.4,117.5 467.4,123.0" fill="#e8288a"/>
<polygon points="474.5,118.5 469.6,115.7 469.6,121.3" fill="#e8288a"/>
<polygon points="476.7,116.8 471.8,114.1 471.8,119.6" fill="#e8288a"/>
<polygon points="479.1,115.3 474.1,112.5 474.1,118.0" fill="#e8288a"/>
<polygon points="481.4,113.7 476.5,111.0 476.5,116.5" fill="#e8288a"/>
<polygon points="483.8,112.3 478.9,109.5 478.9,115.1" fill="#e8288a"/>
<polygon points="486.2,110.9 481.3,108.1 481.3,113.7" fill="#e8288a"/>
<polygon points="488.7,109.6 483.8,106.8 483.8,112.3" fill="#e8288a"/>
<polygon points="491.2,108.3 486.3,105.5 486.3,111.0" fill="#e8288a"/>
<polygon points="493.7,107.1 488.8,104.3 488.8,109.8" fill="#e8288a"/>
<polygon points="496.3,105.9 491.3,103.1 491.3,108.7" fill="#e8288a"/>
<polygon points="498.8,104.8 493.9,102.0 493.9,107.5" fill="#e8288a"/>
<polygon points="501.4,103.7 496.5,100.9 496.5,106.4" fill="#e8288a"/>
<polygon points="503.9,102.5 499.0,99.8 499.0,105.3" fill="#e8288a"/>
<polygon points="506.5,101.4 501.6,98.7 501.6,104.2" fill="#e8288a"/>
<polygon points="509.1,100.3 504.2,97.6 504.2,103.1" fill="#e8288a"/>
<polygon points="511.7,99.3 506.8,96.5 506.8,102.0" fill="#e8288a"/>
<polygon points="514.3,98.3 509.4,95.5 509.4,101.0" fill="#e8288a"/>
<polygon points="516.9,97.3 512.0,94.5 512.0,100.0" fill="#e8288a"/>
<polygon points="519.5,96.3 514.6,93.6 514.6,99.1" fill="#e8288a"/>
<polygon points="522.2,95.4 517.3,92.6 517.3,98.2" fill="#e8288a"/>
<polygon points="524.9,94.5 519.9,91.8 519.9,97.3" fill="#e8288a"/>
<polygon points="527.5,93.7 522.6,90.9 522.6,96.4" fill="#e8288a"/>
<polygon points="530.2,92.9 525.3,90.1 525.3,95.6" fill="#e8288a"/>
<polygon points="532.9,92.0 528.0,89.3 528.0,94.8" fill="#e8288a"/>
<polygon points="535.6,91.2 530.6,88.5 530.6,94.0" fill="#e8288a"/>
<polygon points="538.2,90.4 533.3,87.6 533.3,93.2" fill="#e8288a"/>
<polygon points="540.9,89.6 536.0,86.9 536.0,92.4" fill="#e8288a"/>
<polygon points="543.6,88.9 538.7,86.1 538.7,91.6" fill="#e8288a"/>
<polygon points="546.3,88.1 541.4,85.4 541.4,90.9" fill="#e8288a"/>
<polygon points="549.0,87.3 544.1,84.6 544.1,90.1" fill="#e8288a"/>
<polygon points="551.7,86.5 546.7,83.7 546.7,89.2" fill="#e8288a"/>
<polygon points="554.3,85.4 549.3,82.7 549.3,88.2" fill="#e8288a"/>
<polygon points="556.8,84.2 551.9,81.4 551.9,87.0" fill="#e8288a"/>
<polygon points="559.3,82.9 554.3,80.1 554.3,85.6" fill="#e8288a"/>
<polygon points="561.7,81.6 556.8,78.8 556.8,84.3" fill="#e8288a"/>
<polygon points="589.9,63.8 584.3,60.6 584.3,67.0" fill="#e8288a"/>
<polygon points="618.6,45.7 613.0,42.5 613.0,48.9" fill="#e8288a"/>
<polygon points="647.5,27.6 641.9,24.4 641.9,30.8" fill="#e8288a"/>
<polygon points="670.9,6.8 665.3,3.6 665.3,10.0" fill="#e8288a"/>
<rect x="385.8" y="0.8" width="282.49999999999994" height="227.1" fill="none" stroke="#000" stroke-width="1.8"/>
<line x1="385.80" y1="227.90" x2="390.20" y2="227.90" stroke="#000" stroke-width="1.3" />
<text x="381.30" y="232.40" font-size="15.3" text-anchor="end" fill="#000"  stroke="#000" stroke-width="0.184">0</text>
<line x1="385.80" y1="181.20" x2="390.20" y2="181.20" stroke="#000" stroke-width="1.3" />
<text x="381.30" y="185.70" font-size="15.3" text-anchor="end" fill="#000"  stroke="#000" stroke-width="0.184">20</text>
<line x1="385.80" y1="134.50" x2="390.20" y2="134.50" stroke="#000" stroke-width="1.3" />
<text x="381.30" y="139.00" font-size="15.3" text-anchor="end" fill="#000"  stroke="#000" stroke-width="0.184">40</text>
<line x1="385.80" y1="87.80" x2="390.20" y2="87.80" stroke="#000" stroke-width="1.3" />
<text x="381.30" y="92.30" font-size="15.3" text-anchor="end" fill="#000"  stroke="#000" stroke-width="0.184">60</text>
<line x1="385.80" y1="41.10" x2="390.20" y2="41.10" stroke="#000" stroke-width="1.3" />
<text x="381.30" y="45.60" font-size="15.3" text-anchor="end" fill="#000"  stroke="#000" stroke-width="0.184">80</text>
<line x1="385.80" y1="204.55" x2="388.40" y2="204.55" stroke="#000" stroke-width="1.3" />
<line x1="385.80" y1="157.85" x2="388.40" y2="157.85" stroke="#000" stroke-width="1.3" />
<line x1="385.80" y1="111.15" x2="388.40" y2="111.15" stroke="#000" stroke-width="1.3" />
<line x1="385.80" y1="64.45" x2="388.40" y2="64.45" stroke="#000" stroke-width="1.3" />
<line x1="385.80" y1="17.75" x2="388.40" y2="17.75" stroke="#000" stroke-width="1.3" />
<line x1="385.80" y1="227.90" x2="385.80" y2="223.70" stroke="#000" stroke-width="1.3" />
<text x="386.10" y="244.10" font-size="15" text-anchor="middle" fill="#000"  stroke="#000" stroke-width="0.180">0</text>
<line x1="442.30" y1="227.90" x2="442.30" y2="223.70" stroke="#000" stroke-width="1.3" />
<text x="442.60" y="244.10" font-size="15" text-anchor="middle" fill="#000"  stroke="#000" stroke-width="0.180">10</text>
<line x1="498.80" y1="227.90" x2="498.80" y2="223.70" stroke="#000" stroke-width="1.3" />
<text x="499.10" y="244.10" font-size="15" text-anchor="middle" fill="#000"  stroke="#000" stroke-width="0.180">20</text>
<line x1="555.30" y1="227.90" x2="555.30" y2="223.70" stroke="#000" stroke-width="1.3" />
<text x="555.60" y="244.10" font-size="15" text-anchor="middle" fill="#000"  stroke="#000" stroke-width="0.180">30</text>
<line x1="611.80" y1="227.90" x2="611.80" y2="223.70" stroke="#000" stroke-width="1.3" />
<text x="612.10" y="244.10" font-size="15" text-anchor="middle" fill="#000"  stroke="#000" stroke-width="0.180">40</text>
<line x1="668.30" y1="227.90" x2="668.30" y2="223.70" stroke="#000" stroke-width="1.3" />
<text x="668.60" y="244.10" font-size="15" text-anchor="middle" fill="#000"  stroke="#000" stroke-width="0.180">50</text>
<line x1="414.05" y1="227.90" x2="414.05" y2="225.30" stroke="#000" stroke-width="1.3" />
<line x1="470.55" y1="227.90" x2="470.55" y2="225.30" stroke="#000" stroke-width="1.3" />
<line x1="527.05" y1="227.90" x2="527.05" y2="225.30" stroke="#000" stroke-width="1.3" />
<line x1="583.55" y1="227.90" x2="583.55" y2="225.30" stroke="#000" stroke-width="1.3" />
<line x1="640.05" y1="227.90" x2="640.05" y2="225.30" stroke="#000" stroke-width="1.3" />
<text x="517.80" y="261.70" font-size="15" text-anchor="start" fill="#000"  stroke="#000" stroke-width="0.180">T (K)</text>
<text x="0" y="0" font-size="15.4" text-anchor="start" fill="#000" transform="translate(358.00 144.90) rotate(-90)"  stroke="#000" stroke-width="0.185">C (J/kg K)</text>
<text x="542.50" y="17.00" font-size="13.2" text-anchor="start" fill="#000"  stroke="#000" stroke-width="0.158">(b)</text>
<line x1="592.40" y1="115.20" x2="600.50" y2="115.20" stroke="#1a1a1a" stroke-width="1.4" />
<line x1="608.30" y1="115.20" x2="616.20" y2="115.20" stroke="#1a1a1a" stroke-width="1.4" />
<polygon points="601.8,112.6 607.0,112.6 607.0,117.8 601.8,117.8" fill="#1a1a1a"/>
<text x="619.30" y="118.70" font-size="10.6" text-anchor="start" fill="#000"  stroke="#000" stroke-width="0.127">Zero field</text>
<line x1="592.40" y1="128.45" x2="600.50" y2="128.45" stroke="#e8352a" stroke-width="1.4" />
<line x1="608.30" y1="128.45" x2="616.20" y2="128.45" stroke="#e8352a" stroke-width="1.4" />
<circle cx="604.4" cy="128.4" r="2.60" fill="#e8352a"/>
<text x="619.30" y="131.95" font-size="10.6" text-anchor="start" fill="#000"  stroke="#000" stroke-width="0.127">5 kOe</text>
<line x1="592.40" y1="141.70" x2="600.50" y2="141.70" stroke="#3d48b0" stroke-width="1.4" />
<line x1="608.30" y1="141.70" x2="616.20" y2="141.70" stroke="#3d48b0" stroke-width="1.4" />
<polygon points="604.4,138.6 607.4,143.9 601.4,143.9" fill="#3d48b0"/>
<text x="619.30" y="145.20" font-size="10.6" text-anchor="start" fill="#000"  stroke="#000" stroke-width="0.127">7.5 kOe</text>
<line x1="592.40" y1="154.95" x2="600.50" y2="154.95" stroke="#7a2a9c" stroke-width="1.4" />
<line x1="608.30" y1="154.95" x2="616.20" y2="154.95" stroke="#7a2a9c" stroke-width="1.4" />
<polygon points="604.4,151.6 607.8,154.9 604.4,158.3 601.0,154.9" fill="#7a2a9c"/>
<text x="619.30" y="158.45" font-size="10.6" text-anchor="start" fill="#000"  stroke="#000" stroke-width="0.127">10 kOe</text>
<line x1="592.40" y1="168.20" x2="600.50" y2="168.20" stroke="#1b8a3c" stroke-width="1.4" />
<line x1="608.30" y1="168.20" x2="616.20" y2="168.20" stroke="#1b8a3c" stroke-width="1.4" />
<circle cx="604.4" cy="168.2" r="2.60" fill="#1b8a3c"/>
<text x="619.30" y="171.70" font-size="10.6" text-anchor="start" fill="#000"  stroke="#000" stroke-width="0.127">20 kOe</text>
<line x1="592.40" y1="181.45" x2="600.50" y2="181.45" stroke="#f08020" stroke-width="1.4" />
<line x1="608.30" y1="181.45" x2="616.20" y2="181.45" stroke="#f08020" stroke-width="1.4" />
<polygon points="604.4,178.1 605.3,180.2 607.6,180.4 605.9,181.9 606.4,184.2 604.4,183.0 602.4,184.2 602.9,181.9 601.2,180.4 603.5,180.2" fill="#f08020"/>
<text x="619.30" y="184.95" font-size="10.6" text-anchor="start" fill="#000"  stroke="#000" stroke-width="0.127">30 kOe</text>
<line x1="592.40" y1="194.70" x2="600.50" y2="194.70" stroke="#7b45c0" stroke-width="1.4" />
<line x1="608.30" y1="194.70" x2="616.20" y2="194.70" stroke="#7b45c0" stroke-width="1.4" />
<polygon points="604.4,191.7 607.2,193.8 606.2,197.1 602.6,197.1 601.6,193.8" fill="#7b45c0"/>
<text x="619.30" y="198.20" font-size="10.6" text-anchor="start" fill="#000"  stroke="#000" stroke-width="0.127">50 kOe</text>
<line x1="592.40" y1="207.95" x2="600.50" y2="207.95" stroke="#e8288a" stroke-width="1.4" />
<line x1="608.30" y1="207.95" x2="616.20" y2="207.95" stroke="#e8288a" stroke-width="1.4" />
<polygon points="607.5,207.9 602.2,205.0 602.2,210.9" fill="#e8288a"/>
<text x="619.30" y="211.45" font-size="10.6" text-anchor="start" fill="#000"  stroke="#000" stroke-width="0.127">70 kOe</text>
<rect x="419.4" y="0.8" width="104.10000000000002" height="79.0" fill="#fff" stroke="#000" stroke-width="1.2"/>
<clipPath id="jc"><rect x="419.4" y="0.8" width="104.1" height="79"/></clipPath>
<polyline points="419.5,79.6 420.5,78.2 421.5,76.9 422.5,75.6 423.5,74.2 424.5,72.9 425.5,71.6 426.5,70.3 427.5,69.0 428.5,67.8 429.5,66.5 430.5,65.3 431.5,64.0 432.5,62.8 433.5,61.6 434.5,60.4 435.5,59.2 436.5,58.0 437.5,56.8 438.5,55.7 439.5,54.5 440.5,53.4 441.5,52.3 442.5,51.2 443.5,50.1 444.5,49.0 445.5,47.9 446.5,46.8 447.5,45.8 448.5,44.7 449.5,43.7 450.5,42.7 451.5,41.6 452.5,40.6 453.5,39.7 454.5,38.7 455.5,37.7 456.5,36.8 457.5,35.8 458.5,34.9 459.5,34.0 460.5,33.0 461.5,32.1 462.5,31.3 463.5,30.4 464.5,29.5 465.5,28.7 466.5,27.8 467.5,27.0 468.5,26.2 469.5,25.4 470.5,24.6 471.5,23.8 472.5,23.0 473.5,22.2 474.5,21.5 475.5,20.7 476.5,20.0 477.5,19.3 478.5,18.6 479.5,17.9 480.5,17.2 481.5,16.5 482.5,15.9 483.5,15.2 484.5,14.6 485.5,13.9 486.5,13.3 487.5,12.7 488.5,12.1 489.5,11.5 490.5,11.0 491.5,10.4 492.5,9.8 493.5,9.3 494.5,8.8 495.5,8.3 496.5,7.8 497.5,7.3 498.5,6.8 499.5,6.3 500.5,5.8 501.5,5.4 502.5,5.0 503.5,4.5 504.5,4.1 505.5,3.7 506.5,3.3 507.5,2.9 508.5,2.6 509.5,2.2 510.5,1.9 511.5,1.5 512.5,1.2 513.5,0.9 514.5,0.6 515.5,0.3 516.5,0.0 517.5,-0.3 518.5,-0.5 519.5,-0.8 520.5,-1.0 521.5,-1.2 522.5,-1.4 523.5,-1.6" fill="none" stroke="#000" stroke-width="1.35" stroke-linejoin="round" stroke-linecap="round" clip-path="url(#jc)"/>
<polyline points="419.5,79.6 420.5,78.3 421.5,77.1 422.5,75.8 423.5,74.6 424.5,73.4 425.5,72.2 426.5,71.0 427.5,69.8 428.5,68.6 429.5,67.4 430.5,66.2 431.5,65.1 432.5,63.9 433.5,62.8 434.5,61.6 435.5,60.5 436.5,59.4 437.5,58.3 438.5,57.2 439.5,56.1 440.5,55.1 441.5,54.0 442.5,52.9 443.5,51.9 444.5,50.9 445.5,49.8 446.5,48.8 447.5,47.8 448.5,46.8 449.5,45.8 450.5,44.8 451.5,43.9 452.5,42.9 453.5,42.0 454.5,41.0 455.5,40.1 456.5,39.2 457.5,38.3 458.5,37.3 459.5,36.5 460.5,35.6 461.5,34.7 462.5,33.8 463.5,33.0 464.5,32.1 465.5,31.3 466.5,30.5 467.5,29.6 468.5,28.8 469.5,28.0 470.5,27.2 471.5,26.5 472.5,25.7 473.5,24.9 474.5,24.2 475.5,23.4 476.5,22.7 477.5,22.0 478.5,21.3 479.5,20.6 480.5,19.9 481.5,19.2 482.5,18.5 483.5,17.8 484.5,17.2 485.5,16.5 486.5,15.9 487.5,15.3 488.5,14.6 489.5,14.0 490.5,13.4 491.5,12.8 492.5,12.3 493.5,11.7 494.5,11.1 495.5,10.6 496.5,10.0 497.5,9.5 498.5,9.0 499.5,8.5 500.5,7.9 501.5,7.4 502.5,7.0 503.5,6.5 504.5,6.0 505.5,5.6 506.5,5.1 507.5,4.7 508.5,4.2 509.5,3.8 510.5,3.4 511.5,3.0 512.5,2.6 513.5,2.2 514.5,1.9 515.5,1.5 516.5,1.1 517.5,0.8 518.5,0.5 519.5,0.1 520.5,-0.2 521.5,-0.5 522.5,-0.8 523.5,-1.1" fill="none" stroke="#9b30c8" stroke-width="1.35" stroke-linejoin="round" stroke-linecap="round" clip-path="url(#jc)"/>
<polyline points="419.5,79.6 420.5,78.6 421.5,77.5 422.5,76.5 423.5,75.5 424.5,74.5 425.5,73.5 426.5,72.5 427.5,71.5 428.5,70.5 429.5,69.6 430.5,68.6 431.5,67.6 432.5,66.7 433.5,65.7 434.5,64.7 435.5,63.8 436.5,62.9 437.5,61.9 438.5,61.0 439.5,60.1 440.5,59.2 441.5,58.3 442.5,57.4 443.5,56.5 444.5,55.6 445.5,54.7 446.5,53.8 447.5,52.9 448.5,52.1 449.5,51.2 450.5,50.4 451.5,49.5 452.5,48.7 453.5,47.8 454.5,47.0 455.5,46.2 456.5,45.3 457.5,44.5 458.5,43.7 459.5,42.9 460.5,42.1 461.5,41.3 462.5,40.5 463.5,39.8 464.5,39.0 465.5,38.2 466.5,37.5 467.5,36.7 468.5,36.0 469.5,35.2 470.5,34.5 471.5,33.7 472.5,33.0 473.5,32.3 474.5,31.6 475.5,30.9 476.5,30.2 477.5,29.5 478.5,28.8 479.5,28.1 480.5,27.4 481.5,26.7 482.5,26.1 483.5,25.4 484.5,24.7 485.5,24.1 486.5,23.5 487.5,22.8 488.5,22.2 489.5,21.6 490.5,20.9 491.5,20.3 492.5,19.7 493.5,19.1 494.5,18.5 495.5,17.9 496.5,17.3 497.5,16.7 498.5,16.2 499.5,15.6 500.5,15.0 501.5,14.5 502.5,13.9 503.5,13.4 504.5,12.8 505.5,12.3 506.5,11.8 507.5,11.3 508.5,10.8 509.5,10.2 510.5,9.7 511.5,9.2 512.5,8.7 513.5,8.3 514.5,7.8 515.5,7.3 516.5,6.8 517.5,6.4 518.5,5.9 519.5,5.5 520.5,5.0 521.5,4.6 522.5,4.1 523.5,3.7" fill="none" stroke="#2e9a4a" stroke-width="1.35" stroke-linejoin="round" stroke-linecap="round" clip-path="url(#jc)"/>
<polyline points="419.5,79.6 420.5,78.8 421.5,78.0 422.5,77.2 423.5,76.4 424.5,75.5 425.5,74.7 426.5,73.9 427.5,73.1 428.5,72.4 429.5,71.6 430.5,70.8 431.5,70.0 432.5,69.2 433.5,68.4 434.5,67.6 435.5,66.9 436.5,66.1 437.5,65.3 438.5,64.6 439.5,63.8 440.5,63.0 441.5,62.3 442.5,61.5 443.5,60.8 444.5,60.0 445.5,59.3 446.5,58.5 447.5,57.8 448.5,57.1 449.5,56.3 450.5,55.6 451.5,54.9 452.5,54.1 453.5,53.4 454.5,52.7 455.5,52.0 456.5,51.3 457.5,50.5 458.5,49.8 459.5,49.1 460.5,48.4 461.5,47.7 462.5,47.0 463.5,46.3 464.5,45.6 465.5,44.9 466.5,44.3 467.5,43.6 468.5,42.9 469.5,42.2 470.5,41.5 471.5,40.9 472.5,40.2 473.5,39.5 474.5,38.8 475.5,38.2 476.5,37.5 477.5,36.9 478.5,36.2 479.5,35.6 480.5,34.9 481.5,34.3 482.5,33.6 483.5,33.0 484.5,32.4 485.5,31.7 486.5,31.1 487.5,30.5 488.5,29.8 489.5,29.2 490.5,28.6 491.5,28.0 492.5,27.4 493.5,26.7 494.5,26.1 495.5,25.5 496.5,24.9 497.5,24.3 498.5,23.7 499.5,23.1 500.5,22.5 501.5,21.9 502.5,21.4 503.5,20.8 504.5,20.2 505.5,19.6 506.5,19.0 507.5,18.5 508.5,17.9 509.5,17.3 510.5,16.8 511.5,16.2 512.5,15.6 513.5,15.1 514.5,14.5 515.5,14.0 516.5,13.4 517.5,12.9 518.5,12.3 519.5,11.8 520.5,11.3 521.5,10.7 522.5,10.2 523.5,9.7" fill="none" stroke="#f39c34" stroke-width="1.35" stroke-linejoin="round" stroke-linecap="round" clip-path="url(#jc)"/>
<polyline points="419.5,79.6 420.5,79.0 421.5,78.4 422.5,77.8 423.5,77.2 424.5,76.6 425.5,76.0 426.5,75.4 427.5,74.8 428.5,74.3 429.5,73.7 430.5,73.1 431.5,72.5 432.5,71.9 433.5,71.3 434.5,70.7 435.5,70.1 436.5,69.5 437.5,68.9 438.5,68.4 439.5,67.8 440.5,67.2 441.5,66.6 442.5,66.0 443.5,65.4 444.5,64.9 445.5,64.3 446.5,63.7 447.5,63.1 448.5,62.5 449.5,61.9 450.5,61.4 451.5,60.8 452.5,60.2 453.5,59.6 454.5,59.1 455.5,58.5 456.5,57.9 457.5,57.3 458.5,56.8 459.5,56.2 460.5,55.6 461.5,55.0 462.5,54.5 463.5,53.9 464.5,53.3 465.5,52.7 466.5,52.2 467.5,51.6 468.5,51.0 469.5,50.5 470.5,49.9 471.5,49.3 472.5,48.8 473.5,48.2 474.5,47.6 475.5,47.1 476.5,46.5 477.5,45.9 478.5,45.4 479.5,44.8 480.5,44.3 481.5,43.7 482.5,43.1 483.5,42.6 484.5,42.0 485.5,41.5 486.5,40.9 487.5,40.3 488.5,39.8 489.5,39.2 490.5,38.7 491.5,38.1 492.5,37.6 493.5,37.0 494.5,36.5 495.5,35.9 496.5,35.3 497.5,34.8 498.5,34.2 499.5,33.7 500.5,33.1 501.5,32.6 502.5,32.0 503.5,31.5 504.5,30.9 505.5,30.4 506.5,29.8 507.5,29.3 508.5,28.8 509.5,28.2 510.5,27.7 511.5,27.1 512.5,26.6 513.5,26.0 514.5,25.5 515.5,25.0 516.5,24.4 517.5,23.9 518.5,23.3 519.5,22.8 520.5,22.3 521.5,21.7 522.5,21.2 523.5,20.6" fill="none" stroke="#8b5cd6" stroke-width="1.35" stroke-linejoin="round" stroke-linecap="round" clip-path="url(#jc)"/>
<polyline points="419.5,79.6 420.5,79.1 421.5,78.7 422.5,78.2 423.5,77.8 424.5,77.3 425.5,76.9 426.5,76.4 427.5,75.9 428.5,75.5 429.5,75.0 430.5,74.6 431.5,74.1 432.5,73.6 433.5,73.2 434.5,72.7 435.5,72.2 436.5,71.8 437.5,71.3 438.5,70.8 439.5,70.4 440.5,69.9 441.5,69.4 442.5,69.0 443.5,68.5 444.5,68.0 445.5,67.6 446.5,67.1 447.5,66.6 448.5,66.1 449.5,65.7 450.5,65.2 451.5,64.7 452.5,64.3 453.5,63.8 454.5,63.3 455.5,62.8 456.5,62.3 457.5,61.9 458.5,61.4 459.5,60.9 460.5,60.4 461.5,60.0 462.5,59.5 463.5,59.0 464.5,58.5 465.5,58.0 466.5,57.5 467.5,57.1 468.5,56.6 469.5,56.1 470.5,55.6 471.5,55.1 472.5,54.6 473.5,54.1 474.5,53.6 475.5,53.2 476.5,52.7 477.5,52.2 478.5,51.7 479.5,51.2 480.5,50.7 481.5,50.2 482.5,49.7 483.5,49.2 484.5,48.7 485.5,48.2 486.5,47.7 487.5,47.2 488.5,46.7 489.5,46.2 490.5,45.7 491.5,45.2 492.5,44.7 493.5,44.2 494.5,43.7 495.5,43.2 496.5,42.7 497.5,42.2 498.5,41.7 499.5,41.2 500.5,40.7 501.5,40.2 502.5,39.7 503.5,39.2 504.5,38.7 505.5,38.2 506.5,37.7 507.5,37.2 508.5,36.7 509.5,36.2 510.5,35.6 511.5,35.1 512.5,34.6 513.5,34.1 514.5,33.6 515.5,33.1 516.5,32.6 517.5,32.1 518.5,31.5 519.5,31.0 520.5,30.5 521.5,30.0 522.5,29.5 523.5,29.0" fill="none" stroke="#e8308a" stroke-width="1.35" stroke-linejoin="round" stroke-linecap="round" clip-path="url(#jc)"/>
<line x1="419.40" y1="79.70" x2="422.40" y2="79.70" stroke="#000" stroke-width="1" />
<text x="416.30" y="83.50" font-size="11" text-anchor="end" fill="#000"  stroke="#000" stroke-width="0.132">0</text>
<line x1="419.40" y1="56.90" x2="422.40" y2="56.90" stroke="#000" stroke-width="1" />
<text x="416.30" y="60.70" font-size="11" text-anchor="end" fill="#000"  stroke="#000" stroke-width="0.132">7</text>
<line x1="419.40" y1="34.10" x2="422.40" y2="34.10" stroke="#000" stroke-width="1" />
<text x="416.30" y="37.90" font-size="11" text-anchor="end" fill="#000"  stroke="#000" stroke-width="0.132">14</text>
<line x1="419.40" y1="11.30" x2="422.40" y2="11.30" stroke="#000" stroke-width="1" />
<text x="416.30" y="15.10" font-size="11" text-anchor="end" fill="#000"  stroke="#000" stroke-width="0.132">21</text>
<line x1="419.40" y1="68.30" x2="421.40" y2="68.30" stroke="#000" stroke-width="1" />
<line x1="419.40" y1="45.50" x2="421.40" y2="45.50" stroke="#000" stroke-width="1" />
<line x1="419.40" y1="22.70" x2="421.40" y2="22.70" stroke="#000" stroke-width="1" />
<line x1="419.40" y1="79.80" x2="419.40" y2="76.80" stroke="#000" stroke-width="1" />
<text x="419.40" y="91.40" font-size="10" text-anchor="middle" fill="#000"  stroke="#000" stroke-width="0.120">0</text>
<line x1="440.20" y1="79.80" x2="440.20" y2="76.80" stroke="#000" stroke-width="1" />
<text x="440.20" y="91.40" font-size="10" text-anchor="middle" fill="#000"  stroke="#000" stroke-width="0.120">2</text>
<line x1="461.00" y1="79.80" x2="461.00" y2="76.80" stroke="#000" stroke-width="1" />
<text x="461.00" y="91.40" font-size="10" text-anchor="middle" fill="#000"  stroke="#000" stroke-width="0.120">4</text>
<line x1="481.80" y1="79.80" x2="481.80" y2="76.80" stroke="#000" stroke-width="1" />
<text x="481.80" y="91.40" font-size="10" text-anchor="middle" fill="#000"  stroke="#000" stroke-width="0.120">6</text>
<line x1="502.60" y1="79.80" x2="502.60" y2="76.80" stroke="#000" stroke-width="1" />
<text x="502.60" y="91.40" font-size="10" text-anchor="middle" fill="#000"  stroke="#000" stroke-width="0.120">8</text>
<line x1="429.80" y1="79.80" x2="429.80" y2="77.80" stroke="#000" stroke-width="1" />
<line x1="450.60" y1="79.80" x2="450.60" y2="77.80" stroke="#000" stroke-width="1" />
<line x1="471.40" y1="79.80" x2="471.40" y2="77.80" stroke="#000" stroke-width="1" />
<line x1="492.20" y1="79.80" x2="492.20" y2="77.80" stroke="#000" stroke-width="1" />
<line x1="513.00" y1="79.80" x2="513.00" y2="77.80" stroke="#000" stroke-width="1" />
<text x="459.00" y="104.80" font-size="11" text-anchor="start" fill="#000"  stroke="#000" stroke-width="0.132">T (K)</text>
<text x="0" y="0" font-size="10.7" text-anchor="start" fill="#000" transform="translate(402.60 87.00) rotate(-90)"  stroke="#000" stroke-width="0.128">S</text>
<text x="0" y="0" font-size="6.05" text-anchor="start" fill="#000" transform="translate(407.00 79.00) rotate(-90)"  stroke="#000" stroke-width="0.073">magnetic</text>
<text x="0" y="0" font-size="10.7" text-anchor="start" fill="#000" transform="translate(402.10 54.90) rotate(-90)"  stroke="#000" stroke-width="0.128">(J/kg Ho K)</text>
<line x1="423.20" y1="7.70" x2="438.70" y2="7.70" stroke="#000" stroke-width="1.5" />
<text x="441.00" y="10.00" font-size="7.2" text-anchor="start" fill="#000"  stroke="#000" stroke-width="0.086">Zero field</text>
<line x1="423.20" y1="16.40" x2="438.70" y2="16.40" stroke="#9b30c8" stroke-width="1.5" />
<text x="441.00" y="18.70" font-size="7.2" text-anchor="start" fill="#000"  stroke="#000" stroke-width="0.086">10 kOe</text>
<line x1="423.20" y1="24.70" x2="438.70" y2="24.70" stroke="#2e9a4a" stroke-width="1.5" />
<text x="441.00" y="27.20" font-size="7.2" text-anchor="start" fill="#000"  stroke="#000" stroke-width="0.086">20 kOe</text>
<line x1="479.00" y1="55.60" x2="494.40" y2="55.60" stroke="#f39c34" stroke-width="1.5" />
<text x="497.10" y="57.90" font-size="7.2" text-anchor="start" fill="#000"  stroke="#000" stroke-width="0.086">30 kOe</text>
<line x1="479.00" y1="64.30" x2="494.40" y2="64.30" stroke="#8b5cd6" stroke-width="1.5" />
<text x="497.10" y="66.50" font-size="7.2" text-anchor="start" fill="#000"  stroke="#000" stroke-width="0.086">50 kOe</text>
<line x1="479.00" y1="72.90" x2="494.40" y2="72.90" stroke="#e8308a" stroke-width="1.5" />
<text x="497.10" y="75.20" font-size="7.2" text-anchor="start" fill="#000"  stroke="#000" stroke-width="0.086">70 kOe</text>
</g>
</svg></body></html>
